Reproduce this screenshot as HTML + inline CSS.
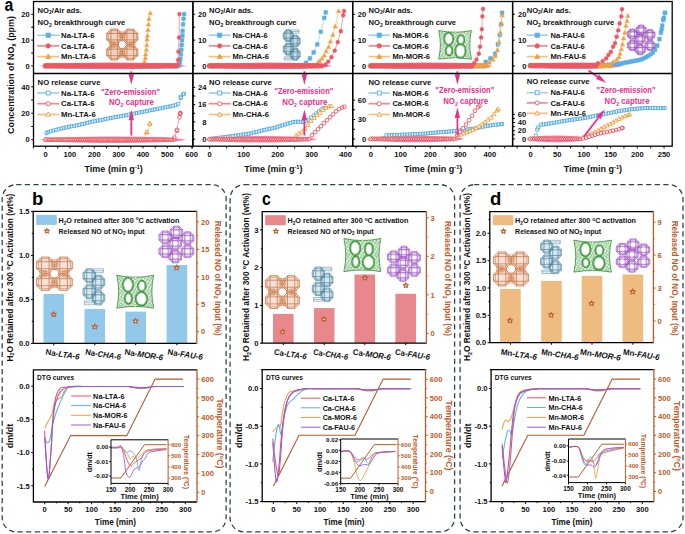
<!DOCTYPE html>
<html><head><meta charset="utf-8"><style>
html,body{margin:0;padding:0;background:#fff;width:685px;height:534px;overflow:hidden}
svg{display:block}
text{font-family:"Liberation Sans",sans-serif}
</style></head><body>
<svg width="685" height="534" viewBox="0 0 685 534">
<rect width="685" height="534" fill="#fff"/>
<text x="4.60" y="11.30" font-size="18" font-weight="bold" fill="#000" text-anchor="start" textLength="8.80" lengthAdjust="spacingAndGlyphs" >a</text>
<text transform="translate(14.0,75.0) rotate(-90)" font-size="9.6" font-weight="bold" fill="#111" text-anchor="middle" textLength="118" lengthAdjust="spacingAndGlyphs">Concentration of NO<tspan font-size="6.5" dy="2">x</tspan><tspan dy="-2"> (ppm)</tspan></text>
<line x1="33.43" y1="146.20" x2="33.43" y2="148.40" stroke="#000" stroke-width="1" />
<line x1="45.60" y1="146.20" x2="45.60" y2="148.40" stroke="#000" stroke-width="1" />
<line x1="57.77" y1="146.20" x2="57.77" y2="148.40" stroke="#000" stroke-width="1" />
<line x1="69.95" y1="146.20" x2="69.95" y2="148.40" stroke="#000" stroke-width="1" />
<line x1="82.12" y1="146.20" x2="82.12" y2="148.40" stroke="#000" stroke-width="1" />
<line x1="94.30" y1="146.20" x2="94.30" y2="148.40" stroke="#000" stroke-width="1" />
<line x1="106.47" y1="146.20" x2="106.47" y2="148.40" stroke="#000" stroke-width="1" />
<line x1="118.65" y1="146.20" x2="118.65" y2="148.40" stroke="#000" stroke-width="1" />
<line x1="130.82" y1="146.20" x2="130.82" y2="148.40" stroke="#000" stroke-width="1" />
<line x1="143.00" y1="146.20" x2="143.00" y2="148.40" stroke="#000" stroke-width="1" />
<line x1="155.18" y1="146.20" x2="155.18" y2="148.40" stroke="#000" stroke-width="1" />
<line x1="167.35" y1="146.20" x2="167.35" y2="148.40" stroke="#000" stroke-width="1" />
<line x1="179.52" y1="146.20" x2="179.52" y2="148.40" stroke="#000" stroke-width="1" />
<line x1="191.70" y1="146.20" x2="191.70" y2="148.40" stroke="#000" stroke-width="1" />
<text x="45.60" y="157.40" font-size="7.6" font-weight="bold" fill="#111" text-anchor="middle" >0</text>
<text x="69.95" y="157.40" font-size="7.6" font-weight="bold" fill="#111" text-anchor="middle" >100</text>
<text x="94.30" y="157.40" font-size="7.6" font-weight="bold" fill="#111" text-anchor="middle" >200</text>
<text x="118.65" y="157.40" font-size="7.6" font-weight="bold" fill="#111" text-anchor="middle" >300</text>
<text x="143.00" y="157.40" font-size="7.6" font-weight="bold" fill="#111" text-anchor="middle" >400</text>
<text x="167.35" y="157.40" font-size="7.6" font-weight="bold" fill="#111" text-anchor="middle" >500</text>
<text x="191.70" y="157.40" font-size="7.6" font-weight="bold" fill="#111" text-anchor="middle" >600</text>
<text x="113.7" y="172.2" font-size="9" font-weight="bold" fill="#111" text-anchor="middle">Time (min g<tspan font-size="5.6" dy="-3.3">-1</tspan><tspan dy="3.3">)</tspan></text>
<line x1="31.20" y1="65.90" x2="33.50" y2="65.90" stroke="#000" stroke-width="1" />
<text x="29.70" y="68.60" font-size="7.6" font-weight="bold" fill="#111" text-anchor="end" >0</text>
<line x1="31.20" y1="53.00" x2="33.50" y2="53.00" stroke="#000" stroke-width="1" />
<line x1="31.20" y1="40.10" x2="33.50" y2="40.10" stroke="#000" stroke-width="1" />
<text x="29.70" y="42.80" font-size="7.6" font-weight="bold" fill="#111" text-anchor="end" >10</text>
<line x1="31.20" y1="27.20" x2="33.50" y2="27.20" stroke="#000" stroke-width="1" />
<line x1="31.20" y1="14.30" x2="33.50" y2="14.30" stroke="#000" stroke-width="1" />
<text x="29.70" y="17.00" font-size="7.6" font-weight="bold" fill="#111" text-anchor="end" >20</text>
<line x1="31.20" y1="139.70" x2="33.50" y2="139.70" stroke="#000" stroke-width="1" />
<line x1="31.20" y1="113.25" x2="33.50" y2="113.25" stroke="#000" stroke-width="1" />
<line x1="31.20" y1="86.80" x2="33.50" y2="86.80" stroke="#000" stroke-width="1" />
<line x1="31.20" y1="126.47" x2="33.50" y2="126.47" stroke="#000" stroke-width="1" />
<line x1="31.20" y1="100.02" x2="33.50" y2="100.02" stroke="#000" stroke-width="1" />
<text x="29.70" y="142.40" font-size="7.6" font-weight="bold" fill="#111" text-anchor="end" >0</text>
<text x="29.70" y="115.95" font-size="7.6" font-weight="bold" fill="#111" text-anchor="end" >20</text>
<text x="29.70" y="89.50" font-size="7.6" font-weight="bold" fill="#111" text-anchor="end" >40</text>
<line x1="192.60" y1="146.20" x2="192.60" y2="148.40" stroke="#000" stroke-width="1" />
<line x1="209.60" y1="146.20" x2="209.60" y2="148.40" stroke="#000" stroke-width="1" />
<line x1="226.60" y1="146.20" x2="226.60" y2="148.40" stroke="#000" stroke-width="1" />
<line x1="243.60" y1="146.20" x2="243.60" y2="148.40" stroke="#000" stroke-width="1" />
<line x1="260.60" y1="146.20" x2="260.60" y2="148.40" stroke="#000" stroke-width="1" />
<line x1="277.60" y1="146.20" x2="277.60" y2="148.40" stroke="#000" stroke-width="1" />
<line x1="294.60" y1="146.20" x2="294.60" y2="148.40" stroke="#000" stroke-width="1" />
<line x1="311.60" y1="146.20" x2="311.60" y2="148.40" stroke="#000" stroke-width="1" />
<line x1="328.60" y1="146.20" x2="328.60" y2="148.40" stroke="#000" stroke-width="1" />
<line x1="345.60" y1="146.20" x2="345.60" y2="148.40" stroke="#000" stroke-width="1" />
<text x="209.60" y="157.40" font-size="7.6" font-weight="bold" fill="#111" text-anchor="middle" >0</text>
<text x="243.60" y="157.40" font-size="7.6" font-weight="bold" fill="#111" text-anchor="middle" >100</text>
<text x="277.60" y="157.40" font-size="7.6" font-weight="bold" fill="#111" text-anchor="middle" >200</text>
<text x="311.60" y="157.40" font-size="7.6" font-weight="bold" fill="#111" text-anchor="middle" >300</text>
<text x="345.60" y="157.40" font-size="7.6" font-weight="bold" fill="#111" text-anchor="middle" >400</text>
<text x="273.3" y="172.2" font-size="9" font-weight="bold" fill="#111" text-anchor="middle">Time (min g<tspan font-size="5.6" dy="-3.3">-1</tspan><tspan dy="3.3">)</tspan></text>
<line x1="192.90" y1="65.90" x2="195.20" y2="65.90" stroke="#000" stroke-width="1" />
<text x="206.50" y="68.60" font-size="7.6" font-weight="bold" fill="#111" text-anchor="end" >0</text>
<line x1="192.90" y1="53.00" x2="195.20" y2="53.00" stroke="#000" stroke-width="1" />
<line x1="192.90" y1="40.10" x2="195.20" y2="40.10" stroke="#000" stroke-width="1" />
<text x="206.50" y="42.80" font-size="7.6" font-weight="bold" fill="#111" text-anchor="end" >10</text>
<line x1="192.90" y1="27.20" x2="195.20" y2="27.20" stroke="#000" stroke-width="1" />
<line x1="192.90" y1="14.30" x2="195.20" y2="14.30" stroke="#000" stroke-width="1" />
<text x="206.50" y="17.00" font-size="7.6" font-weight="bold" fill="#111" text-anchor="end" >20</text>
<line x1="192.90" y1="139.20" x2="195.20" y2="139.20" stroke="#000" stroke-width="1" />
<line x1="192.90" y1="121.92" x2="195.20" y2="121.92" stroke="#000" stroke-width="1" />
<line x1="192.90" y1="104.64" x2="195.20" y2="104.64" stroke="#000" stroke-width="1" />
<line x1="192.90" y1="87.36" x2="195.20" y2="87.36" stroke="#000" stroke-width="1" />
<line x1="192.90" y1="130.56" x2="195.20" y2="130.56" stroke="#000" stroke-width="1" />
<line x1="192.90" y1="113.28" x2="195.20" y2="113.28" stroke="#000" stroke-width="1" />
<line x1="192.90" y1="96.00" x2="195.20" y2="96.00" stroke="#000" stroke-width="1" />
<text x="206.50" y="141.90" font-size="7.6" font-weight="bold" fill="#111" text-anchor="end" >0</text>
<text x="206.50" y="124.62" font-size="7.6" font-weight="bold" fill="#111" text-anchor="end" >8</text>
<text x="206.50" y="107.34" font-size="7.6" font-weight="bold" fill="#111" text-anchor="end" >16</text>
<text x="206.50" y="90.06" font-size="7.6" font-weight="bold" fill="#111" text-anchor="end" >24</text>
<line x1="355.93" y1="146.20" x2="355.93" y2="148.40" stroke="#000" stroke-width="1" />
<line x1="370.80" y1="146.20" x2="370.80" y2="148.40" stroke="#000" stroke-width="1" />
<line x1="385.68" y1="146.20" x2="385.68" y2="148.40" stroke="#000" stroke-width="1" />
<line x1="400.55" y1="146.20" x2="400.55" y2="148.40" stroke="#000" stroke-width="1" />
<line x1="415.43" y1="146.20" x2="415.43" y2="148.40" stroke="#000" stroke-width="1" />
<line x1="430.30" y1="146.20" x2="430.30" y2="148.40" stroke="#000" stroke-width="1" />
<line x1="445.18" y1="146.20" x2="445.18" y2="148.40" stroke="#000" stroke-width="1" />
<line x1="460.05" y1="146.20" x2="460.05" y2="148.40" stroke="#000" stroke-width="1" />
<line x1="474.93" y1="146.20" x2="474.93" y2="148.40" stroke="#000" stroke-width="1" />
<line x1="489.80" y1="146.20" x2="489.80" y2="148.40" stroke="#000" stroke-width="1" />
<line x1="504.68" y1="146.20" x2="504.68" y2="148.40" stroke="#000" stroke-width="1" />
<text x="370.80" y="157.40" font-size="7.6" font-weight="bold" fill="#111" text-anchor="middle" >0</text>
<text x="400.55" y="157.40" font-size="7.6" font-weight="bold" fill="#111" text-anchor="middle" >100</text>
<text x="430.30" y="157.40" font-size="7.6" font-weight="bold" fill="#111" text-anchor="middle" >200</text>
<text x="460.05" y="157.40" font-size="7.6" font-weight="bold" fill="#111" text-anchor="middle" >300</text>
<text x="489.80" y="157.40" font-size="7.6" font-weight="bold" fill="#111" text-anchor="middle" >400</text>
<text x="433.1" y="172.2" font-size="9" font-weight="bold" fill="#111" text-anchor="middle">Time (min g<tspan font-size="5.6" dy="-3.3">-1</tspan><tspan dy="3.3">)</tspan></text>
<line x1="352.70" y1="65.90" x2="355.00" y2="65.90" stroke="#000" stroke-width="1" />
<text x="366.30" y="68.60" font-size="7.6" font-weight="bold" fill="#111" text-anchor="end" >0</text>
<line x1="352.70" y1="53.00" x2="355.00" y2="53.00" stroke="#000" stroke-width="1" />
<line x1="352.70" y1="40.10" x2="355.00" y2="40.10" stroke="#000" stroke-width="1" />
<text x="366.30" y="42.80" font-size="7.6" font-weight="bold" fill="#111" text-anchor="end" >10</text>
<line x1="352.70" y1="27.20" x2="355.00" y2="27.20" stroke="#000" stroke-width="1" />
<line x1="352.70" y1="14.30" x2="355.00" y2="14.30" stroke="#000" stroke-width="1" />
<text x="366.30" y="17.00" font-size="7.6" font-weight="bold" fill="#111" text-anchor="end" >20</text>
<line x1="352.70" y1="139.00" x2="355.00" y2="139.00" stroke="#000" stroke-width="1" />
<line x1="352.70" y1="119.50" x2="355.00" y2="119.50" stroke="#000" stroke-width="1" />
<line x1="352.70" y1="100.00" x2="355.00" y2="100.00" stroke="#000" stroke-width="1" />
<line x1="352.70" y1="129.25" x2="355.00" y2="129.25" stroke="#000" stroke-width="1" />
<line x1="352.70" y1="109.75" x2="355.00" y2="109.75" stroke="#000" stroke-width="1" />
<text x="366.30" y="141.70" font-size="7.6" font-weight="bold" fill="#111" text-anchor="end" >0</text>
<text x="366.30" y="122.20" font-size="7.6" font-weight="bold" fill="#111" text-anchor="end" >30</text>
<text x="366.30" y="102.70" font-size="7.6" font-weight="bold" fill="#111" text-anchor="end" >60</text>
<line x1="517.15" y1="146.20" x2="517.15" y2="148.40" stroke="#000" stroke-width="1" />
<line x1="530.50" y1="146.20" x2="530.50" y2="148.40" stroke="#000" stroke-width="1" />
<line x1="543.85" y1="146.20" x2="543.85" y2="148.40" stroke="#000" stroke-width="1" />
<line x1="557.20" y1="146.20" x2="557.20" y2="148.40" stroke="#000" stroke-width="1" />
<line x1="570.55" y1="146.20" x2="570.55" y2="148.40" stroke="#000" stroke-width="1" />
<line x1="583.90" y1="146.20" x2="583.90" y2="148.40" stroke="#000" stroke-width="1" />
<line x1="597.25" y1="146.20" x2="597.25" y2="148.40" stroke="#000" stroke-width="1" />
<line x1="610.60" y1="146.20" x2="610.60" y2="148.40" stroke="#000" stroke-width="1" />
<line x1="623.95" y1="146.20" x2="623.95" y2="148.40" stroke="#000" stroke-width="1" />
<line x1="637.30" y1="146.20" x2="637.30" y2="148.40" stroke="#000" stroke-width="1" />
<line x1="650.65" y1="146.20" x2="650.65" y2="148.40" stroke="#000" stroke-width="1" />
<line x1="664.00" y1="146.20" x2="664.00" y2="148.40" stroke="#000" stroke-width="1" />
<text x="530.50" y="157.40" font-size="7.6" font-weight="bold" fill="#111" text-anchor="middle" >0</text>
<text x="557.20" y="157.40" font-size="7.6" font-weight="bold" fill="#111" text-anchor="middle" >50</text>
<text x="583.90" y="157.40" font-size="7.6" font-weight="bold" fill="#111" text-anchor="middle" >100</text>
<text x="610.60" y="157.40" font-size="7.6" font-weight="bold" fill="#111" text-anchor="middle" >150</text>
<text x="637.30" y="157.40" font-size="7.6" font-weight="bold" fill="#111" text-anchor="middle" >200</text>
<text x="664.00" y="157.40" font-size="7.6" font-weight="bold" fill="#111" text-anchor="middle" >250</text>
<text x="592.9" y="172.2" font-size="9" font-weight="bold" fill="#111" text-anchor="middle">Time (min g<tspan font-size="5.6" dy="-3.3">-1</tspan><tspan dy="3.3">)</tspan></text>
<line x1="512.60" y1="65.90" x2="514.90" y2="65.90" stroke="#000" stroke-width="1" />
<text x="526.40" y="68.60" font-size="7.6" font-weight="bold" fill="#111" text-anchor="end" >0</text>
<line x1="512.60" y1="53.00" x2="514.90" y2="53.00" stroke="#000" stroke-width="1" />
<line x1="512.60" y1="40.10" x2="514.90" y2="40.10" stroke="#000" stroke-width="1" />
<text x="526.40" y="42.80" font-size="7.6" font-weight="bold" fill="#111" text-anchor="end" >10</text>
<line x1="512.60" y1="27.20" x2="514.90" y2="27.20" stroke="#000" stroke-width="1" />
<line x1="512.60" y1="14.30" x2="514.90" y2="14.30" stroke="#000" stroke-width="1" />
<text x="526.40" y="17.00" font-size="7.6" font-weight="bold" fill="#111" text-anchor="end" >20</text>
<line x1="512.60" y1="138.90" x2="514.90" y2="138.90" stroke="#000" stroke-width="1" />
<line x1="512.60" y1="130.70" x2="514.90" y2="130.70" stroke="#000" stroke-width="1" />
<line x1="512.60" y1="122.50" x2="514.90" y2="122.50" stroke="#000" stroke-width="1" />
<line x1="512.60" y1="114.30" x2="514.90" y2="114.30" stroke="#000" stroke-width="1" />
<line x1="512.60" y1="134.80" x2="514.90" y2="134.80" stroke="#000" stroke-width="1" />
<line x1="512.60" y1="126.60" x2="514.90" y2="126.60" stroke="#000" stroke-width="1" />
<line x1="512.60" y1="118.40" x2="514.90" y2="118.40" stroke="#000" stroke-width="1" />
<text x="526.20" y="141.60" font-size="7.6" font-weight="bold" fill="#111" text-anchor="end" >0</text>
<text x="526.20" y="133.40" font-size="7.6" font-weight="bold" fill="#111" text-anchor="end" >20</text>
<text x="526.20" y="125.20" font-size="7.6" font-weight="bold" fill="#111" text-anchor="end" >40</text>
<text x="526.20" y="117.00" font-size="7.6" font-weight="bold" fill="#111" text-anchor="end" >60</text>
<path d="M39.5,65.9 Q57.1,62.6 113.0,62.6 Q168.9,62.6 186.5,65.9 Q168.9,69.2 113.0,69.2 Q57.1,69.2 39.5,65.9Z" fill="#ee6cbc" opacity="0.9"/>
<polyline points="45.60,65.90 47.01,65.90 48.42,65.90 49.83,65.90 51.23,65.90 52.64,65.90 54.05,65.90 55.46,65.90 56.87,65.90 58.28,65.90 59.69,65.90 61.09,65.90 62.50,65.90 63.91,65.90 65.32,65.90 66.73,65.90 68.14,65.90 69.54,65.90 70.95,65.90 72.36,65.90 73.77,65.90 75.18,65.90 76.59,65.90 78.00,65.90 79.40,65.90 80.81,65.90 82.22,65.90 83.63,65.90 85.04,65.90 86.45,65.90 87.86,65.90 89.26,65.90 90.67,65.90 92.08,65.90 93.49,65.90 94.90,65.90 96.31,65.90 97.71,65.90 99.12,65.90 100.53,65.90 101.94,65.90 103.35,65.90 104.76,65.90 106.17,65.90 107.57,65.90 108.98,65.90 110.39,65.90 111.80,65.90 113.21,65.90 114.62,65.90 116.03,65.90 117.43,65.90 118.84,65.90 120.25,65.90 121.66,65.90 123.07,65.90 124.48,65.90 125.89,65.90 127.29,65.90 128.70,65.90 130.11,65.90 131.52,65.90 132.93,65.90 134.34,65.90 135.74,65.90 137.15,65.90 138.56,65.90 139.97,65.90 141.38,65.90 142.79,65.90 144.20,65.90 145.60,65.90 147.01,65.90 148.42,65.90 149.83,65.90 151.24,65.90 152.65,65.90 154.06,65.90 155.46,65.90 156.87,65.90 158.28,65.90 159.69,65.90 161.10,65.90 162.51,65.90 163.91,65.90 165.32,65.90 166.73,65.90 168.14,65.90 169.55,65.90 170.96,65.90 172.37,65.90 173.77,65.90 175.18,65.90 176.59,65.90 178.00,65.90 179.80,62.80 180.30,59.00 180.90,54.40 181.30,49.70 181.60,45.00 182.00,40.30 182.40,35.60 182.70,30.90 183.10,24.40 183.50,18.80 184.00,14.10" stroke="#9fd0f0" stroke-width="0.8" fill="none" stroke-linejoin="round" />
<line x1="45.60" y1="65.90" x2="178.00" y2="65.90" stroke="#5aafe3" stroke-width="4.2" />
<path d="M43.5,63.8h4.2v4.2h-4.2zM45.7,63.8h4.2v4.2h-4.2zM47.9,63.8h4.2v4.2h-4.2zM50.1,63.8h4.2v4.2h-4.2zM52.3,63.8h4.2v4.2h-4.2zM54.5,63.8h4.2v4.2h-4.2zM56.7,63.8h4.2v4.2h-4.2zM58.9,63.8h4.2v4.2h-4.2zM61.2,63.8h4.2v4.2h-4.2zM63.4,63.8h4.2v4.2h-4.2zM65.6,63.8h4.2v4.2h-4.2zM67.8,63.8h4.2v4.2h-4.2zM70.0,63.8h4.2v4.2h-4.2zM72.2,63.8h4.2v4.2h-4.2zM74.4,63.8h4.2v4.2h-4.2zM76.6,63.8h4.2v4.2h-4.2zM78.8,63.8h4.2v4.2h-4.2zM81.0,63.8h4.2v4.2h-4.2zM83.2,63.8h4.2v4.2h-4.2zM85.4,63.8h4.2v4.2h-4.2zM87.6,63.8h4.2v4.2h-4.2zM89.8,63.8h4.2v4.2h-4.2zM92.0,63.8h4.2v4.2h-4.2zM94.3,63.8h4.2v4.2h-4.2zM96.5,63.8h4.2v4.2h-4.2zM98.7,63.8h4.2v4.2h-4.2zM100.9,63.8h4.2v4.2h-4.2zM103.1,63.8h4.2v4.2h-4.2zM105.3,63.8h4.2v4.2h-4.2zM107.5,63.8h4.2v4.2h-4.2zM109.7,63.8h4.2v4.2h-4.2zM111.9,63.8h4.2v4.2h-4.2zM114.1,63.8h4.2v4.2h-4.2zM116.3,63.8h4.2v4.2h-4.2zM118.5,63.8h4.2v4.2h-4.2zM120.7,63.8h4.2v4.2h-4.2zM122.9,63.8h4.2v4.2h-4.2zM125.1,63.8h4.2v4.2h-4.2zM127.4,63.8h4.2v4.2h-4.2zM129.6,63.8h4.2v4.2h-4.2zM131.8,63.8h4.2v4.2h-4.2zM134.0,63.8h4.2v4.2h-4.2zM136.2,63.8h4.2v4.2h-4.2zM138.4,63.8h4.2v4.2h-4.2zM140.6,63.8h4.2v4.2h-4.2zM142.8,63.8h4.2v4.2h-4.2zM145.0,63.8h4.2v4.2h-4.2zM147.2,63.8h4.2v4.2h-4.2zM149.4,63.8h4.2v4.2h-4.2zM151.6,63.8h4.2v4.2h-4.2zM153.8,63.8h4.2v4.2h-4.2zM156.0,63.8h4.2v4.2h-4.2zM158.2,63.8h4.2v4.2h-4.2zM160.5,63.8h4.2v4.2h-4.2zM162.7,63.8h4.2v4.2h-4.2zM164.9,63.8h4.2v4.2h-4.2zM167.1,63.8h4.2v4.2h-4.2zM169.3,63.8h4.2v4.2h-4.2zM171.5,63.8h4.2v4.2h-4.2zM173.7,63.8h4.2v4.2h-4.2zM175.9,63.8h4.2v4.2h-4.2z" fill="#5aafe3" stroke="#5aafe3" stroke-width="0.5"/>
<path d="M178.0,60.9h3.7v3.7h-3.7zM178.5,57.1h3.7v3.7h-3.7zM179.1,52.5h3.7v3.7h-3.7zM179.5,47.9h3.7v3.7h-3.7zM179.8,43.1h3.7v3.7h-3.7zM180.2,38.4h3.7v3.7h-3.7zM180.6,33.8h3.7v3.7h-3.7zM180.8,29.0h3.7v3.7h-3.7zM181.2,22.5h3.7v3.7h-3.7zM181.7,16.9h3.7v3.7h-3.7zM182.2,12.2h3.7v3.7h-3.7z" fill="#5aafe3" stroke="#5aafe3" stroke-width="0.5"/>
<polyline points="45.60,65.90 47.02,65.90 48.44,65.90 49.86,65.90 51.28,65.90 52.69,65.90 54.11,65.90 55.53,65.90 56.95,65.90 58.37,65.90 59.79,65.90 61.21,65.90 62.63,65.90 64.04,65.90 65.46,65.90 66.88,65.90 68.30,65.90 69.72,65.90 71.14,65.90 72.56,65.90 73.98,65.90 75.40,65.90 76.81,65.90 78.23,65.90 79.65,65.90 81.07,65.90 82.49,65.90 83.91,65.90 85.33,65.90 86.75,65.90 88.17,65.90 89.58,65.90 91.00,65.90 92.42,65.90 93.84,65.90 95.26,65.90 96.68,65.90 98.10,65.90 99.52,65.90 100.93,65.90 102.35,65.90 103.77,65.90 105.19,65.90 106.61,65.90 108.03,65.90 109.45,65.90 110.87,65.90 112.29,65.90 113.70,65.90 115.12,65.90 116.54,65.90 117.96,65.90 119.38,65.90 120.80,65.90 122.22,65.90 123.64,65.90 125.06,65.90 126.47,65.90 127.89,65.90 129.31,65.90 130.73,65.90 132.15,65.90 133.57,65.90 134.99,65.90 136.41,65.90 137.82,65.90 139.24,65.90 140.66,65.90 142.08,65.90 143.50,65.90 144.50,61.90 145.30,58.10 145.60,54.40 146.40,49.70 146.80,45.00 147.10,39.40 147.50,35.60 147.90,30.00 148.40,24.40 149.00,18.80 150.30,13.10" stroke="#f3c080" stroke-width="0.8" fill="none" stroke-linejoin="round" />
<line x1="45.60" y1="65.90" x2="143.50" y2="65.90" stroke="#f0a040" stroke-width="4.2" />
<path d="M45.6,63.3L48.1,67.7L43.1,67.7zM47.8,63.3L50.3,67.7L45.3,67.7zM50.1,63.3L52.5,67.7L47.6,67.7zM52.3,63.3L54.8,67.7L49.8,67.7zM54.5,63.3L57.0,67.7L52.0,67.7zM56.7,63.3L59.2,67.7L54.2,67.7zM59.0,63.3L61.4,67.7L56.5,67.7zM61.2,63.3L63.7,67.7L58.7,67.7zM63.4,63.3L65.9,67.7L60.9,67.7zM65.6,63.3L68.1,67.7L63.1,67.7zM67.8,63.3L70.3,67.7L65.4,67.7zM70.1,63.3L72.6,67.7L67.6,67.7zM72.3,63.3L74.8,67.7L69.8,67.7zM74.5,63.3L77.0,67.7L72.0,67.7zM76.8,63.3L79.2,67.7L74.3,67.7zM79.0,63.3L81.5,67.7L76.5,67.7zM81.2,63.3L83.7,67.7L78.7,67.7zM83.4,63.3L85.9,67.7L80.9,67.7zM85.7,63.3L88.1,67.7L83.2,67.7zM87.9,63.3L90.4,67.7L85.4,67.7zM90.1,63.3L92.6,67.7L87.6,67.7zM92.3,63.3L94.8,67.7L89.8,67.7zM94.6,63.3L97.0,67.7L92.1,67.7zM96.8,63.3L99.3,67.7L94.3,67.7zM99.0,63.3L101.5,67.7L96.5,67.7zM101.2,63.3L103.7,67.7L98.7,67.7zM103.5,63.3L105.9,67.7L101.0,67.7zM105.7,63.3L108.2,67.7L103.2,67.7zM107.9,63.3L110.4,67.7L105.4,67.7zM110.1,63.3L112.6,67.7L107.6,67.7zM112.3,63.3L114.8,67.7L109.9,67.7zM114.6,63.3L117.1,67.7L112.1,67.7zM116.8,63.3L119.3,67.7L114.3,67.7zM119.0,63.3L121.5,67.7L116.5,67.7zM121.2,63.3L123.7,67.7L118.8,67.7zM123.5,63.3L126.0,67.7L121.0,67.7zM125.7,63.3L128.2,67.7L123.2,67.7zM127.9,63.3L130.4,67.7L125.4,67.7zM130.2,63.3L132.6,67.7L127.7,67.7zM132.4,63.3L134.9,67.7L129.9,67.7zM134.6,63.3L137.1,67.7L132.1,67.7zM136.8,63.3L139.3,67.7L134.3,67.7zM139.1,63.3L141.5,67.7L136.6,67.7zM141.3,63.3L143.8,67.7L138.8,67.7zM143.5,63.3L146.0,67.7L141.0,67.7z" fill="#f0a040" stroke="#f0a040" stroke-width="0.5"/>
<path d="M144.5,59.6L146.7,63.5L142.3,63.5zM145.3,55.8L147.5,59.7L143.1,59.7zM145.6,52.1L147.8,56.0L143.4,56.0zM146.4,47.4L148.6,51.3L144.2,51.3zM146.8,42.7L149.0,46.6L144.6,46.6zM147.1,37.1L149.3,41.0L144.9,41.0zM147.5,33.3L149.7,37.2L145.3,37.2zM147.9,27.7L150.1,31.6L145.7,31.6zM148.4,22.1L150.6,26.0L146.2,26.0zM149.0,16.5L151.2,20.4L146.8,20.4zM150.3,10.8L152.5,14.7L148.1,14.7z" fill="#f0a040" stroke="#f0a040" stroke-width="0.5"/>
<polyline points="45.60,65.90 47.00,65.90 48.40,65.90 49.81,65.90 51.21,65.90 52.61,65.90 54.01,65.90 55.42,65.90 56.82,65.90 58.22,65.90 59.62,65.90 61.02,65.90 62.43,65.90 63.83,65.90 65.23,65.90 66.63,65.90 68.03,65.90 69.44,65.90 70.84,65.90 72.24,65.90 73.64,65.90 75.05,65.90 76.45,65.90 77.85,65.90 79.25,65.90 80.65,65.90 82.06,65.90 83.46,65.90 84.86,65.90 86.26,65.90 87.66,65.90 89.07,65.90 90.47,65.90 91.87,65.90 93.27,65.90 94.68,65.90 96.08,65.90 97.48,65.90 98.88,65.90 100.28,65.90 101.69,65.90 103.09,65.90 104.49,65.90 105.89,65.90 107.29,65.90 108.70,65.90 110.10,65.90 111.50,65.90 112.90,65.90 114.31,65.90 115.71,65.90 117.11,65.90 118.51,65.90 119.91,65.90 121.32,65.90 122.72,65.90 124.12,65.90 125.52,65.90 126.92,65.90 128.33,65.90 129.73,65.90 131.13,65.90 132.53,65.90 133.94,65.90 135.34,65.90 136.74,65.90 138.14,65.90 139.54,65.90 140.95,65.90 142.35,65.90 143.75,65.90 145.15,65.90 146.55,65.90 147.96,65.90 149.36,65.90 150.76,65.90 152.16,65.90 153.57,65.90 154.97,65.90 156.37,65.90 157.77,65.90 159.17,65.90 160.58,65.90 161.98,65.90 163.38,65.90 164.78,65.90 166.18,65.90 167.59,65.90 168.99,65.90 170.39,65.90 171.79,65.90 173.20,65.90 174.60,65.90 176.00,65.90 177.50,64.70 178.10,60.00 178.40,51.60 179.00,37.50 179.40,14.10" stroke="#ee8a90" stroke-width="0.8" fill="none" stroke-linejoin="round" />
<line x1="45.60" y1="65.90" x2="176.00" y2="65.90" stroke="#ef5660" stroke-width="4.2" />
<path d="M43.4,65.9a2.21,2.21 0 1,0 4.41,0a2.21,2.21 0 1,0 -4.41,0M45.6,65.9a2.21,2.21 0 1,0 4.41,0a2.21,2.21 0 1,0 -4.41,0M47.8,65.9a2.21,2.21 0 1,0 4.41,0a2.21,2.21 0 1,0 -4.41,0M50.0,65.9a2.21,2.21 0 1,0 4.41,0a2.21,2.21 0 1,0 -4.41,0M52.2,65.9a2.21,2.21 0 1,0 4.41,0a2.21,2.21 0 1,0 -4.41,0M54.4,65.9a2.21,2.21 0 1,0 4.41,0a2.21,2.21 0 1,0 -4.41,0M56.7,65.9a2.21,2.21 0 1,0 4.41,0a2.21,2.21 0 1,0 -4.41,0M58.9,65.9a2.21,2.21 0 1,0 4.41,0a2.21,2.21 0 1,0 -4.41,0M61.1,65.9a2.21,2.21 0 1,0 4.41,0a2.21,2.21 0 1,0 -4.41,0M63.3,65.9a2.21,2.21 0 1,0 4.41,0a2.21,2.21 0 1,0 -4.41,0M65.5,65.9a2.21,2.21 0 1,0 4.41,0a2.21,2.21 0 1,0 -4.41,0M67.7,65.9a2.21,2.21 0 1,0 4.41,0a2.21,2.21 0 1,0 -4.41,0M69.9,65.9a2.21,2.21 0 1,0 4.41,0a2.21,2.21 0 1,0 -4.41,0M72.1,65.9a2.21,2.21 0 1,0 4.41,0a2.21,2.21 0 1,0 -4.41,0M74.3,65.9a2.21,2.21 0 1,0 4.41,0a2.21,2.21 0 1,0 -4.41,0M76.5,65.9a2.21,2.21 0 1,0 4.41,0a2.21,2.21 0 1,0 -4.41,0M78.8,65.9a2.21,2.21 0 1,0 4.41,0a2.21,2.21 0 1,0 -4.41,0M81.0,65.9a2.21,2.21 0 1,0 4.41,0a2.21,2.21 0 1,0 -4.41,0M83.2,65.9a2.21,2.21 0 1,0 4.41,0a2.21,2.21 0 1,0 -4.41,0M85.4,65.9a2.21,2.21 0 1,0 4.41,0a2.21,2.21 0 1,0 -4.41,0M87.6,65.9a2.21,2.21 0 1,0 4.41,0a2.21,2.21 0 1,0 -4.41,0M89.8,65.9a2.21,2.21 0 1,0 4.41,0a2.21,2.21 0 1,0 -4.41,0M92.0,65.9a2.21,2.21 0 1,0 4.41,0a2.21,2.21 0 1,0 -4.41,0M94.2,65.9a2.21,2.21 0 1,0 4.41,0a2.21,2.21 0 1,0 -4.41,0M96.4,65.9a2.21,2.21 0 1,0 4.41,0a2.21,2.21 0 1,0 -4.41,0M98.6,65.9a2.21,2.21 0 1,0 4.41,0a2.21,2.21 0 1,0 -4.41,0M100.9,65.9a2.21,2.21 0 1,0 4.41,0a2.21,2.21 0 1,0 -4.41,0M103.1,65.9a2.21,2.21 0 1,0 4.41,0a2.21,2.21 0 1,0 -4.41,0M105.3,65.9a2.21,2.21 0 1,0 4.41,0a2.21,2.21 0 1,0 -4.41,0M107.5,65.9a2.21,2.21 0 1,0 4.41,0a2.21,2.21 0 1,0 -4.41,0M109.7,65.9a2.21,2.21 0 1,0 4.41,0a2.21,2.21 0 1,0 -4.41,0M111.9,65.9a2.21,2.21 0 1,0 4.41,0a2.21,2.21 0 1,0 -4.41,0M114.1,65.9a2.21,2.21 0 1,0 4.41,0a2.21,2.21 0 1,0 -4.41,0M116.3,65.9a2.21,2.21 0 1,0 4.41,0a2.21,2.21 0 1,0 -4.41,0M118.5,65.9a2.21,2.21 0 1,0 4.41,0a2.21,2.21 0 1,0 -4.41,0M120.8,65.9a2.21,2.21 0 1,0 4.41,0a2.21,2.21 0 1,0 -4.41,0M123.0,65.9a2.21,2.21 0 1,0 4.41,0a2.21,2.21 0 1,0 -4.41,0M125.2,65.9a2.21,2.21 0 1,0 4.41,0a2.21,2.21 0 1,0 -4.41,0M127.4,65.9a2.21,2.21 0 1,0 4.41,0a2.21,2.21 0 1,0 -4.41,0M129.6,65.9a2.21,2.21 0 1,0 4.41,0a2.21,2.21 0 1,0 -4.41,0M131.8,65.9a2.21,2.21 0 1,0 4.41,0a2.21,2.21 0 1,0 -4.41,0M134.0,65.9a2.21,2.21 0 1,0 4.41,0a2.21,2.21 0 1,0 -4.41,0M136.2,65.9a2.21,2.21 0 1,0 4.41,0a2.21,2.21 0 1,0 -4.41,0M138.4,65.9a2.21,2.21 0 1,0 4.41,0a2.21,2.21 0 1,0 -4.41,0M140.6,65.9a2.21,2.21 0 1,0 4.41,0a2.21,2.21 0 1,0 -4.41,0M142.9,65.9a2.21,2.21 0 1,0 4.41,0a2.21,2.21 0 1,0 -4.41,0M145.1,65.9a2.21,2.21 0 1,0 4.41,0a2.21,2.21 0 1,0 -4.41,0M147.3,65.9a2.21,2.21 0 1,0 4.41,0a2.21,2.21 0 1,0 -4.41,0M149.5,65.9a2.21,2.21 0 1,0 4.41,0a2.21,2.21 0 1,0 -4.41,0M151.7,65.9a2.21,2.21 0 1,0 4.41,0a2.21,2.21 0 1,0 -4.41,0M153.9,65.9a2.21,2.21 0 1,0 4.41,0a2.21,2.21 0 1,0 -4.41,0M156.1,65.9a2.21,2.21 0 1,0 4.41,0a2.21,2.21 0 1,0 -4.41,0M158.3,65.9a2.21,2.21 0 1,0 4.41,0a2.21,2.21 0 1,0 -4.41,0M160.5,65.9a2.21,2.21 0 1,0 4.41,0a2.21,2.21 0 1,0 -4.41,0M162.7,65.9a2.21,2.21 0 1,0 4.41,0a2.21,2.21 0 1,0 -4.41,0M165.0,65.9a2.21,2.21 0 1,0 4.41,0a2.21,2.21 0 1,0 -4.41,0M167.2,65.9a2.21,2.21 0 1,0 4.41,0a2.21,2.21 0 1,0 -4.41,0M169.4,65.9a2.21,2.21 0 1,0 4.41,0a2.21,2.21 0 1,0 -4.41,0M171.6,65.9a2.21,2.21 0 1,0 4.41,0a2.21,2.21 0 1,0 -4.41,0M173.8,65.9a2.21,2.21 0 1,0 4.41,0a2.21,2.21 0 1,0 -4.41,0" fill="#ef5660" stroke="#ef5660" stroke-width="0.5"/>
<path d="M175.6,64.7a1.94,1.94 0 1,0 3.89,0a1.94,1.94 0 1,0 -3.89,0M176.2,60.0a1.94,1.94 0 1,0 3.89,0a1.94,1.94 0 1,0 -3.89,0M176.5,51.6a1.94,1.94 0 1,0 3.89,0a1.94,1.94 0 1,0 -3.89,0M177.1,37.5a1.94,1.94 0 1,0 3.89,0a1.94,1.94 0 1,0 -3.89,0M177.5,14.1a1.94,1.94 0 1,0 3.89,0a1.94,1.94 0 1,0 -3.89,0" fill="#ef5660" stroke="#ef5660" stroke-width="0.5"/>
<path d="M39.5,139.7 Q57.1,136.4 113.0,136.4 Q168.9,136.4 186.5,139.7 Q168.9,143.0 113.0,143.0 Q57.1,143.0 39.5,139.7Z" fill="#ee6cbc" opacity="0.9"/>
<polyline points="45.60,139.70 45.60,139.70 46.50,133.00 50.00,131.50 60.00,128.80 70.00,126.60 80.00,124.70 90.00,122.10 110.00,118.20 130.00,114.40 150.00,110.40 170.00,106.40 177.70,104.70 180.20,101.00 181.00,96.80 183.90,93.70" stroke="#9fd0f0" stroke-width="0.8" fill="none" stroke-linejoin="round" />
<path d="M44.1,138.1h3.1v3.1h-3.1zM46.7,130.7h3.1v3.1h-3.1zM49.3,129.7h3.1v3.1h-3.1zM51.9,129.0h3.1v3.1h-3.1zM54.5,128.3h3.1v3.1h-3.1zM57.1,127.6h3.1v3.1h-3.1zM59.7,127.0h3.1v3.1h-3.1zM62.3,126.4h3.1v3.1h-3.1zM64.9,125.8h3.1v3.1h-3.1zM67.5,125.3h3.1v3.1h-3.1zM70.0,124.7h3.1v3.1h-3.1zM72.6,124.3h3.1v3.1h-3.1zM75.2,123.8h3.1v3.1h-3.1zM77.8,123.3h3.1v3.1h-3.1zM80.4,122.6h3.1v3.1h-3.1zM83.0,122.0h3.1v3.1h-3.1zM85.6,121.3h3.1v3.1h-3.1zM88.2,120.6h3.1v3.1h-3.1zM90.8,120.1h3.1v3.1h-3.1zM93.4,119.6h3.1v3.1h-3.1zM96.0,119.1h3.1v3.1h-3.1zM98.6,118.6h3.1v3.1h-3.1zM101.2,118.1h3.1v3.1h-3.1zM103.8,117.5h3.1v3.1h-3.1zM106.4,117.0h3.1v3.1h-3.1zM109.0,116.5h3.1v3.1h-3.1zM111.6,116.0h3.1v3.1h-3.1zM114.2,115.5h3.1v3.1h-3.1zM116.8,115.1h3.1v3.1h-3.1zM119.4,114.6h3.1v3.1h-3.1zM122.0,114.1h3.1v3.1h-3.1zM124.6,113.6h3.1v3.1h-3.1zM127.2,113.1h3.1v3.1h-3.1zM129.8,112.6h3.1v3.1h-3.1zM132.4,112.1h3.1v3.1h-3.1zM135.0,111.5h3.1v3.1h-3.1zM137.6,111.0h3.1v3.1h-3.1zM140.2,110.5h3.1v3.1h-3.1zM142.8,110.0h3.1v3.1h-3.1zM145.4,109.5h3.1v3.1h-3.1zM148.0,108.9h3.1v3.1h-3.1zM150.6,108.4h3.1v3.1h-3.1zM153.2,107.9h3.1v3.1h-3.1zM155.8,107.4h3.1v3.1h-3.1zM158.4,106.9h3.1v3.1h-3.1zM161.0,106.3h3.1v3.1h-3.1zM163.6,105.8h3.1v3.1h-3.1zM166.2,105.3h3.1v3.1h-3.1zM168.8,104.8h3.1v3.1h-3.1zM171.4,104.2h3.1v3.1h-3.1zM174.0,103.6h3.1v3.1h-3.1zM176.6,102.4h3.1v3.1h-3.1zM179.2,96.3h3.1v3.1h-3.1zM181.8,92.7h3.1v3.1h-3.1zM182.3,92.2h3.1v3.1h-3.1zM45.0,131.4h3.1v3.1h-3.1zM179.4,95.2h3.1v3.1h-3.1z" fill="#fff" stroke="#5aafe3" stroke-width="0.9"/>
<polyline points="45.60,139.70 48.00,139.70 50.40,139.70 52.80,139.70 55.20,139.70 57.60,139.70 60.00,139.70 62.40,139.70 64.80,139.70 67.20,139.70 69.60,139.70 72.00,139.70 74.40,139.70 76.80,139.70 79.20,139.70 81.60,139.70 84.00,139.70 86.40,139.70 88.80,139.70 91.20,139.70 93.60,139.70 96.00,139.70 98.40,139.70 100.80,139.70 103.20,139.70 105.60,139.70 108.00,139.70 110.40,139.70 112.80,139.70 115.20,139.70 117.60,139.70 120.00,139.70 122.40,139.70 124.80,139.70 127.20,139.70 129.60,139.70 132.00,139.70 134.40,139.70 136.80,139.70 139.20,139.70 141.60,139.70 144.00,139.70 146.50,132.50 148.20,130.80 149.90,123.70" stroke="#f3c080" stroke-width="0.8" fill="none" stroke-linejoin="round" />
<path d="M45.6,137.5L47.7,141.2L43.5,141.2zM47.4,137.5L49.5,141.2L45.3,141.2zM49.2,137.5L51.3,141.2L47.2,141.2zM51.1,137.5L53.1,141.2L49.0,141.2zM52.9,137.5L55.0,141.2L50.8,141.2zM54.7,137.5L56.8,141.2L52.6,141.2zM56.5,137.5L58.6,141.2L54.5,141.2zM58.4,137.5L60.4,141.2L56.3,141.2zM60.2,137.5L62.3,141.2L58.1,141.2zM62.0,137.5L64.1,141.2L59.9,141.2zM63.8,137.5L65.9,141.2L61.7,141.2zM65.6,137.5L67.7,141.2L63.6,141.2zM67.5,137.5L69.5,141.2L65.4,141.2zM69.3,137.5L71.4,141.2L67.2,141.2zM71.1,137.5L73.2,141.2L69.0,141.2zM72.9,137.5L75.0,141.2L70.9,141.2zM74.8,137.5L76.8,141.2L72.7,141.2zM76.6,137.5L78.7,141.2L74.5,141.2zM78.4,137.5L80.5,141.2L76.3,141.2zM80.2,137.5L82.3,141.2L78.1,141.2zM82.0,137.5L84.1,141.2L80.0,141.2zM83.9,137.5L85.9,141.2L81.8,141.2zM85.7,137.5L87.8,141.2L83.6,141.2zM87.5,137.5L89.6,141.2L85.4,141.2zM89.3,137.5L91.4,141.2L87.3,141.2zM91.2,137.5L93.2,141.2L89.1,141.2zM93.0,137.5L95.1,141.2L90.9,141.2zM94.8,137.5L96.9,141.2L92.7,141.2zM96.6,137.5L98.7,141.2L94.5,141.2zM98.4,137.5L100.5,141.2L96.4,141.2zM100.3,137.5L102.3,141.2L98.2,141.2zM102.1,137.5L104.2,141.2L100.0,141.2zM103.9,137.5L106.0,141.2L101.8,141.2zM105.7,137.5L107.8,141.2L103.7,141.2zM107.6,137.5L109.6,141.2L105.5,141.2zM109.4,137.5L111.5,141.2L107.3,141.2zM111.2,137.5L113.3,141.2L109.1,141.2zM113.0,137.5L115.1,141.2L110.9,141.2zM114.8,137.5L116.9,141.2L112.8,141.2zM116.7,137.5L118.7,141.2L114.6,141.2zM118.5,137.5L120.6,141.2L116.4,141.2zM120.3,137.5L122.4,141.2L118.2,141.2zM122.1,137.5L124.2,141.2L120.1,141.2zM124.0,137.5L126.0,141.2L121.9,141.2zM125.8,137.5L127.9,141.2L123.7,141.2zM127.6,137.5L129.7,141.2L125.5,141.2zM129.4,137.5L131.5,141.2L127.3,141.2zM131.2,137.5L133.3,141.2L129.2,141.2zM133.1,137.5L135.1,141.2L131.0,141.2zM134.9,137.5L137.0,141.2L132.8,141.2zM136.7,137.5L138.8,141.2L134.6,141.2zM138.5,137.5L140.6,141.2L136.5,141.2zM140.4,137.5L142.4,141.2L138.3,141.2zM142.2,137.5L144.3,141.2L140.1,141.2zM144.0,137.5L146.1,141.2L141.9,141.2zM147.0,129.8L149.1,133.5L144.9,133.5zM149.9,121.5L152.0,125.2L147.8,125.2zM146.5,130.3L148.6,134.0L144.4,134.0zM149.9,121.5L152.0,125.2L147.8,125.2z" fill="#fff" stroke="#f0a040" stroke-width="0.9"/>
<polyline points="45.60,139.70 48.02,139.70 50.45,139.70 52.87,139.70 55.29,139.70 57.71,139.70 60.14,139.70 62.56,139.70 64.98,139.70 67.40,139.70 69.83,139.70 72.25,139.70 74.67,139.70 77.09,139.70 79.52,139.70 81.94,139.70 84.36,139.70 86.78,139.70 89.21,139.70 91.63,139.70 94.05,139.70 96.48,139.70 98.90,139.70 101.32,139.70 103.74,139.70 106.17,139.70 108.59,139.70 111.01,139.70 113.43,139.70 115.86,139.70 118.28,139.70 120.70,139.70 123.12,139.70 125.55,139.70 127.97,139.70 130.39,139.70 132.82,139.70 135.24,139.70 137.66,139.70 140.08,139.70 142.51,139.70 144.93,139.70 147.35,139.70 149.77,139.70 152.20,139.70 154.62,139.70 157.04,139.70 159.46,139.70 161.89,139.70 164.31,139.70 166.73,139.70 169.15,139.70 171.58,139.70 174.00,139.70 174.30,137.60 176.80,130.80 179.40,117.30 180.20,113.10" stroke="#ee8a90" stroke-width="0.8" fill="none" stroke-linejoin="round" />
<path d="M43.8,139.7a1.84,1.84 0 1,0 3.68,0a1.84,1.84 0 1,0 -3.68,0M45.6,139.7a1.84,1.84 0 1,0 3.68,0a1.84,1.84 0 1,0 -3.68,0M47.4,139.7a1.84,1.84 0 1,0 3.68,0a1.84,1.84 0 1,0 -3.68,0M49.2,139.7a1.84,1.84 0 1,0 3.68,0a1.84,1.84 0 1,0 -3.68,0M51.0,139.7a1.84,1.84 0 1,0 3.68,0a1.84,1.84 0 1,0 -3.68,0M52.8,139.7a1.84,1.84 0 1,0 3.68,0a1.84,1.84 0 1,0 -3.68,0M54.6,139.7a1.84,1.84 0 1,0 3.68,0a1.84,1.84 0 1,0 -3.68,0M56.4,139.7a1.84,1.84 0 1,0 3.68,0a1.84,1.84 0 1,0 -3.68,0M58.2,139.7a1.84,1.84 0 1,0 3.68,0a1.84,1.84 0 1,0 -3.68,0M60.0,139.7a1.84,1.84 0 1,0 3.68,0a1.84,1.84 0 1,0 -3.68,0M61.8,139.7a1.84,1.84 0 1,0 3.68,0a1.84,1.84 0 1,0 -3.68,0M63.7,139.7a1.84,1.84 0 1,0 3.68,0a1.84,1.84 0 1,0 -3.68,0M65.5,139.7a1.84,1.84 0 1,0 3.68,0a1.84,1.84 0 1,0 -3.68,0M67.3,139.7a1.84,1.84 0 1,0 3.68,0a1.84,1.84 0 1,0 -3.68,0M69.1,139.7a1.84,1.84 0 1,0 3.68,0a1.84,1.84 0 1,0 -3.68,0M70.9,139.7a1.84,1.84 0 1,0 3.68,0a1.84,1.84 0 1,0 -3.68,0M72.7,139.7a1.84,1.84 0 1,0 3.68,0a1.84,1.84 0 1,0 -3.68,0M74.5,139.7a1.84,1.84 0 1,0 3.68,0a1.84,1.84 0 1,0 -3.68,0M76.3,139.7a1.84,1.84 0 1,0 3.68,0a1.84,1.84 0 1,0 -3.68,0M78.1,139.7a1.84,1.84 0 1,0 3.68,0a1.84,1.84 0 1,0 -3.68,0M79.9,139.7a1.84,1.84 0 1,0 3.68,0a1.84,1.84 0 1,0 -3.68,0M81.7,139.7a1.84,1.84 0 1,0 3.68,0a1.84,1.84 0 1,0 -3.68,0M83.5,139.7a1.84,1.84 0 1,0 3.68,0a1.84,1.84 0 1,0 -3.68,0M85.4,139.7a1.84,1.84 0 1,0 3.68,0a1.84,1.84 0 1,0 -3.68,0M87.2,139.7a1.84,1.84 0 1,0 3.68,0a1.84,1.84 0 1,0 -3.68,0M89.0,139.7a1.84,1.84 0 1,0 3.68,0a1.84,1.84 0 1,0 -3.68,0M90.8,139.7a1.84,1.84 0 1,0 3.68,0a1.84,1.84 0 1,0 -3.68,0M92.6,139.7a1.84,1.84 0 1,0 3.68,0a1.84,1.84 0 1,0 -3.68,0M94.4,139.7a1.84,1.84 0 1,0 3.68,0a1.84,1.84 0 1,0 -3.68,0M96.2,139.7a1.84,1.84 0 1,0 3.68,0a1.84,1.84 0 1,0 -3.68,0M98.0,139.7a1.84,1.84 0 1,0 3.68,0a1.84,1.84 0 1,0 -3.68,0M99.8,139.7a1.84,1.84 0 1,0 3.68,0a1.84,1.84 0 1,0 -3.68,0M101.6,139.7a1.84,1.84 0 1,0 3.68,0a1.84,1.84 0 1,0 -3.68,0M103.4,139.7a1.84,1.84 0 1,0 3.68,0a1.84,1.84 0 1,0 -3.68,0M105.2,139.7a1.84,1.84 0 1,0 3.68,0a1.84,1.84 0 1,0 -3.68,0M107.1,139.7a1.84,1.84 0 1,0 3.68,0a1.84,1.84 0 1,0 -3.68,0M108.9,139.7a1.84,1.84 0 1,0 3.68,0a1.84,1.84 0 1,0 -3.68,0M110.7,139.7a1.84,1.84 0 1,0 3.68,0a1.84,1.84 0 1,0 -3.68,0M112.5,139.7a1.84,1.84 0 1,0 3.68,0a1.84,1.84 0 1,0 -3.68,0M114.3,139.7a1.84,1.84 0 1,0 3.68,0a1.84,1.84 0 1,0 -3.68,0M116.1,139.7a1.84,1.84 0 1,0 3.68,0a1.84,1.84 0 1,0 -3.68,0M117.9,139.7a1.84,1.84 0 1,0 3.68,0a1.84,1.84 0 1,0 -3.68,0M119.7,139.7a1.84,1.84 0 1,0 3.68,0a1.84,1.84 0 1,0 -3.68,0M121.5,139.7a1.84,1.84 0 1,0 3.68,0a1.84,1.84 0 1,0 -3.68,0M123.3,139.7a1.84,1.84 0 1,0 3.68,0a1.84,1.84 0 1,0 -3.68,0M125.1,139.7a1.84,1.84 0 1,0 3.68,0a1.84,1.84 0 1,0 -3.68,0M127.0,139.7a1.84,1.84 0 1,0 3.68,0a1.84,1.84 0 1,0 -3.68,0M128.8,139.7a1.84,1.84 0 1,0 3.68,0a1.84,1.84 0 1,0 -3.68,0M130.6,139.7a1.84,1.84 0 1,0 3.68,0a1.84,1.84 0 1,0 -3.68,0M132.4,139.7a1.84,1.84 0 1,0 3.68,0a1.84,1.84 0 1,0 -3.68,0M134.2,139.7a1.84,1.84 0 1,0 3.68,0a1.84,1.84 0 1,0 -3.68,0M136.0,139.7a1.84,1.84 0 1,0 3.68,0a1.84,1.84 0 1,0 -3.68,0M137.8,139.7a1.84,1.84 0 1,0 3.68,0a1.84,1.84 0 1,0 -3.68,0M139.6,139.7a1.84,1.84 0 1,0 3.68,0a1.84,1.84 0 1,0 -3.68,0M141.4,139.7a1.84,1.84 0 1,0 3.68,0a1.84,1.84 0 1,0 -3.68,0M143.2,139.7a1.84,1.84 0 1,0 3.68,0a1.84,1.84 0 1,0 -3.68,0M145.0,139.7a1.84,1.84 0 1,0 3.68,0a1.84,1.84 0 1,0 -3.68,0M146.8,139.7a1.84,1.84 0 1,0 3.68,0a1.84,1.84 0 1,0 -3.68,0M148.7,139.7a1.84,1.84 0 1,0 3.68,0a1.84,1.84 0 1,0 -3.68,0M150.5,139.7a1.84,1.84 0 1,0 3.68,0a1.84,1.84 0 1,0 -3.68,0M152.3,139.7a1.84,1.84 0 1,0 3.68,0a1.84,1.84 0 1,0 -3.68,0M154.1,139.7a1.84,1.84 0 1,0 3.68,0a1.84,1.84 0 1,0 -3.68,0M155.9,139.7a1.84,1.84 0 1,0 3.68,0a1.84,1.84 0 1,0 -3.68,0M157.7,139.7a1.84,1.84 0 1,0 3.68,0a1.84,1.84 0 1,0 -3.68,0M159.5,139.7a1.84,1.84 0 1,0 3.68,0a1.84,1.84 0 1,0 -3.68,0M161.3,139.7a1.84,1.84 0 1,0 3.68,0a1.84,1.84 0 1,0 -3.68,0M163.1,139.7a1.84,1.84 0 1,0 3.68,0a1.84,1.84 0 1,0 -3.68,0M164.9,139.7a1.84,1.84 0 1,0 3.68,0a1.84,1.84 0 1,0 -3.68,0M166.7,139.7a1.84,1.84 0 1,0 3.68,0a1.84,1.84 0 1,0 -3.68,0M168.5,139.7a1.84,1.84 0 1,0 3.68,0a1.84,1.84 0 1,0 -3.68,0M170.4,139.7a1.84,1.84 0 1,0 3.68,0a1.84,1.84 0 1,0 -3.68,0M172.2,139.7a1.84,1.84 0 1,0 3.68,0a1.84,1.84 0 1,0 -3.68,0M175.2,129.8a1.84,1.84 0 1,0 3.68,0a1.84,1.84 0 1,0 -3.68,0M178.2,114.1a1.84,1.84 0 1,0 3.68,0a1.84,1.84 0 1,0 -3.68,0M178.4,113.1a1.84,1.84 0 1,0 3.68,0a1.84,1.84 0 1,0 -3.68,0M172.5,137.6a1.84,1.84 0 1,0 3.68,0a1.84,1.84 0 1,0 -3.68,0M175.0,130.8a1.84,1.84 0 1,0 3.68,0a1.84,1.84 0 1,0 -3.68,0M177.6,117.3a1.84,1.84 0 1,0 3.68,0a1.84,1.84 0 1,0 -3.68,0M178.4,113.1a1.84,1.84 0 1,0 3.68,0a1.84,1.84 0 1,0 -3.68,0" fill="#fff" stroke="#ef5660" stroke-width="0.9"/>
<path d="M205.0,65.9 Q220.2,62.6 268.5,62.6 Q316.8,62.6 332.0,65.9 Q316.8,69.2 268.5,69.2 Q220.2,69.2 205.0,65.9Z" fill="#ee6cbc" opacity="0.9"/>
<polyline points="209.60,65.90 211.02,65.90 212.43,65.90 213.85,65.90 215.26,65.90 216.68,65.90 218.09,65.90 219.51,65.90 220.92,65.90 222.34,65.90 223.75,65.90 225.17,65.90 226.58,65.90 228.00,65.90 229.41,65.90 230.83,65.90 232.24,65.90 233.66,65.90 235.07,65.90 236.49,65.90 237.90,65.90 239.32,65.90 240.73,65.90 242.15,65.90 243.56,65.90 244.98,65.90 246.39,65.90 247.81,65.90 249.22,65.90 250.64,65.90 252.05,65.90 253.47,65.90 254.88,65.90 256.30,65.90 257.72,65.90 259.13,65.90 260.55,65.90 261.96,65.90 263.38,65.90 264.79,65.90 266.21,65.90 267.62,65.90 269.04,65.90 270.45,65.90 271.87,65.90 273.28,65.90 274.70,65.90 276.11,65.90 277.53,65.90 278.94,65.90 280.36,65.90 281.77,65.90 283.19,65.90 284.60,65.90 286.02,65.90 287.43,65.90 288.85,65.90 290.26,65.90 291.68,65.90 293.09,65.90 294.51,65.90 295.92,65.90 297.34,65.90 298.75,65.90 300.17,65.90 301.58,65.90 303.00,65.90 306.10,62.80 310.00,58.50 313.60,52.40 317.30,44.50 320.90,31.80 324.30,17.80 325.80,12.30" stroke="#9fd0f0" stroke-width="0.8" fill="none" stroke-linejoin="round" />
<line x1="209.60" y1="65.90" x2="303.00" y2="65.90" stroke="#5aafe3" stroke-width="4.2" />
<path d="M207.5,63.8h4.2v4.2h-4.2zM209.7,63.8h4.2v4.2h-4.2zM211.9,63.8h4.2v4.2h-4.2zM214.2,63.8h4.2v4.2h-4.2zM216.4,63.8h4.2v4.2h-4.2zM218.6,63.8h4.2v4.2h-4.2zM220.8,63.8h4.2v4.2h-4.2zM223.1,63.8h4.2v4.2h-4.2zM225.3,63.8h4.2v4.2h-4.2zM227.5,63.8h4.2v4.2h-4.2zM229.7,63.8h4.2v4.2h-4.2zM232.0,63.8h4.2v4.2h-4.2zM234.2,63.8h4.2v4.2h-4.2zM236.4,63.8h4.2v4.2h-4.2zM238.6,63.8h4.2v4.2h-4.2zM240.9,63.8h4.2v4.2h-4.2zM243.1,63.8h4.2v4.2h-4.2zM245.3,63.8h4.2v4.2h-4.2zM247.5,63.8h4.2v4.2h-4.2zM249.8,63.8h4.2v4.2h-4.2zM252.0,63.8h4.2v4.2h-4.2zM254.2,63.8h4.2v4.2h-4.2zM256.4,63.8h4.2v4.2h-4.2zM258.6,63.8h4.2v4.2h-4.2zM260.9,63.8h4.2v4.2h-4.2zM263.1,63.8h4.2v4.2h-4.2zM265.3,63.8h4.2v4.2h-4.2zM267.5,63.8h4.2v4.2h-4.2zM269.8,63.8h4.2v4.2h-4.2zM272.0,63.8h4.2v4.2h-4.2zM274.2,63.8h4.2v4.2h-4.2zM276.4,63.8h4.2v4.2h-4.2zM278.7,63.8h4.2v4.2h-4.2zM280.9,63.8h4.2v4.2h-4.2zM283.1,63.8h4.2v4.2h-4.2zM285.3,63.8h4.2v4.2h-4.2zM287.6,63.8h4.2v4.2h-4.2zM289.8,63.8h4.2v4.2h-4.2zM292.0,63.8h4.2v4.2h-4.2zM294.2,63.8h4.2v4.2h-4.2zM296.5,63.8h4.2v4.2h-4.2zM298.7,63.8h4.2v4.2h-4.2zM300.9,63.8h4.2v4.2h-4.2z" fill="#5aafe3" stroke="#5aafe3" stroke-width="0.5"/>
<path d="M304.2,60.9h3.7v3.7h-3.7zM308.1,56.6h3.7v3.7h-3.7zM311.8,50.5h3.7v3.7h-3.7zM315.4,42.6h3.7v3.7h-3.7zM319.0,29.9h3.7v3.7h-3.7zM322.4,16.0h3.7v3.7h-3.7zM323.9,10.5h3.7v3.7h-3.7z" fill="#5aafe3" stroke="#5aafe3" stroke-width="0.5"/>
<polyline points="209.60,65.90 211.01,65.90 212.41,65.90 213.82,65.90 215.22,65.90 216.63,65.90 218.03,65.90 219.44,65.90 220.84,65.90 222.25,65.90 223.65,65.90 225.06,65.90 226.46,65.90 227.87,65.90 229.27,65.90 230.68,65.90 232.09,65.90 233.49,65.90 234.90,65.90 236.30,65.90 237.71,65.90 239.11,65.90 240.52,65.90 241.92,65.90 243.33,65.90 244.73,65.90 246.14,65.90 247.54,65.90 248.95,65.90 250.35,65.90 251.76,65.90 253.17,65.90 254.57,65.90 255.98,65.90 257.38,65.90 258.79,65.90 260.19,65.90 261.60,65.90 263.00,65.90 264.41,65.90 265.81,65.90 267.22,65.90 268.62,65.90 270.03,65.90 271.43,65.90 272.84,65.90 274.25,65.90 275.65,65.90 277.06,65.90 278.46,65.90 279.87,65.90 281.27,65.90 282.68,65.90 284.08,65.90 285.49,65.90 286.89,65.90 288.30,65.90 289.70,65.90 291.11,65.90 292.51,65.90 293.92,65.90 295.33,65.90 296.73,65.90 298.14,65.90 299.54,65.90 300.95,65.90 302.35,65.90 303.76,65.90 305.16,65.90 306.57,65.90 307.97,65.90 309.38,65.90 310.78,65.90 312.19,65.90 313.59,65.90 315.00,65.90 317.60,62.80 319.50,61.00 321.90,58.50 324.30,55.50 326.20,51.20 328.60,47.00 330.40,41.50 332.80,34.80 335.30,26.30 338.70,11.10" stroke="#f3c080" stroke-width="0.8" fill="none" stroke-linejoin="round" />
<line x1="209.60" y1="65.90" x2="315.00" y2="65.90" stroke="#f0a040" stroke-width="4.2" />
<path d="M209.6,63.3L212.1,67.7L207.1,67.7zM211.8,63.3L214.3,67.7L209.3,67.7zM214.1,63.3L216.6,67.7L211.6,67.7zM216.3,63.3L218.8,67.7L213.8,67.7zM218.6,63.3L221.1,67.7L216.1,67.7zM220.8,63.3L223.3,67.7L218.3,67.7zM223.1,63.3L225.5,67.7L220.6,67.7zM225.3,63.3L227.8,67.7L222.8,67.7zM227.5,63.3L230.0,67.7L225.0,67.7zM229.8,63.3L232.3,67.7L227.3,67.7zM232.0,63.3L234.5,67.7L229.5,67.7zM234.3,63.3L236.8,67.7L231.8,67.7zM236.5,63.3L239.0,67.7L234.0,67.7zM238.8,63.3L241.2,67.7L236.3,67.7zM241.0,63.3L243.5,67.7L238.5,67.7zM243.2,63.3L245.7,67.7L240.7,67.7zM245.5,63.3L248.0,67.7L243.0,67.7zM247.7,63.3L250.2,67.7L245.2,67.7zM250.0,63.3L252.5,67.7L247.5,67.7zM252.2,63.3L254.7,67.7L249.7,67.7zM254.5,63.3L256.9,67.7L252.0,67.7zM256.7,63.3L259.2,67.7L254.2,67.7zM258.9,63.3L261.4,67.7L256.4,67.7zM261.2,63.3L263.7,67.7L258.7,67.7zM263.4,63.3L265.9,67.7L260.9,67.7zM265.7,63.3L268.2,67.7L263.2,67.7zM267.9,63.3L270.4,67.7L265.4,67.7zM270.1,63.3L272.6,67.7L267.7,67.7zM272.4,63.3L274.9,67.7L269.9,67.7zM274.6,63.3L277.1,67.7L272.1,67.7zM276.9,63.3L279.4,67.7L274.4,67.7zM279.1,63.3L281.6,67.7L276.6,67.7zM281.4,63.3L283.9,67.7L278.9,67.7zM283.6,63.3L286.1,67.7L281.1,67.7zM285.8,63.3L288.3,67.7L283.4,67.7zM288.1,63.3L290.6,67.7L285.6,67.7zM290.3,63.3L292.8,67.7L287.8,67.7zM292.6,63.3L295.1,67.7L290.1,67.7zM294.8,63.3L297.3,67.7L292.3,67.7zM297.1,63.3L299.6,67.7L294.6,67.7zM299.3,63.3L301.8,67.7L296.8,67.7zM301.5,63.3L304.0,67.7L299.1,67.7zM303.8,63.3L306.3,67.7L301.3,67.7zM306.0,63.3L308.5,67.7L303.5,67.7zM308.3,63.3L310.8,67.7L305.8,67.7zM310.5,63.3L313.0,67.7L308.0,67.7zM312.8,63.3L315.3,67.7L310.3,67.7zM315.0,63.3L317.5,67.7L312.5,67.7z" fill="#f0a040" stroke="#f0a040" stroke-width="0.5"/>
<path d="M317.6,60.5L319.8,64.4L315.4,64.4zM319.5,58.7L321.7,62.6L317.3,62.6zM321.9,56.2L324.1,60.1L319.7,60.1zM324.3,53.2L326.5,57.1L322.1,57.1zM326.2,48.9L328.4,52.8L324.0,52.8zM328.6,44.7L330.8,48.6L326.4,48.6zM330.4,39.2L332.6,43.1L328.2,43.1zM332.8,32.5L335.0,36.4L330.6,36.4zM335.3,24.0L337.5,27.9L333.1,27.9zM338.7,8.8L340.9,12.7L336.5,12.7z" fill="#f0a040" stroke="#f0a040" stroke-width="0.5"/>
<polyline points="209.60,65.90 211.00,65.90 212.41,65.90 213.81,65.90 215.22,65.90 216.62,65.90 218.03,65.90 219.44,65.90 220.84,65.90 222.25,65.90 223.65,65.90 225.06,65.90 226.46,65.90 227.87,65.90 229.27,65.90 230.67,65.90 232.08,65.90 233.48,65.90 234.89,65.90 236.29,65.90 237.70,65.90 239.10,65.90 240.51,65.90 241.91,65.90 243.32,65.90 244.72,65.90 246.13,65.90 247.53,65.90 248.94,65.90 250.34,65.90 251.75,65.90 253.16,65.90 254.56,65.90 255.97,65.90 257.37,65.90 258.77,65.90 260.18,65.90 261.58,65.90 262.99,65.90 264.39,65.90 265.80,65.90 267.20,65.90 268.61,65.90 270.01,65.90 271.42,65.90 272.82,65.90 274.23,65.90 275.63,65.90 277.04,65.90 278.44,65.90 279.85,65.90 281.25,65.90 282.66,65.90 284.06,65.90 285.47,65.90 286.88,65.90 288.28,65.90 289.69,65.90 291.09,65.90 292.50,65.90 293.90,65.90 295.31,65.90 296.71,65.90 298.12,65.90 299.52,65.90 300.93,65.90 302.33,65.90 303.74,65.90 305.14,65.90 306.55,65.90 307.95,65.90 309.36,65.90 310.76,65.90 312.17,65.90 313.57,65.90 314.98,65.90 316.38,65.90 317.79,65.90 319.19,65.90 320.60,65.90 322.00,65.90 325.50,64.60 328.20,61.60 331.40,57.30 334.70,50.60 337.70,42.10 340.80,31.20 343.20,15.30 344.00,11.10" stroke="#ee8a90" stroke-width="0.8" fill="none" stroke-linejoin="round" />
<line x1="209.60" y1="65.90" x2="322.00" y2="65.90" stroke="#ef5660" stroke-width="4.2" />
<path d="M207.4,65.9a2.21,2.21 0 1,0 4.41,0a2.21,2.21 0 1,0 -4.41,0M209.6,65.9a2.21,2.21 0 1,0 4.41,0a2.21,2.21 0 1,0 -4.41,0M211.8,65.9a2.21,2.21 0 1,0 4.41,0a2.21,2.21 0 1,0 -4.41,0M214.0,65.9a2.21,2.21 0 1,0 4.41,0a2.21,2.21 0 1,0 -4.41,0M216.2,65.9a2.21,2.21 0 1,0 4.41,0a2.21,2.21 0 1,0 -4.41,0M218.4,65.9a2.21,2.21 0 1,0 4.41,0a2.21,2.21 0 1,0 -4.41,0M220.6,65.9a2.21,2.21 0 1,0 4.41,0a2.21,2.21 0 1,0 -4.41,0M222.8,65.9a2.21,2.21 0 1,0 4.41,0a2.21,2.21 0 1,0 -4.41,0M225.0,65.9a2.21,2.21 0 1,0 4.41,0a2.21,2.21 0 1,0 -4.41,0M227.2,65.9a2.21,2.21 0 1,0 4.41,0a2.21,2.21 0 1,0 -4.41,0M229.4,65.9a2.21,2.21 0 1,0 4.41,0a2.21,2.21 0 1,0 -4.41,0M231.6,65.9a2.21,2.21 0 1,0 4.41,0a2.21,2.21 0 1,0 -4.41,0M233.8,65.9a2.21,2.21 0 1,0 4.41,0a2.21,2.21 0 1,0 -4.41,0M236.0,65.9a2.21,2.21 0 1,0 4.41,0a2.21,2.21 0 1,0 -4.41,0M238.2,65.9a2.21,2.21 0 1,0 4.41,0a2.21,2.21 0 1,0 -4.41,0M240.5,65.9a2.21,2.21 0 1,0 4.41,0a2.21,2.21 0 1,0 -4.41,0M242.7,65.9a2.21,2.21 0 1,0 4.41,0a2.21,2.21 0 1,0 -4.41,0M244.9,65.9a2.21,2.21 0 1,0 4.41,0a2.21,2.21 0 1,0 -4.41,0M247.1,65.9a2.21,2.21 0 1,0 4.41,0a2.21,2.21 0 1,0 -4.41,0M249.3,65.9a2.21,2.21 0 1,0 4.41,0a2.21,2.21 0 1,0 -4.41,0M251.5,65.9a2.21,2.21 0 1,0 4.41,0a2.21,2.21 0 1,0 -4.41,0M253.7,65.9a2.21,2.21 0 1,0 4.41,0a2.21,2.21 0 1,0 -4.41,0M255.9,65.9a2.21,2.21 0 1,0 4.41,0a2.21,2.21 0 1,0 -4.41,0M258.1,65.9a2.21,2.21 0 1,0 4.41,0a2.21,2.21 0 1,0 -4.41,0M260.3,65.9a2.21,2.21 0 1,0 4.41,0a2.21,2.21 0 1,0 -4.41,0M262.5,65.9a2.21,2.21 0 1,0 4.41,0a2.21,2.21 0 1,0 -4.41,0M264.7,65.9a2.21,2.21 0 1,0 4.41,0a2.21,2.21 0 1,0 -4.41,0M266.9,65.9a2.21,2.21 0 1,0 4.41,0a2.21,2.21 0 1,0 -4.41,0M269.1,65.9a2.21,2.21 0 1,0 4.41,0a2.21,2.21 0 1,0 -4.41,0M271.3,65.9a2.21,2.21 0 1,0 4.41,0a2.21,2.21 0 1,0 -4.41,0M273.5,65.9a2.21,2.21 0 1,0 4.41,0a2.21,2.21 0 1,0 -4.41,0M275.7,65.9a2.21,2.21 0 1,0 4.41,0a2.21,2.21 0 1,0 -4.41,0M277.9,65.9a2.21,2.21 0 1,0 4.41,0a2.21,2.21 0 1,0 -4.41,0M280.1,65.9a2.21,2.21 0 1,0 4.41,0a2.21,2.21 0 1,0 -4.41,0M282.3,65.9a2.21,2.21 0 1,0 4.41,0a2.21,2.21 0 1,0 -4.41,0M284.5,65.9a2.21,2.21 0 1,0 4.41,0a2.21,2.21 0 1,0 -4.41,0M286.7,65.9a2.21,2.21 0 1,0 4.41,0a2.21,2.21 0 1,0 -4.41,0M288.9,65.9a2.21,2.21 0 1,0 4.41,0a2.21,2.21 0 1,0 -4.41,0M291.1,65.9a2.21,2.21 0 1,0 4.41,0a2.21,2.21 0 1,0 -4.41,0M293.3,65.9a2.21,2.21 0 1,0 4.41,0a2.21,2.21 0 1,0 -4.41,0M295.6,65.9a2.21,2.21 0 1,0 4.41,0a2.21,2.21 0 1,0 -4.41,0M297.8,65.9a2.21,2.21 0 1,0 4.41,0a2.21,2.21 0 1,0 -4.41,0M300.0,65.9a2.21,2.21 0 1,0 4.41,0a2.21,2.21 0 1,0 -4.41,0M302.2,65.9a2.21,2.21 0 1,0 4.41,0a2.21,2.21 0 1,0 -4.41,0M304.4,65.9a2.21,2.21 0 1,0 4.41,0a2.21,2.21 0 1,0 -4.41,0M306.6,65.9a2.21,2.21 0 1,0 4.41,0a2.21,2.21 0 1,0 -4.41,0M308.8,65.9a2.21,2.21 0 1,0 4.41,0a2.21,2.21 0 1,0 -4.41,0M311.0,65.9a2.21,2.21 0 1,0 4.41,0a2.21,2.21 0 1,0 -4.41,0M313.2,65.9a2.21,2.21 0 1,0 4.41,0a2.21,2.21 0 1,0 -4.41,0M315.4,65.9a2.21,2.21 0 1,0 4.41,0a2.21,2.21 0 1,0 -4.41,0M317.6,65.9a2.21,2.21 0 1,0 4.41,0a2.21,2.21 0 1,0 -4.41,0M319.8,65.9a2.21,2.21 0 1,0 4.41,0a2.21,2.21 0 1,0 -4.41,0" fill="#ef5660" stroke="#ef5660" stroke-width="0.5"/>
<path d="M323.6,64.6a1.94,1.94 0 1,0 3.89,0a1.94,1.94 0 1,0 -3.89,0M326.3,61.6a1.94,1.94 0 1,0 3.89,0a1.94,1.94 0 1,0 -3.89,0M329.5,57.3a1.94,1.94 0 1,0 3.89,0a1.94,1.94 0 1,0 -3.89,0M332.8,50.6a1.94,1.94 0 1,0 3.89,0a1.94,1.94 0 1,0 -3.89,0M335.8,42.1a1.94,1.94 0 1,0 3.89,0a1.94,1.94 0 1,0 -3.89,0M338.9,31.2a1.94,1.94 0 1,0 3.89,0a1.94,1.94 0 1,0 -3.89,0M341.3,15.3a1.94,1.94 0 1,0 3.89,0a1.94,1.94 0 1,0 -3.89,0M342.1,11.1a1.94,1.94 0 1,0 3.89,0a1.94,1.94 0 1,0 -3.89,0" fill="#ef5660" stroke="#ef5660" stroke-width="0.5"/>
<path d="M205.0,139.2 Q218.5,135.9 261.2,135.9 Q304.0,135.9 317.5,139.2 Q304.0,142.5 261.2,142.5 Q218.5,142.5 205.0,139.2Z" fill="#ee6cbc" opacity="0.9"/>
<polyline points="209.60,139.20 209.60,139.20 215.00,138.30 230.00,136.40 250.00,133.60 256.10,132.10 262.30,130.50 268.40,129.00 274.50,127.90 280.70,125.90 286.80,124.00 292.90,122.10 296.00,121.80 300.60,121.80 304.40,122.10 306.70,120.60 309.80,119.00 312.80,116.00 315.90,113.70 319.00,111.40 322.00,109.10 324.30,108.00" stroke="#9fd0f0" stroke-width="0.8" fill="none" stroke-linejoin="round" />
<path d="M208.0,137.6h3.1v3.1h-3.1zM210.6,137.2h3.1v3.1h-3.1zM213.2,136.8h3.1v3.1h-3.1zM215.8,136.4h3.1v3.1h-3.1zM218.4,136.1h3.1v3.1h-3.1zM221.0,135.8h3.1v3.1h-3.1zM223.6,135.5h3.1v3.1h-3.1zM226.2,135.1h3.1v3.1h-3.1zM228.8,134.8h3.1v3.1h-3.1zM231.4,134.4h3.1v3.1h-3.1zM234.0,134.1h3.1v3.1h-3.1zM236.6,133.7h3.1v3.1h-3.1zM239.2,133.3h3.1v3.1h-3.1zM241.8,133.0h3.1v3.1h-3.1zM244.4,132.6h3.1v3.1h-3.1zM247.0,132.2h3.1v3.1h-3.1zM249.6,131.8h3.1v3.1h-3.1zM252.2,131.1h3.1v3.1h-3.1zM254.8,130.5h3.1v3.1h-3.1zM257.4,129.8h3.1v3.1h-3.1zM260.0,129.1h3.1v3.1h-3.1zM262.6,128.5h3.1v3.1h-3.1zM265.2,127.8h3.1v3.1h-3.1zM267.9,127.3h3.1v3.1h-3.1zM270.5,126.8h3.1v3.1h-3.1zM273.1,126.3h3.1v3.1h-3.1zM275.7,125.5h3.1v3.1h-3.1zM278.3,124.6h3.1v3.1h-3.1zM280.9,123.8h3.1v3.1h-3.1zM283.5,123.0h3.1v3.1h-3.1zM286.1,122.2h3.1v3.1h-3.1zM288.7,121.4h3.1v3.1h-3.1zM291.3,120.6h3.1v3.1h-3.1zM293.9,120.3h3.1v3.1h-3.1zM296.5,120.2h3.1v3.1h-3.1zM299.1,120.3h3.1v3.1h-3.1zM301.7,120.5h3.1v3.1h-3.1zM304.3,119.6h3.1v3.1h-3.1zM306.9,118.2h3.1v3.1h-3.1zM309.5,116.2h3.1v3.1h-3.1zM312.1,113.9h3.1v3.1h-3.1zM314.7,111.9h3.1v3.1h-3.1zM317.3,110.0h3.1v3.1h-3.1zM319.9,108.0h3.1v3.1h-3.1zM322.5,106.6h3.1v3.1h-3.1zM322.8,106.5h3.1v3.1h-3.1z" fill="#fff" stroke="#5aafe3" stroke-width="0.9"/>
<polyline points="209.60,139.20 212.05,139.20 214.51,139.20 216.96,139.20 219.41,139.20 221.86,139.20 224.32,139.20 226.77,139.20 229.22,139.20 231.68,139.20 234.13,139.20 236.58,139.20 239.04,139.20 241.49,139.20 243.94,139.20 246.39,139.20 248.85,139.20 251.30,139.20 253.75,139.20 256.21,139.20 258.66,139.20 261.11,139.20 263.56,139.20 266.02,139.20 268.47,139.20 270.92,139.20 273.38,139.20 275.83,139.20 278.28,139.20 280.74,139.20 283.19,139.20 285.64,139.20 288.09,139.20 290.55,139.20 293.00,139.20 295.20,135.90 300.60,132.80 303.60,130.50 306.70,126.70 309.80,122.10 312.80,119.00 315.90,116.00 319.00,113.70 322.00,110.60 325.10,108.30 328.20,106.50 331.20,106.00" stroke="#f3c080" stroke-width="0.8" fill="none" stroke-linejoin="round" />
<path d="M209.6,137.0L211.7,140.7L207.5,140.7zM211.4,137.0L213.5,140.7L209.3,140.7zM213.2,137.0L215.3,140.7L211.1,140.7zM215.0,137.0L217.1,140.7L213.0,140.7zM216.9,137.0L218.9,140.7L214.8,140.7zM218.7,137.0L220.7,140.7L216.6,140.7zM220.5,137.0L222.6,140.7L218.4,140.7zM222.3,137.0L224.4,140.7L220.2,140.7zM224.1,137.0L226.2,140.7L222.0,140.7zM225.9,137.0L228.0,140.7L223.8,140.7zM227.7,137.0L229.8,140.7L225.7,140.7zM229.5,137.0L231.6,140.7L227.5,140.7zM231.4,137.0L233.4,140.7L229.3,140.7zM233.2,137.0L235.2,140.7L231.1,140.7zM235.0,137.0L237.1,140.7L232.9,140.7zM236.8,137.0L238.9,140.7L234.7,140.7zM238.6,137.0L240.7,140.7L236.5,140.7zM240.4,137.0L242.5,140.7L238.3,140.7zM242.2,137.0L244.3,140.7L240.2,140.7zM244.0,137.0L246.1,140.7L242.0,140.7zM245.9,137.0L247.9,140.7L243.8,140.7zM247.7,137.0L249.8,140.7L245.6,140.7zM249.5,137.0L251.6,140.7L247.4,140.7zM251.3,137.0L253.4,140.7L249.2,140.7zM253.1,137.0L255.2,140.7L251.0,140.7zM254.9,137.0L257.0,140.7L252.8,140.7zM256.7,137.0L258.8,140.7L254.7,140.7zM258.6,137.0L260.6,140.7L256.5,140.7zM260.4,137.0L262.4,140.7L258.3,140.7zM262.2,137.0L264.3,140.7L260.1,140.7zM264.0,137.0L266.1,140.7L261.9,140.7zM265.8,137.0L267.9,140.7L263.7,140.7zM267.6,137.0L269.7,140.7L265.5,140.7zM269.4,137.0L271.5,140.7L267.4,140.7zM271.2,137.0L273.3,140.7L269.2,140.7zM273.1,137.0L275.1,140.7L271.0,140.7zM274.9,137.0L276.9,140.7L272.8,140.7zM276.7,137.0L278.8,140.7L274.6,140.7zM278.5,137.0L280.6,140.7L276.4,140.7zM280.3,137.0L282.4,140.7L278.2,140.7zM282.1,137.0L284.2,140.7L280.0,140.7zM283.9,137.0L286.0,140.7L281.9,140.7zM285.7,137.0L287.8,140.7L283.7,140.7zM287.6,137.0L289.6,140.7L285.5,140.7zM289.4,137.0L291.5,140.7L287.3,140.7zM291.2,137.0L293.3,140.7L289.1,140.7zM293.0,137.0L295.1,140.7L290.9,140.7zM296.0,133.3L298.1,137.0L293.9,137.0zM299.0,131.5L301.1,135.2L296.9,135.2zM302.0,129.5L304.1,133.3L299.9,133.3zM305.0,126.6L307.1,130.3L302.9,130.3zM308.0,122.6L310.1,126.3L305.9,126.3zM311.0,118.7L313.1,122.4L308.9,122.4zM314.0,115.7L316.1,119.4L311.9,119.4zM317.0,113.0L319.1,116.7L314.9,116.7zM320.0,110.5L322.1,114.2L317.9,114.2zM323.0,107.7L325.1,111.4L320.9,111.4zM326.0,105.6L328.1,109.3L323.9,109.3zM329.0,104.2L331.1,107.9L326.9,107.9zM331.2,103.8L333.3,107.5L329.1,107.5z" fill="#fff" stroke="#f0a040" stroke-width="0.9"/>
<polyline points="209.60,139.20 212.02,139.20 214.45,139.20 216.87,139.20 219.30,139.20 221.72,139.20 224.15,139.20 226.57,139.20 229.00,139.20 231.42,139.20 233.84,139.20 236.27,139.20 238.69,139.20 241.12,139.20 243.54,139.20 245.97,139.20 248.39,139.20 250.81,139.20 253.24,139.20 255.66,139.20 258.09,139.20 260.51,139.20 262.94,139.20 265.36,139.20 267.79,139.20 270.21,139.20 272.63,139.20 275.06,139.20 277.48,139.20 279.91,139.20 282.33,139.20 284.76,139.20 287.18,139.20 289.60,139.20 292.03,139.20 294.45,139.20 296.88,139.20 299.30,139.20 301.73,139.20 304.15,139.20 306.58,139.20 309.00,139.20 311.30,135.90 314.40,132.80 317.40,129.80 320.50,126.70 323.60,123.60 326.60,120.60 329.70,117.50 332.80,114.50 335.80,111.40 338.90,109.10 342.00,107.60 344.30,106.80" stroke="#ee8a90" stroke-width="0.8" fill="none" stroke-linejoin="round" />
<path d="M207.8,139.2a1.84,1.84 0 1,0 3.68,0a1.84,1.84 0 1,0 -3.68,0M209.6,139.2a1.84,1.84 0 1,0 3.68,0a1.84,1.84 0 1,0 -3.68,0M211.4,139.2a1.84,1.84 0 1,0 3.68,0a1.84,1.84 0 1,0 -3.68,0M213.2,139.2a1.84,1.84 0 1,0 3.68,0a1.84,1.84 0 1,0 -3.68,0M215.0,139.2a1.84,1.84 0 1,0 3.68,0a1.84,1.84 0 1,0 -3.68,0M216.8,139.2a1.84,1.84 0 1,0 3.68,0a1.84,1.84 0 1,0 -3.68,0M218.6,139.2a1.84,1.84 0 1,0 3.68,0a1.84,1.84 0 1,0 -3.68,0M220.4,139.2a1.84,1.84 0 1,0 3.68,0a1.84,1.84 0 1,0 -3.68,0M222.2,139.2a1.84,1.84 0 1,0 3.68,0a1.84,1.84 0 1,0 -3.68,0M224.0,139.2a1.84,1.84 0 1,0 3.68,0a1.84,1.84 0 1,0 -3.68,0M225.8,139.2a1.84,1.84 0 1,0 3.68,0a1.84,1.84 0 1,0 -3.68,0M227.6,139.2a1.84,1.84 0 1,0 3.68,0a1.84,1.84 0 1,0 -3.68,0M229.4,139.2a1.84,1.84 0 1,0 3.68,0a1.84,1.84 0 1,0 -3.68,0M231.3,139.2a1.84,1.84 0 1,0 3.68,0a1.84,1.84 0 1,0 -3.68,0M233.1,139.2a1.84,1.84 0 1,0 3.68,0a1.84,1.84 0 1,0 -3.68,0M234.9,139.2a1.84,1.84 0 1,0 3.68,0a1.84,1.84 0 1,0 -3.68,0M236.7,139.2a1.84,1.84 0 1,0 3.68,0a1.84,1.84 0 1,0 -3.68,0M238.5,139.2a1.84,1.84 0 1,0 3.68,0a1.84,1.84 0 1,0 -3.68,0M240.3,139.2a1.84,1.84 0 1,0 3.68,0a1.84,1.84 0 1,0 -3.68,0M242.1,139.2a1.84,1.84 0 1,0 3.68,0a1.84,1.84 0 1,0 -3.68,0M243.9,139.2a1.84,1.84 0 1,0 3.68,0a1.84,1.84 0 1,0 -3.68,0M245.7,139.2a1.84,1.84 0 1,0 3.68,0a1.84,1.84 0 1,0 -3.68,0M247.5,139.2a1.84,1.84 0 1,0 3.68,0a1.84,1.84 0 1,0 -3.68,0M249.3,139.2a1.84,1.84 0 1,0 3.68,0a1.84,1.84 0 1,0 -3.68,0M251.1,139.2a1.84,1.84 0 1,0 3.68,0a1.84,1.84 0 1,0 -3.68,0M252.9,139.2a1.84,1.84 0 1,0 3.68,0a1.84,1.84 0 1,0 -3.68,0M254.8,139.2a1.84,1.84 0 1,0 3.68,0a1.84,1.84 0 1,0 -3.68,0M256.6,139.2a1.84,1.84 0 1,0 3.68,0a1.84,1.84 0 1,0 -3.68,0M258.4,139.2a1.84,1.84 0 1,0 3.68,0a1.84,1.84 0 1,0 -3.68,0M260.2,139.2a1.84,1.84 0 1,0 3.68,0a1.84,1.84 0 1,0 -3.68,0M262.0,139.2a1.84,1.84 0 1,0 3.68,0a1.84,1.84 0 1,0 -3.68,0M263.8,139.2a1.84,1.84 0 1,0 3.68,0a1.84,1.84 0 1,0 -3.68,0M265.6,139.2a1.84,1.84 0 1,0 3.68,0a1.84,1.84 0 1,0 -3.68,0M267.4,139.2a1.84,1.84 0 1,0 3.68,0a1.84,1.84 0 1,0 -3.68,0M269.2,139.2a1.84,1.84 0 1,0 3.68,0a1.84,1.84 0 1,0 -3.68,0M271.0,139.2a1.84,1.84 0 1,0 3.68,0a1.84,1.84 0 1,0 -3.68,0M272.8,139.2a1.84,1.84 0 1,0 3.68,0a1.84,1.84 0 1,0 -3.68,0M274.6,139.2a1.84,1.84 0 1,0 3.68,0a1.84,1.84 0 1,0 -3.68,0M276.4,139.2a1.84,1.84 0 1,0 3.68,0a1.84,1.84 0 1,0 -3.68,0M278.2,139.2a1.84,1.84 0 1,0 3.68,0a1.84,1.84 0 1,0 -3.68,0M280.1,139.2a1.84,1.84 0 1,0 3.68,0a1.84,1.84 0 1,0 -3.68,0M281.9,139.2a1.84,1.84 0 1,0 3.68,0a1.84,1.84 0 1,0 -3.68,0M283.7,139.2a1.84,1.84 0 1,0 3.68,0a1.84,1.84 0 1,0 -3.68,0M285.5,139.2a1.84,1.84 0 1,0 3.68,0a1.84,1.84 0 1,0 -3.68,0M287.3,139.2a1.84,1.84 0 1,0 3.68,0a1.84,1.84 0 1,0 -3.68,0M289.1,139.2a1.84,1.84 0 1,0 3.68,0a1.84,1.84 0 1,0 -3.68,0M290.9,139.2a1.84,1.84 0 1,0 3.68,0a1.84,1.84 0 1,0 -3.68,0M292.7,139.2a1.84,1.84 0 1,0 3.68,0a1.84,1.84 0 1,0 -3.68,0M294.5,139.2a1.84,1.84 0 1,0 3.68,0a1.84,1.84 0 1,0 -3.68,0M296.3,139.2a1.84,1.84 0 1,0 3.68,0a1.84,1.84 0 1,0 -3.68,0M298.1,139.2a1.84,1.84 0 1,0 3.68,0a1.84,1.84 0 1,0 -3.68,0M299.9,139.2a1.84,1.84 0 1,0 3.68,0a1.84,1.84 0 1,0 -3.68,0M301.7,139.2a1.84,1.84 0 1,0 3.68,0a1.84,1.84 0 1,0 -3.68,0M303.5,139.2a1.84,1.84 0 1,0 3.68,0a1.84,1.84 0 1,0 -3.68,0M305.4,139.2a1.84,1.84 0 1,0 3.68,0a1.84,1.84 0 1,0 -3.68,0M307.2,139.2a1.84,1.84 0 1,0 3.68,0a1.84,1.84 0 1,0 -3.68,0M310.2,135.2a1.84,1.84 0 1,0 3.68,0a1.84,1.84 0 1,0 -3.68,0M313.2,132.2a1.84,1.84 0 1,0 3.68,0a1.84,1.84 0 1,0 -3.68,0M316.2,129.2a1.84,1.84 0 1,0 3.68,0a1.84,1.84 0 1,0 -3.68,0M319.2,126.2a1.84,1.84 0 1,0 3.68,0a1.84,1.84 0 1,0 -3.68,0M322.2,123.2a1.84,1.84 0 1,0 3.68,0a1.84,1.84 0 1,0 -3.68,0M325.2,120.2a1.84,1.84 0 1,0 3.68,0a1.84,1.84 0 1,0 -3.68,0M328.2,117.2a1.84,1.84 0 1,0 3.68,0a1.84,1.84 0 1,0 -3.68,0M331.2,114.3a1.84,1.84 0 1,0 3.68,0a1.84,1.84 0 1,0 -3.68,0M334.2,111.3a1.84,1.84 0 1,0 3.68,0a1.84,1.84 0 1,0 -3.68,0M337.2,109.1a1.84,1.84 0 1,0 3.68,0a1.84,1.84 0 1,0 -3.68,0M340.2,107.6a1.84,1.84 0 1,0 3.68,0a1.84,1.84 0 1,0 -3.68,0M342.5,106.8a1.84,1.84 0 1,0 3.68,0a1.84,1.84 0 1,0 -3.68,0" fill="#fff" stroke="#ef5660" stroke-width="0.9"/>
<path d="M366.0,65.9 Q381.2,62.6 429.5,62.6 Q477.8,62.6 493.0,65.9 Q477.8,69.2 429.5,69.2 Q381.2,69.2 366.0,65.9Z" fill="#ee6cbc" opacity="0.9"/>
<polyline points="370.80,65.90 372.22,65.90 373.63,65.90 375.05,65.90 376.46,65.90 377.88,65.90 379.29,65.90 380.70,65.90 382.12,65.90 383.54,65.90 384.95,65.90 386.37,65.90 387.78,65.90 389.19,65.90 390.61,65.90 392.03,65.90 393.44,65.90 394.86,65.90 396.27,65.90 397.69,65.90 399.10,65.90 400.51,65.90 401.93,65.90 403.35,65.90 404.76,65.90 406.18,65.90 407.59,65.90 409.00,65.90 410.42,65.90 411.84,65.90 413.25,65.90 414.67,65.90 416.08,65.90 417.50,65.90 418.91,65.90 420.32,65.90 421.74,65.90 423.16,65.90 424.57,65.90 425.99,65.90 427.40,65.90 428.81,65.90 430.23,65.90 431.64,65.90 433.06,65.90 434.48,65.90 435.89,65.90 437.31,65.90 438.72,65.90 440.13,65.90 441.55,65.90 442.97,65.90 444.38,65.90 445.80,65.90 447.21,65.90 448.62,65.90 450.04,65.90 451.46,65.90 452.87,65.90 454.28,65.90 455.70,65.90 457.12,65.90 458.53,65.90 459.94,65.90 461.36,65.90 462.77,65.90 464.19,65.90 465.61,65.90 467.02,65.90 468.44,65.90 469.85,65.90 471.26,65.90 472.68,65.90 474.10,65.90 475.51,65.90 476.93,65.90 478.34,65.90 479.75,65.90 481.17,65.90 482.59,65.90 484.00,65.90 485.80,61.90 490.50,58.40 495.20,53.70 498.00,44.40 499.80,35.00 501.00,24.50 502.20,12.80" stroke="#9fd0f0" stroke-width="0.8" fill="none" stroke-linejoin="round" />
<line x1="370.80" y1="65.90" x2="484.00" y2="65.90" stroke="#5aafe3" stroke-width="4.2" />
<path d="M368.7,63.8h4.2v4.2h-4.2zM370.9,63.8h4.2v4.2h-4.2zM373.1,63.8h4.2v4.2h-4.2zM375.4,63.8h4.2v4.2h-4.2zM377.6,63.8h4.2v4.2h-4.2zM379.8,63.8h4.2v4.2h-4.2zM382.0,63.8h4.2v4.2h-4.2zM384.2,63.8h4.2v4.2h-4.2zM386.5,63.8h4.2v4.2h-4.2zM388.7,63.8h4.2v4.2h-4.2zM390.9,63.8h4.2v4.2h-4.2zM393.1,63.8h4.2v4.2h-4.2zM395.3,63.8h4.2v4.2h-4.2zM397.6,63.8h4.2v4.2h-4.2zM399.8,63.8h4.2v4.2h-4.2zM402.0,63.8h4.2v4.2h-4.2zM404.2,63.8h4.2v4.2h-4.2zM406.4,63.8h4.2v4.2h-4.2zM408.7,63.8h4.2v4.2h-4.2zM410.9,63.8h4.2v4.2h-4.2zM413.1,63.8h4.2v4.2h-4.2zM415.3,63.8h4.2v4.2h-4.2zM417.5,63.8h4.2v4.2h-4.2zM419.8,63.8h4.2v4.2h-4.2zM422.0,63.8h4.2v4.2h-4.2zM424.2,63.8h4.2v4.2h-4.2zM426.4,63.8h4.2v4.2h-4.2zM428.6,63.8h4.2v4.2h-4.2zM430.8,63.8h4.2v4.2h-4.2zM433.1,63.8h4.2v4.2h-4.2zM435.3,63.8h4.2v4.2h-4.2zM437.5,63.8h4.2v4.2h-4.2zM439.7,63.8h4.2v4.2h-4.2zM441.9,63.8h4.2v4.2h-4.2zM444.2,63.8h4.2v4.2h-4.2zM446.4,63.8h4.2v4.2h-4.2zM448.6,63.8h4.2v4.2h-4.2zM450.8,63.8h4.2v4.2h-4.2zM453.0,63.8h4.2v4.2h-4.2zM455.3,63.8h4.2v4.2h-4.2zM457.5,63.8h4.2v4.2h-4.2zM459.7,63.8h4.2v4.2h-4.2zM461.9,63.8h4.2v4.2h-4.2zM464.1,63.8h4.2v4.2h-4.2zM466.4,63.8h4.2v4.2h-4.2zM468.6,63.8h4.2v4.2h-4.2zM470.8,63.8h4.2v4.2h-4.2zM473.0,63.8h4.2v4.2h-4.2zM475.2,63.8h4.2v4.2h-4.2zM477.5,63.8h4.2v4.2h-4.2zM479.7,63.8h4.2v4.2h-4.2zM481.9,63.8h4.2v4.2h-4.2z" fill="#5aafe3" stroke="#5aafe3" stroke-width="0.5"/>
<path d="M483.9,60.0h3.7v3.7h-3.7zM488.6,56.5h3.7v3.7h-3.7zM493.3,51.9h3.7v3.7h-3.7zM496.1,42.5h3.7v3.7h-3.7zM497.9,33.1h3.7v3.7h-3.7zM499.1,22.6h3.7v3.7h-3.7zM500.3,11.0h3.7v3.7h-3.7z" fill="#5aafe3" stroke="#5aafe3" stroke-width="0.5"/>
<polyline points="370.80,65.90 372.20,65.90 373.60,65.90 375.00,65.90 376.40,65.90 377.80,65.90 379.20,65.90 380.60,65.90 382.00,65.90 383.40,65.90 384.80,65.90 386.20,65.90 387.60,65.90 389.00,65.90 390.40,65.90 391.80,65.90 393.20,65.90 394.60,65.90 396.00,65.90 397.40,65.90 398.80,65.90 400.20,65.90 401.60,65.90 403.00,65.90 404.40,65.90 405.80,65.90 407.20,65.90 408.60,65.90 410.00,65.90 411.40,65.90 412.80,65.90 414.20,65.90 415.60,65.90 417.00,65.90 418.40,65.90 419.80,65.90 421.20,65.90 422.60,65.90 424.00,65.90 425.40,65.90 426.80,65.90 428.20,65.90 429.60,65.90 431.00,65.90 432.40,65.90 433.80,65.90 435.20,65.90 436.60,65.90 438.00,65.90 439.40,65.90 440.80,65.90 442.20,65.90 443.60,65.90 445.00,65.90 446.40,65.90 447.80,65.90 449.20,65.90 450.60,65.90 452.00,65.90 453.40,65.90 454.80,65.90 456.20,65.90 457.60,65.90 459.00,65.90 460.40,65.90 461.80,65.90 463.20,65.90 464.60,65.90 466.00,65.90 467.40,65.90 468.80,65.90 470.20,65.90 471.60,65.90 473.00,65.90 474.40,65.90 475.80,65.90 477.20,65.90 478.60,65.90 480.00,65.90 481.40,65.90 482.80,65.90 484.20,65.90 485.60,65.90 487.00,65.90 489.30,62.60 492.80,59.60 495.20,56.10 497.50,50.20 499.10,42.00 500.30,32.70 501.50,23.40 502.20,15.20" stroke="#f3c080" stroke-width="0.8" fill="none" stroke-linejoin="round" />
<line x1="370.80" y1="65.90" x2="487.00" y2="65.90" stroke="#f0a040" stroke-width="4.2" />
<path d="M370.8,63.3L373.3,67.7L368.3,67.7zM373.0,63.3L375.5,67.7L370.5,67.7zM375.3,63.3L377.8,67.7L372.8,67.7zM377.5,63.3L380.0,67.7L375.0,67.7zM379.7,63.3L382.2,67.7L377.2,67.7zM382.0,63.3L384.5,67.7L379.5,67.7zM384.2,63.3L386.7,67.7L381.7,67.7zM386.4,63.3L388.9,67.7L383.9,67.7zM388.7,63.3L391.2,67.7L386.2,67.7zM390.9,63.3L393.4,67.7L388.4,67.7zM393.1,63.3L395.6,67.7L390.7,67.7zM395.4,63.3L397.9,67.7L392.9,67.7zM397.6,63.3L400.1,67.7L395.1,67.7zM399.9,63.3L402.3,67.7L397.4,67.7zM402.1,63.3L404.6,67.7L399.6,67.7zM404.3,63.3L406.8,67.7L401.8,67.7zM406.6,63.3L409.0,67.7L404.1,67.7zM408.8,63.3L411.3,67.7L406.3,67.7zM411.0,63.3L413.5,67.7L408.5,67.7zM413.3,63.3L415.8,67.7L410.8,67.7zM415.5,63.3L418.0,67.7L413.0,67.7zM417.7,63.3L420.2,67.7L415.2,67.7zM420.0,63.3L422.5,67.7L417.5,67.7zM422.2,63.3L424.7,67.7L419.7,67.7zM424.4,63.3L426.9,67.7L421.9,67.7zM426.7,63.3L429.2,67.7L424.2,67.7zM428.9,63.3L431.4,67.7L426.4,67.7zM431.1,63.3L433.6,67.7L428.6,67.7zM433.4,63.3L435.9,67.7L430.9,67.7zM435.6,63.3L438.1,67.7L433.1,67.7zM437.8,63.3L440.3,67.7L435.3,67.7zM440.1,63.3L442.6,67.7L437.6,67.7zM442.3,63.3L444.8,67.7L439.8,67.7zM444.5,63.3L447.0,67.7L442.0,67.7zM446.8,63.3L449.3,67.7L444.3,67.7zM449.0,63.3L451.5,67.7L446.5,67.7zM451.2,63.3L453.7,67.7L448.8,67.7zM453.5,63.3L456.0,67.7L451.0,67.7zM455.7,63.3L458.2,67.7L453.2,67.7zM457.9,63.3L460.4,67.7L455.5,67.7zM460.2,63.3L462.7,67.7L457.7,67.7zM462.4,63.3L464.9,67.7L459.9,67.7zM464.7,63.3L467.1,67.7L462.2,67.7zM466.9,63.3L469.4,67.7L464.4,67.7zM469.1,63.3L471.6,67.7L466.6,67.7zM471.4,63.3L473.9,67.7L468.9,67.7zM473.6,63.3L476.1,67.7L471.1,67.7zM475.8,63.3L478.3,67.7L473.3,67.7zM478.1,63.3L480.6,67.7L475.6,67.7zM480.3,63.3L482.8,67.7L477.8,67.7zM482.5,63.3L485.0,67.7L480.0,67.7zM484.8,63.3L487.3,67.7L482.3,67.7zM487.0,63.3L489.5,67.7L484.5,67.7z" fill="#f0a040" stroke="#f0a040" stroke-width="0.5"/>
<path d="M489.3,60.3L491.5,64.2L487.1,64.2zM492.8,57.3L495.0,61.2L490.6,61.2zM495.2,53.8L497.4,57.7L493.0,57.7zM497.5,47.9L499.7,51.8L495.3,51.8zM499.1,39.7L501.3,43.6L496.9,43.6zM500.3,30.4L502.5,34.3L498.1,34.3zM501.5,21.1L503.7,25.0L499.3,25.0zM502.2,12.9L504.4,16.8L500.0,16.8z" fill="#f0a040" stroke="#f0a040" stroke-width="0.5"/>
<polyline points="370.80,65.90 372.21,65.90 373.61,65.90 375.02,65.90 376.42,65.90 377.83,65.90 379.23,65.90 380.64,65.90 382.04,65.90 383.45,65.90 384.86,65.90 386.26,65.90 387.67,65.90 389.07,65.90 390.48,65.90 391.88,65.90 393.29,65.90 394.69,65.90 396.10,65.90 397.51,65.90 398.91,65.90 400.32,65.90 401.72,65.90 403.13,65.90 404.53,65.90 405.94,65.90 407.34,65.90 408.75,65.90 410.16,65.90 411.56,65.90 412.97,65.90 414.37,65.90 415.78,65.90 417.18,65.90 418.59,65.90 419.99,65.90 421.40,65.90 422.81,65.90 424.21,65.90 425.62,65.90 427.02,65.90 428.43,65.90 429.83,65.90 431.24,65.90 432.64,65.90 434.05,65.90 435.46,65.90 436.86,65.90 438.27,65.90 439.67,65.90 441.08,65.90 442.48,65.90 443.89,65.90 445.29,65.90 446.70,65.90 448.11,65.90 449.51,65.90 450.92,65.90 452.32,65.90 453.73,65.90 455.13,65.90 456.54,65.90 457.94,65.90 459.35,65.90 460.76,65.90 462.16,65.90 463.57,65.90 464.97,65.90 466.38,65.90 467.78,65.90 469.19,65.90 470.59,65.90 472.00,65.90 474.10,63.10 476.50,59.60 478.80,53.70 480.00,46.70 481.10,37.40 481.80,29.20 482.30,16.40 483.00,8.90" stroke="#ee8a90" stroke-width="0.8" fill="none" stroke-linejoin="round" />
<line x1="370.80" y1="65.90" x2="472.00" y2="65.90" stroke="#ef5660" stroke-width="4.2" />
<path d="M368.6,65.9a2.21,2.21 0 1,0 4.41,0a2.21,2.21 0 1,0 -4.41,0M370.8,65.9a2.21,2.21 0 1,0 4.41,0a2.21,2.21 0 1,0 -4.41,0M373.1,65.9a2.21,2.21 0 1,0 4.41,0a2.21,2.21 0 1,0 -4.41,0M375.3,65.9a2.21,2.21 0 1,0 4.41,0a2.21,2.21 0 1,0 -4.41,0M377.6,65.9a2.21,2.21 0 1,0 4.41,0a2.21,2.21 0 1,0 -4.41,0M379.8,65.9a2.21,2.21 0 1,0 4.41,0a2.21,2.21 0 1,0 -4.41,0M382.1,65.9a2.21,2.21 0 1,0 4.41,0a2.21,2.21 0 1,0 -4.41,0M384.3,65.9a2.21,2.21 0 1,0 4.41,0a2.21,2.21 0 1,0 -4.41,0M386.6,65.9a2.21,2.21 0 1,0 4.41,0a2.21,2.21 0 1,0 -4.41,0M388.8,65.9a2.21,2.21 0 1,0 4.41,0a2.21,2.21 0 1,0 -4.41,0M391.1,65.9a2.21,2.21 0 1,0 4.41,0a2.21,2.21 0 1,0 -4.41,0M393.3,65.9a2.21,2.21 0 1,0 4.41,0a2.21,2.21 0 1,0 -4.41,0M395.6,65.9a2.21,2.21 0 1,0 4.41,0a2.21,2.21 0 1,0 -4.41,0M397.8,65.9a2.21,2.21 0 1,0 4.41,0a2.21,2.21 0 1,0 -4.41,0M400.1,65.9a2.21,2.21 0 1,0 4.41,0a2.21,2.21 0 1,0 -4.41,0M402.3,65.9a2.21,2.21 0 1,0 4.41,0a2.21,2.21 0 1,0 -4.41,0M404.6,65.9a2.21,2.21 0 1,0 4.41,0a2.21,2.21 0 1,0 -4.41,0M406.8,65.9a2.21,2.21 0 1,0 4.41,0a2.21,2.21 0 1,0 -4.41,0M409.1,65.9a2.21,2.21 0 1,0 4.41,0a2.21,2.21 0 1,0 -4.41,0M411.3,65.9a2.21,2.21 0 1,0 4.41,0a2.21,2.21 0 1,0 -4.41,0M413.6,65.9a2.21,2.21 0 1,0 4.41,0a2.21,2.21 0 1,0 -4.41,0M415.8,65.9a2.21,2.21 0 1,0 4.41,0a2.21,2.21 0 1,0 -4.41,0M418.1,65.9a2.21,2.21 0 1,0 4.41,0a2.21,2.21 0 1,0 -4.41,0M420.3,65.9a2.21,2.21 0 1,0 4.41,0a2.21,2.21 0 1,0 -4.41,0M422.6,65.9a2.21,2.21 0 1,0 4.41,0a2.21,2.21 0 1,0 -4.41,0M424.8,65.9a2.21,2.21 0 1,0 4.41,0a2.21,2.21 0 1,0 -4.41,0M427.1,65.9a2.21,2.21 0 1,0 4.41,0a2.21,2.21 0 1,0 -4.41,0M429.3,65.9a2.21,2.21 0 1,0 4.41,0a2.21,2.21 0 1,0 -4.41,0M431.6,65.9a2.21,2.21 0 1,0 4.41,0a2.21,2.21 0 1,0 -4.41,0M433.8,65.9a2.21,2.21 0 1,0 4.41,0a2.21,2.21 0 1,0 -4.41,0M436.1,65.9a2.21,2.21 0 1,0 4.41,0a2.21,2.21 0 1,0 -4.41,0M438.3,65.9a2.21,2.21 0 1,0 4.41,0a2.21,2.21 0 1,0 -4.41,0M440.6,65.9a2.21,2.21 0 1,0 4.41,0a2.21,2.21 0 1,0 -4.41,0M442.8,65.9a2.21,2.21 0 1,0 4.41,0a2.21,2.21 0 1,0 -4.41,0M445.1,65.9a2.21,2.21 0 1,0 4.41,0a2.21,2.21 0 1,0 -4.41,0M447.3,65.9a2.21,2.21 0 1,0 4.41,0a2.21,2.21 0 1,0 -4.41,0M449.6,65.9a2.21,2.21 0 1,0 4.41,0a2.21,2.21 0 1,0 -4.41,0M451.8,65.9a2.21,2.21 0 1,0 4.41,0a2.21,2.21 0 1,0 -4.41,0M454.1,65.9a2.21,2.21 0 1,0 4.41,0a2.21,2.21 0 1,0 -4.41,0M456.3,65.9a2.21,2.21 0 1,0 4.41,0a2.21,2.21 0 1,0 -4.41,0M458.6,65.9a2.21,2.21 0 1,0 4.41,0a2.21,2.21 0 1,0 -4.41,0M460.8,65.9a2.21,2.21 0 1,0 4.41,0a2.21,2.21 0 1,0 -4.41,0M463.0,65.9a2.21,2.21 0 1,0 4.41,0a2.21,2.21 0 1,0 -4.41,0M465.3,65.9a2.21,2.21 0 1,0 4.41,0a2.21,2.21 0 1,0 -4.41,0M467.5,65.9a2.21,2.21 0 1,0 4.41,0a2.21,2.21 0 1,0 -4.41,0M469.8,65.9a2.21,2.21 0 1,0 4.41,0a2.21,2.21 0 1,0 -4.41,0" fill="#ef5660" stroke="#ef5660" stroke-width="0.5"/>
<path d="M472.2,63.1a1.94,1.94 0 1,0 3.89,0a1.94,1.94 0 1,0 -3.89,0M474.6,59.6a1.94,1.94 0 1,0 3.89,0a1.94,1.94 0 1,0 -3.89,0M476.9,53.7a1.94,1.94 0 1,0 3.89,0a1.94,1.94 0 1,0 -3.89,0M478.1,46.7a1.94,1.94 0 1,0 3.89,0a1.94,1.94 0 1,0 -3.89,0M479.2,37.4a1.94,1.94 0 1,0 3.89,0a1.94,1.94 0 1,0 -3.89,0M479.9,29.2a1.94,1.94 0 1,0 3.89,0a1.94,1.94 0 1,0 -3.89,0M480.4,16.4a1.94,1.94 0 1,0 3.89,0a1.94,1.94 0 1,0 -3.89,0M481.1,8.9a1.94,1.94 0 1,0 3.89,0a1.94,1.94 0 1,0 -3.89,0" fill="#ef5660" stroke="#ef5660" stroke-width="0.5"/>
<path d="M366.0,139.0 Q377.8,135.7 415.2,135.7 Q452.7,135.7 464.5,139.0 Q452.7,142.3 415.2,142.3 Q377.8,142.3 366.0,139.0Z" fill="#ee6cbc" opacity="0.9"/>
<polyline points="370.80,139.00 373.24,139.00 375.68,139.00 378.12,139.00 380.56,139.00 383.00,139.00 385.50,135.50 395.00,135.00 410.00,134.40 425.30,133.60 440.70,132.10 456.00,131.00 463.60,129.80 471.30,129.00 479.00,127.50 486.60,126.00 494.30,124.90 502.00,124.00" stroke="#9fd0f0" stroke-width="0.8" fill="none" stroke-linejoin="round" />
<path d="M369.2,137.4h3.1v3.1h-3.1zM371.9,137.4h3.1v3.1h-3.1zM374.5,137.4h3.1v3.1h-3.1zM377.1,137.4h3.1v3.1h-3.1zM379.7,137.4h3.1v3.1h-3.1zM382.3,136.3h3.1v3.1h-3.1zM384.9,133.9h3.1v3.1h-3.1zM387.5,133.8h3.1v3.1h-3.1zM390.1,133.6h3.1v3.1h-3.1zM392.7,133.5h3.1v3.1h-3.1zM395.3,133.4h3.1v3.1h-3.1zM397.9,133.3h3.1v3.1h-3.1zM400.5,133.2h3.1v3.1h-3.1zM403.1,133.1h3.1v3.1h-3.1zM405.7,133.0h3.1v3.1h-3.1zM408.3,132.9h3.1v3.1h-3.1zM410.9,132.7h3.1v3.1h-3.1zM413.5,132.6h3.1v3.1h-3.1zM416.1,132.5h3.1v3.1h-3.1zM418.7,132.3h3.1v3.1h-3.1zM421.3,132.2h3.1v3.1h-3.1zM423.9,132.0h3.1v3.1h-3.1zM426.5,131.8h3.1v3.1h-3.1zM429.1,131.5h3.1v3.1h-3.1zM431.7,131.3h3.1v3.1h-3.1zM434.3,131.0h3.1v3.1h-3.1zM436.9,130.8h3.1v3.1h-3.1zM439.5,130.5h3.1v3.1h-3.1zM442.1,130.3h3.1v3.1h-3.1zM444.7,130.2h3.1v3.1h-3.1zM447.3,130.0h3.1v3.1h-3.1zM449.9,129.8h3.1v3.1h-3.1zM452.5,129.6h3.1v3.1h-3.1zM455.1,129.4h3.1v3.1h-3.1zM457.7,128.9h3.1v3.1h-3.1zM460.3,128.5h3.1v3.1h-3.1zM462.9,128.2h3.1v3.1h-3.1zM465.5,127.9h3.1v3.1h-3.1zM468.1,127.6h3.1v3.1h-3.1zM470.7,127.3h3.1v3.1h-3.1zM473.3,126.8h3.1v3.1h-3.1zM475.9,126.3h3.1v3.1h-3.1zM478.5,125.8h3.1v3.1h-3.1zM481.1,125.2h3.1v3.1h-3.1zM483.7,124.7h3.1v3.1h-3.1zM486.3,124.3h3.1v3.1h-3.1zM488.9,123.9h3.1v3.1h-3.1zM491.5,123.5h3.1v3.1h-3.1zM494.1,123.2h3.1v3.1h-3.1zM496.7,122.9h3.1v3.1h-3.1zM499.3,122.6h3.1v3.1h-3.1zM500.4,122.5h3.1v3.1h-3.1z" fill="#fff" stroke="#5aafe3" stroke-width="0.9"/>
<polyline points="370.80,139.00 373.21,139.00 375.61,139.00 378.02,139.00 380.42,139.00 382.83,139.00 385.23,139.00 387.64,139.00 390.05,139.00 392.45,139.00 394.86,139.00 397.26,139.00 399.67,139.00 402.07,139.00 404.48,139.00 406.89,139.00 409.29,139.00 411.70,139.00 414.10,139.00 416.51,139.00 418.91,139.00 421.32,139.00 423.73,139.00 426.13,139.00 428.54,139.00 430.94,139.00 433.35,139.00 435.75,139.00 438.16,139.00 440.57,139.00 442.97,139.00 445.38,139.00 447.78,139.00 450.19,139.00 452.59,139.00 455.00,139.00 457.50,135.90 463.60,133.60 471.30,130.50 477.40,127.50 482.00,124.40 486.60,120.60 491.20,117.50 495.10,112.90 498.10,109.10" stroke="#f3c080" stroke-width="0.8" fill="none" stroke-linejoin="round" />
<path d="M370.8,136.8L372.9,140.5L368.7,140.5zM372.6,136.8L374.7,140.5L370.6,140.5zM374.5,136.8L376.5,140.5L372.4,140.5zM376.3,136.8L378.4,140.5L374.2,140.5zM378.1,136.8L380.2,140.5L376.0,140.5zM380.0,136.8L382.0,140.5L377.9,140.5zM381.8,136.8L383.9,140.5L379.7,140.5zM383.6,136.8L385.7,140.5L381.5,140.5zM385.4,136.8L387.5,140.5L383.4,140.5zM387.3,136.8L389.4,140.5L385.2,140.5zM389.1,136.8L391.2,140.5L387.0,140.5zM390.9,136.8L393.0,140.5L388.9,140.5zM392.8,136.8L394.8,140.5L390.7,140.5zM394.6,136.8L396.7,140.5L392.5,140.5zM396.4,136.8L398.5,140.5L394.3,140.5zM398.3,136.8L400.3,140.5L396.2,140.5zM400.1,136.8L402.2,140.5L398.0,140.5zM401.9,136.8L404.0,140.5L399.8,140.5zM403.7,136.8L405.8,140.5L401.7,140.5zM405.6,136.8L407.7,140.5L403.5,140.5zM407.4,136.8L409.5,140.5L405.3,140.5zM409.2,136.8L411.3,140.5L407.2,140.5zM411.1,136.8L413.1,140.5L409.0,140.5zM412.9,136.8L415.0,140.5L410.8,140.5zM414.7,136.8L416.8,140.5L412.7,140.5zM416.6,136.8L418.6,140.5L414.5,140.5zM418.4,136.8L420.5,140.5L416.3,140.5zM420.2,136.8L422.3,140.5L418.1,140.5zM422.1,136.8L424.1,140.5L420.0,140.5zM423.9,136.8L426.0,140.5L421.8,140.5zM425.7,136.8L427.8,140.5L423.6,140.5zM427.5,136.8L429.6,140.5L425.5,140.5zM429.4,136.8L431.5,140.5L427.3,140.5zM431.2,136.8L433.3,140.5L429.1,140.5zM433.0,136.8L435.1,140.5L431.0,140.5zM434.9,136.8L436.9,140.5L432.8,140.5zM436.7,136.8L438.8,140.5L434.6,140.5zM438.5,136.8L440.6,140.5L436.4,140.5zM440.4,136.8L442.4,140.5L438.3,140.5zM442.2,136.8L444.3,140.5L440.1,140.5zM444.0,136.8L446.1,140.5L441.9,140.5zM445.8,136.8L447.9,140.5L443.8,140.5zM447.7,136.8L449.8,140.5L445.6,140.5zM449.5,136.8L451.6,140.5L447.4,140.5zM451.3,136.8L453.4,140.5L449.3,140.5zM453.2,136.8L455.2,140.5L451.1,140.5zM455.0,136.8L457.1,140.5L452.9,140.5zM458.0,133.5L460.1,137.2L455.9,137.2zM461.0,132.4L463.1,136.1L458.9,136.1zM464.0,131.3L466.1,135.0L461.9,135.0zM467.0,130.0L469.1,133.8L464.9,133.8zM470.0,128.8L472.1,132.6L467.9,132.6zM473.0,127.5L475.1,131.2L470.9,131.2zM476.0,126.0L478.1,129.7L473.9,129.7zM479.0,124.2L481.1,128.0L476.9,128.0zM482.0,122.2L484.1,125.9L479.9,125.9zM485.0,119.7L487.1,123.5L482.9,123.5zM488.0,117.5L490.1,121.2L485.9,121.2zM491.0,115.4L493.1,119.2L488.9,119.2zM494.0,112.0L496.1,115.7L491.9,115.7zM497.0,108.3L499.1,112.0L494.9,112.0zM498.1,106.9L500.2,110.6L496.0,110.6z" fill="#fff" stroke="#f0a040" stroke-width="0.9"/>
<polyline points="370.80,139.00 373.25,139.00 375.69,139.00 378.14,139.00 380.59,139.00 383.04,139.00 385.48,139.00 387.93,139.00 390.38,139.00 392.82,139.00 395.27,139.00 397.72,139.00 400.16,139.00 402.61,139.00 405.06,139.00 407.51,139.00 409.95,139.00 412.40,139.00 414.85,139.00 417.29,139.00 419.74,139.00 422.19,139.00 424.64,139.00 427.08,139.00 429.53,139.00 431.98,139.00 434.42,139.00 436.87,139.00 439.32,139.00 441.76,139.00 444.21,139.00 446.66,139.00 449.11,139.00 451.55,139.00 454.00,139.00 456.00,135.90 460.60,131.30 463.60,127.50 466.70,123.60 469.80,119.00 472.80,114.50 475.10,110.60 477.40,107.60 479.70,106.00" stroke="#ee8a90" stroke-width="0.8" fill="none" stroke-linejoin="round" />
<path d="M369.0,139.0a1.84,1.84 0 1,0 3.68,0a1.84,1.84 0 1,0 -3.68,0M370.8,139.0a1.84,1.84 0 1,0 3.68,0a1.84,1.84 0 1,0 -3.68,0M372.6,139.0a1.84,1.84 0 1,0 3.68,0a1.84,1.84 0 1,0 -3.68,0M374.4,139.0a1.84,1.84 0 1,0 3.68,0a1.84,1.84 0 1,0 -3.68,0M376.2,139.0a1.84,1.84 0 1,0 3.68,0a1.84,1.84 0 1,0 -3.68,0M378.0,139.0a1.84,1.84 0 1,0 3.68,0a1.84,1.84 0 1,0 -3.68,0M379.8,139.0a1.84,1.84 0 1,0 3.68,0a1.84,1.84 0 1,0 -3.68,0M381.6,139.0a1.84,1.84 0 1,0 3.68,0a1.84,1.84 0 1,0 -3.68,0M383.4,139.0a1.84,1.84 0 1,0 3.68,0a1.84,1.84 0 1,0 -3.68,0M385.2,139.0a1.84,1.84 0 1,0 3.68,0a1.84,1.84 0 1,0 -3.68,0M387.0,139.0a1.84,1.84 0 1,0 3.68,0a1.84,1.84 0 1,0 -3.68,0M388.9,139.0a1.84,1.84 0 1,0 3.68,0a1.84,1.84 0 1,0 -3.68,0M390.7,139.0a1.84,1.84 0 1,0 3.68,0a1.84,1.84 0 1,0 -3.68,0M392.5,139.0a1.84,1.84 0 1,0 3.68,0a1.84,1.84 0 1,0 -3.68,0M394.3,139.0a1.84,1.84 0 1,0 3.68,0a1.84,1.84 0 1,0 -3.68,0M396.1,139.0a1.84,1.84 0 1,0 3.68,0a1.84,1.84 0 1,0 -3.68,0M397.9,139.0a1.84,1.84 0 1,0 3.68,0a1.84,1.84 0 1,0 -3.68,0M399.7,139.0a1.84,1.84 0 1,0 3.68,0a1.84,1.84 0 1,0 -3.68,0M401.5,139.0a1.84,1.84 0 1,0 3.68,0a1.84,1.84 0 1,0 -3.68,0M403.3,139.0a1.84,1.84 0 1,0 3.68,0a1.84,1.84 0 1,0 -3.68,0M405.1,139.0a1.84,1.84 0 1,0 3.68,0a1.84,1.84 0 1,0 -3.68,0M406.9,139.0a1.84,1.84 0 1,0 3.68,0a1.84,1.84 0 1,0 -3.68,0M408.8,139.0a1.84,1.84 0 1,0 3.68,0a1.84,1.84 0 1,0 -3.68,0M410.6,139.0a1.84,1.84 0 1,0 3.68,0a1.84,1.84 0 1,0 -3.68,0M412.4,139.0a1.84,1.84 0 1,0 3.68,0a1.84,1.84 0 1,0 -3.68,0M414.2,139.0a1.84,1.84 0 1,0 3.68,0a1.84,1.84 0 1,0 -3.68,0M416.0,139.0a1.84,1.84 0 1,0 3.68,0a1.84,1.84 0 1,0 -3.68,0M417.8,139.0a1.84,1.84 0 1,0 3.68,0a1.84,1.84 0 1,0 -3.68,0M419.6,139.0a1.84,1.84 0 1,0 3.68,0a1.84,1.84 0 1,0 -3.68,0M421.4,139.0a1.84,1.84 0 1,0 3.68,0a1.84,1.84 0 1,0 -3.68,0M423.2,139.0a1.84,1.84 0 1,0 3.68,0a1.84,1.84 0 1,0 -3.68,0M425.0,139.0a1.84,1.84 0 1,0 3.68,0a1.84,1.84 0 1,0 -3.68,0M426.8,139.0a1.84,1.84 0 1,0 3.68,0a1.84,1.84 0 1,0 -3.68,0M428.6,139.0a1.84,1.84 0 1,0 3.68,0a1.84,1.84 0 1,0 -3.68,0M430.5,139.0a1.84,1.84 0 1,0 3.68,0a1.84,1.84 0 1,0 -3.68,0M432.3,139.0a1.84,1.84 0 1,0 3.68,0a1.84,1.84 0 1,0 -3.68,0M434.1,139.0a1.84,1.84 0 1,0 3.68,0a1.84,1.84 0 1,0 -3.68,0M435.9,139.0a1.84,1.84 0 1,0 3.68,0a1.84,1.84 0 1,0 -3.68,0M437.7,139.0a1.84,1.84 0 1,0 3.68,0a1.84,1.84 0 1,0 -3.68,0M439.5,139.0a1.84,1.84 0 1,0 3.68,0a1.84,1.84 0 1,0 -3.68,0M441.3,139.0a1.84,1.84 0 1,0 3.68,0a1.84,1.84 0 1,0 -3.68,0M443.1,139.0a1.84,1.84 0 1,0 3.68,0a1.84,1.84 0 1,0 -3.68,0M444.9,139.0a1.84,1.84 0 1,0 3.68,0a1.84,1.84 0 1,0 -3.68,0M446.7,139.0a1.84,1.84 0 1,0 3.68,0a1.84,1.84 0 1,0 -3.68,0M448.5,139.0a1.84,1.84 0 1,0 3.68,0a1.84,1.84 0 1,0 -3.68,0M450.4,139.0a1.84,1.84 0 1,0 3.68,0a1.84,1.84 0 1,0 -3.68,0M452.2,139.0a1.84,1.84 0 1,0 3.68,0a1.84,1.84 0 1,0 -3.68,0M455.2,134.9a1.84,1.84 0 1,0 3.68,0a1.84,1.84 0 1,0 -3.68,0M458.2,131.9a1.84,1.84 0 1,0 3.68,0a1.84,1.84 0 1,0 -3.68,0M461.2,128.3a1.84,1.84 0 1,0 3.68,0a1.84,1.84 0 1,0 -3.68,0M464.2,124.5a1.84,1.84 0 1,0 3.68,0a1.84,1.84 0 1,0 -3.68,0M467.2,120.2a1.84,1.84 0 1,0 3.68,0a1.84,1.84 0 1,0 -3.68,0M470.2,115.7a1.84,1.84 0 1,0 3.68,0a1.84,1.84 0 1,0 -3.68,0M473.2,110.8a1.84,1.84 0 1,0 3.68,0a1.84,1.84 0 1,0 -3.68,0M476.2,107.2a1.84,1.84 0 1,0 3.68,0a1.84,1.84 0 1,0 -3.68,0M477.9,106.0a1.84,1.84 0 1,0 3.68,0a1.84,1.84 0 1,0 -3.68,0" fill="#fff" stroke="#ef5660" stroke-width="0.9"/>
<path d="M526.0,65.7 Q537.8,62.4 575.0,62.4 Q612.2,62.4 624.0,65.7 Q612.2,69.0 575.0,69.0 Q537.8,69.0 526.0,65.7Z" fill="#ee6cbc" opacity="0.9"/>
<polyline points="530.50,65.70 531.92,65.70 533.34,65.70 534.76,65.70 536.17,65.70 537.59,65.70 539.01,65.70 540.43,65.70 541.85,65.70 543.27,65.70 544.68,65.70 546.10,65.70 547.52,65.70 548.94,65.70 550.36,65.70 551.78,65.70 553.19,65.70 554.61,65.70 556.03,65.70 557.45,65.70 558.87,65.70 560.29,65.70 561.70,65.70 563.12,65.70 564.54,65.70 565.96,65.70 567.38,65.70 568.80,65.70 570.21,65.70 571.63,65.70 573.05,65.70 574.47,65.70 575.89,65.70 577.31,65.70 578.72,65.70 580.14,65.70 581.56,65.70 582.98,65.70 584.40,65.70 585.82,65.70 587.23,65.70 588.65,65.70 590.07,65.70 591.49,65.70 592.91,65.70 594.33,65.70 595.74,65.70 597.16,65.70 598.58,65.70 600.00,65.70 610.00,64.60 620.10,63.60 631.80,61.40 641.10,59.60 648.10,56.10 652.80,52.60 656.30,47.90 658.70,42.00 661.00,32.70 662.20,25.70 663.30,19.90 665.00,12.80" stroke="#9fd0f0" stroke-width="0.8" fill="none" stroke-linejoin="round" />
<line x1="530.50" y1="65.70" x2="600.00" y2="65.70" stroke="#5aafe3" stroke-width="4.2" />
<path d="M528.4,63.6h4.2v4.2h-4.2zM530.6,63.6h4.2v4.2h-4.2zM532.9,63.6h4.2v4.2h-4.2zM535.1,63.6h4.2v4.2h-4.2zM537.4,63.6h4.2v4.2h-4.2zM539.6,63.6h4.2v4.2h-4.2zM541.9,63.6h4.2v4.2h-4.2zM544.1,63.6h4.2v4.2h-4.2zM546.3,63.6h4.2v4.2h-4.2zM548.6,63.6h4.2v4.2h-4.2zM550.8,63.6h4.2v4.2h-4.2zM553.1,63.6h4.2v4.2h-4.2zM555.3,63.6h4.2v4.2h-4.2zM557.5,63.6h4.2v4.2h-4.2zM559.8,63.6h4.2v4.2h-4.2zM562.0,63.6h4.2v4.2h-4.2zM564.3,63.6h4.2v4.2h-4.2zM566.5,63.6h4.2v4.2h-4.2zM568.8,63.6h4.2v4.2h-4.2zM571.0,63.6h4.2v4.2h-4.2zM573.2,63.6h4.2v4.2h-4.2zM575.5,63.6h4.2v4.2h-4.2zM577.7,63.6h4.2v4.2h-4.2zM580.0,63.6h4.2v4.2h-4.2zM582.2,63.6h4.2v4.2h-4.2zM584.4,63.6h4.2v4.2h-4.2zM586.7,63.6h4.2v4.2h-4.2zM588.9,63.6h4.2v4.2h-4.2zM591.2,63.6h4.2v4.2h-4.2zM593.4,63.6h4.2v4.2h-4.2zM595.7,63.6h4.2v4.2h-4.2zM597.9,63.6h4.2v4.2h-4.2z" fill="#5aafe3" stroke="#5aafe3" stroke-width="0.5"/>
<path d="M600.4,63.6h3.7v3.7h-3.7zM602.6,63.4h3.7v3.7h-3.7zM604.8,63.1h3.7v3.7h-3.7zM607.0,62.9h3.7v3.7h-3.7zM609.2,62.7h3.7v3.7h-3.7zM611.4,62.4h3.7v3.7h-3.7zM613.6,62.2h3.7v3.7h-3.7zM615.8,62.0h3.7v3.7h-3.7zM618.0,61.8h3.7v3.7h-3.7zM620.2,61.4h3.7v3.7h-3.7zM622.4,61.0h3.7v3.7h-3.7zM624.6,60.6h3.7v3.7h-3.7zM626.8,60.2h3.7v3.7h-3.7zM629.0,59.7h3.7v3.7h-3.7zM631.2,59.3h3.7v3.7h-3.7zM633.4,58.9h3.7v3.7h-3.7zM635.6,58.5h3.7v3.7h-3.7zM637.8,58.0h3.7v3.7h-3.7zM640.0,57.4h3.7v3.7h-3.7zM642.2,56.3h3.7v3.7h-3.7zM644.4,55.2h3.7v3.7h-3.7zM646.6,54.0h3.7v3.7h-3.7zM648.8,52.4h3.7v3.7h-3.7zM651.0,50.7h3.7v3.7h-3.7zM653.2,47.8h3.7v3.7h-3.7zM655.4,43.8h3.7v3.7h-3.7zM657.6,37.3h3.7v3.7h-3.7zM659.8,27.3h3.7v3.7h-3.7zM662.0,16.0h3.7v3.7h-3.7zM663.1,11.0h3.7v3.7h-3.7zM659.1,30.9h3.7v3.7h-3.7zM660.4,23.8h3.7v3.7h-3.7zM661.4,18.0h3.7v3.7h-3.7zM663.1,11.0h3.7v3.7h-3.7z" fill="#5aafe3" stroke="#5aafe3" stroke-width="0.5"/>
<polyline points="530.50,65.70 531.91,65.70 533.32,65.70 534.74,65.70 536.15,65.70 537.56,65.70 538.97,65.70 540.39,65.70 541.80,65.70 543.21,65.70 544.62,65.70 546.04,65.70 547.45,65.70 548.86,65.70 550.27,65.70 551.68,65.70 553.10,65.70 554.51,65.70 555.92,65.70 557.33,65.70 558.75,65.70 560.16,65.70 561.57,65.70 562.98,65.70 564.39,65.70 565.81,65.70 567.22,65.70 568.63,65.70 570.04,65.70 571.46,65.70 572.87,65.70 574.28,65.70 575.69,65.70 577.11,65.70 578.52,65.70 579.93,65.70 581.34,65.70 582.75,65.70 584.17,65.70 585.58,65.70 586.99,65.70 588.40,65.70 589.82,65.70 591.23,65.70 592.64,65.70 594.05,65.70 595.46,65.70 596.88,65.70 598.29,65.70 599.70,65.70 601.11,65.70 602.53,65.70 603.94,65.70 605.35,65.70 606.76,65.70 608.18,65.70 609.59,65.70 611.00,65.70 613.10,61.90 616.60,59.60 619.00,57.20 620.10,53.70 621.30,49.10 622.50,44.40 623.60,38.50 624.80,32.70 626.00,25.70 627.10,21.00 627.80,15.90" stroke="#f3c080" stroke-width="0.8" fill="none" stroke-linejoin="round" />
<line x1="530.50" y1="65.70" x2="611.00" y2="65.70" stroke="#f0a040" stroke-width="4.2" />
<path d="M530.5,63.1L533.0,67.5L528.0,67.5zM532.7,63.1L535.2,67.5L530.2,67.5zM535.0,63.1L537.5,67.5L532.5,67.5zM537.2,63.1L539.7,67.5L534.7,67.5zM539.4,63.1L541.9,67.5L537.0,67.5zM541.7,63.1L544.2,67.5L539.2,67.5zM543.9,63.1L546.4,67.5L541.4,67.5zM546.2,63.1L548.6,67.5L543.7,67.5zM548.4,63.1L550.9,67.5L545.9,67.5zM550.6,63.1L553.1,67.5L548.1,67.5zM552.9,63.1L555.4,67.5L550.4,67.5zM555.1,63.1L557.6,67.5L552.6,67.5zM557.3,63.1L559.8,67.5L554.8,67.5zM559.6,63.1L562.1,67.5L557.1,67.5zM561.8,63.1L564.3,67.5L559.3,67.5zM564.0,63.1L566.5,67.5L561.5,67.5zM566.3,63.1L568.8,67.5L563.8,67.5zM568.5,63.1L571.0,67.5L566.0,67.5zM570.8,63.1L573.2,67.5L568.3,67.5zM573.0,63.1L575.5,67.5L570.5,67.5zM575.2,63.1L577.7,67.5L572.7,67.5zM577.5,63.1L580.0,67.5L575.0,67.5zM579.7,63.1L582.2,67.5L577.2,67.5zM581.9,63.1L584.4,67.5L579.4,67.5zM584.2,63.1L586.7,67.5L581.7,67.5zM586.4,63.1L588.9,67.5L583.9,67.5zM588.6,63.1L591.1,67.5L586.1,67.5zM590.9,63.1L593.4,67.5L588.4,67.5zM593.1,63.1L595.6,67.5L590.6,67.5zM595.3,63.1L597.8,67.5L592.9,67.5zM597.6,63.1L600.1,67.5L595.1,67.5zM599.8,63.1L602.3,67.5L597.3,67.5zM602.1,63.1L604.5,67.5L599.6,67.5zM604.3,63.1L606.8,67.5L601.8,67.5zM606.5,63.1L609.0,67.5L604.0,67.5zM608.8,63.1L611.3,67.5L606.3,67.5zM611.0,63.1L613.5,67.5L608.5,67.5z" fill="#f0a040" stroke="#f0a040" stroke-width="0.5"/>
<path d="M613.1,59.6L615.3,63.5L610.9,63.5zM616.6,57.3L618.8,61.2L614.4,61.2zM619.0,54.9L621.2,58.8L616.8,58.8zM620.1,51.4L622.3,55.3L617.9,55.3zM621.3,46.8L623.5,50.7L619.1,50.7zM622.5,42.1L624.7,46.0L620.3,46.0zM623.6,36.2L625.8,40.1L621.4,40.1zM624.8,30.4L627.0,34.3L622.6,34.3zM626.0,23.4L628.2,27.3L623.8,27.3zM627.1,18.7L629.3,22.6L624.9,22.6zM627.8,13.6L630.0,17.5L625.6,17.5z" fill="#f0a040" stroke="#f0a040" stroke-width="0.5"/>
<polyline points="530.50,65.70 531.92,65.70 533.35,65.70 534.77,65.70 536.20,65.70 537.62,65.70 539.04,65.70 540.47,65.70 541.89,65.70 543.32,65.70 544.74,65.70 546.16,65.70 547.59,65.70 549.01,65.70 550.43,65.70 551.86,65.70 553.28,65.70 554.71,65.70 556.13,65.70 557.55,65.70 558.98,65.70 560.40,65.70 561.83,65.70 563.25,65.70 564.67,65.70 566.10,65.70 567.52,65.70 568.95,65.70 570.37,65.70 571.79,65.70 573.22,65.70 574.64,65.70 576.07,65.70 577.49,65.70 578.91,65.70 580.34,65.70 581.76,65.70 583.18,65.70 584.61,65.70 586.03,65.70 587.46,65.70 588.88,65.70 590.30,65.70 591.73,65.70 593.15,65.70 594.58,65.70 596.00,65.70 597.90,63.10 602.60,61.20 606.10,58.40 608.40,54.90 610.80,51.90 613.10,46.70 615.00,43.20 616.60,36.70 618.20,30.40 619.60,23.40 621.30,16.40 622.00,9.30" stroke="#ee8a90" stroke-width="0.8" fill="none" stroke-linejoin="round" />
<line x1="530.50" y1="65.70" x2="596.00" y2="65.70" stroke="#ef5660" stroke-width="4.2" />
<path d="M528.3,65.7a2.21,2.21 0 1,0 4.41,0a2.21,2.21 0 1,0 -4.41,0M530.6,65.7a2.21,2.21 0 1,0 4.41,0a2.21,2.21 0 1,0 -4.41,0M532.8,65.7a2.21,2.21 0 1,0 4.41,0a2.21,2.21 0 1,0 -4.41,0M535.1,65.7a2.21,2.21 0 1,0 4.41,0a2.21,2.21 0 1,0 -4.41,0M537.3,65.7a2.21,2.21 0 1,0 4.41,0a2.21,2.21 0 1,0 -4.41,0M539.6,65.7a2.21,2.21 0 1,0 4.41,0a2.21,2.21 0 1,0 -4.41,0M541.8,65.7a2.21,2.21 0 1,0 4.41,0a2.21,2.21 0 1,0 -4.41,0M544.1,65.7a2.21,2.21 0 1,0 4.41,0a2.21,2.21 0 1,0 -4.41,0M546.4,65.7a2.21,2.21 0 1,0 4.41,0a2.21,2.21 0 1,0 -4.41,0M548.6,65.7a2.21,2.21 0 1,0 4.41,0a2.21,2.21 0 1,0 -4.41,0M550.9,65.7a2.21,2.21 0 1,0 4.41,0a2.21,2.21 0 1,0 -4.41,0M553.1,65.7a2.21,2.21 0 1,0 4.41,0a2.21,2.21 0 1,0 -4.41,0M555.4,65.7a2.21,2.21 0 1,0 4.41,0a2.21,2.21 0 1,0 -4.41,0M557.7,65.7a2.21,2.21 0 1,0 4.41,0a2.21,2.21 0 1,0 -4.41,0M559.9,65.7a2.21,2.21 0 1,0 4.41,0a2.21,2.21 0 1,0 -4.41,0M562.2,65.7a2.21,2.21 0 1,0 4.41,0a2.21,2.21 0 1,0 -4.41,0M564.4,65.7a2.21,2.21 0 1,0 4.41,0a2.21,2.21 0 1,0 -4.41,0M566.7,65.7a2.21,2.21 0 1,0 4.41,0a2.21,2.21 0 1,0 -4.41,0M569.0,65.7a2.21,2.21 0 1,0 4.41,0a2.21,2.21 0 1,0 -4.41,0M571.2,65.7a2.21,2.21 0 1,0 4.41,0a2.21,2.21 0 1,0 -4.41,0M573.5,65.7a2.21,2.21 0 1,0 4.41,0a2.21,2.21 0 1,0 -4.41,0M575.7,65.7a2.21,2.21 0 1,0 4.41,0a2.21,2.21 0 1,0 -4.41,0M578.0,65.7a2.21,2.21 0 1,0 4.41,0a2.21,2.21 0 1,0 -4.41,0M580.2,65.7a2.21,2.21 0 1,0 4.41,0a2.21,2.21 0 1,0 -4.41,0M582.5,65.7a2.21,2.21 0 1,0 4.41,0a2.21,2.21 0 1,0 -4.41,0M584.8,65.7a2.21,2.21 0 1,0 4.41,0a2.21,2.21 0 1,0 -4.41,0M587.0,65.7a2.21,2.21 0 1,0 4.41,0a2.21,2.21 0 1,0 -4.41,0M589.3,65.7a2.21,2.21 0 1,0 4.41,0a2.21,2.21 0 1,0 -4.41,0M591.5,65.7a2.21,2.21 0 1,0 4.41,0a2.21,2.21 0 1,0 -4.41,0M593.8,65.7a2.21,2.21 0 1,0 4.41,0a2.21,2.21 0 1,0 -4.41,0" fill="#ef5660" stroke="#ef5660" stroke-width="0.5"/>
<path d="M596.0,63.1a1.94,1.94 0 1,0 3.89,0a1.94,1.94 0 1,0 -3.89,0M600.7,61.2a1.94,1.94 0 1,0 3.89,0a1.94,1.94 0 1,0 -3.89,0M604.2,58.4a1.94,1.94 0 1,0 3.89,0a1.94,1.94 0 1,0 -3.89,0M606.5,54.9a1.94,1.94 0 1,0 3.89,0a1.94,1.94 0 1,0 -3.89,0M608.9,51.9a1.94,1.94 0 1,0 3.89,0a1.94,1.94 0 1,0 -3.89,0M611.2,46.7a1.94,1.94 0 1,0 3.89,0a1.94,1.94 0 1,0 -3.89,0M613.1,43.2a1.94,1.94 0 1,0 3.89,0a1.94,1.94 0 1,0 -3.89,0M614.7,36.7a1.94,1.94 0 1,0 3.89,0a1.94,1.94 0 1,0 -3.89,0M616.3,30.4a1.94,1.94 0 1,0 3.89,0a1.94,1.94 0 1,0 -3.89,0M617.7,23.4a1.94,1.94 0 1,0 3.89,0a1.94,1.94 0 1,0 -3.89,0M619.4,16.4a1.94,1.94 0 1,0 3.89,0a1.94,1.94 0 1,0 -3.89,0M620.1,9.3a1.94,1.94 0 1,0 3.89,0a1.94,1.94 0 1,0 -3.89,0" fill="#ef5660" stroke="#ef5660" stroke-width="0.5"/>
<path d="M526.0,138.9 Q533.1,135.6 555.5,135.6 Q577.9,135.6 585.0,138.9 Q577.9,142.2 555.5,142.2 Q533.1,142.2 526.0,138.9Z" fill="#ee6cbc" opacity="0.9"/>
<polyline points="530.50,138.90 534.90,138.90 537.20,129.60 539.50,124.90 544.20,124.20 550.00,123.50 561.70,121.40 573.40,119.50 585.10,117.90 596.80,115.50 608.40,113.20 620.10,110.90 631.80,109.20 643.50,108.10 655.20,108.10 664.50,108.10" stroke="#9fd0f0" stroke-width="0.8" fill="none" stroke-linejoin="round" />
<path d="M529.0,137.3h3.1v3.1h-3.1zM531.6,137.3h3.1v3.1h-3.1zM534.2,134.1h3.1v3.1h-3.1zM536.8,125.8h3.1v3.1h-3.1zM539.4,123.1h3.1v3.1h-3.1zM542.0,122.8h3.1v3.1h-3.1zM544.6,122.4h3.1v3.1h-3.1zM547.2,122.1h3.1v3.1h-3.1zM549.8,121.7h3.1v3.1h-3.1zM552.4,121.2h3.1v3.1h-3.1zM555.0,120.8h3.1v3.1h-3.1zM557.6,120.3h3.1v3.1h-3.1zM560.2,119.8h3.1v3.1h-3.1zM562.8,119.4h3.1v3.1h-3.1zM565.4,119.0h3.1v3.1h-3.1zM568.0,118.6h3.1v3.1h-3.1zM570.6,118.2h3.1v3.1h-3.1zM573.2,117.8h3.1v3.1h-3.1zM575.8,117.4h3.1v3.1h-3.1zM578.4,117.1h3.1v3.1h-3.1zM581.0,116.7h3.1v3.1h-3.1zM583.6,116.3h3.1v3.1h-3.1zM586.2,115.8h3.1v3.1h-3.1zM588.8,115.3h3.1v3.1h-3.1zM591.4,114.7h3.1v3.1h-3.1zM594.0,114.2h3.1v3.1h-3.1zM596.6,113.7h3.1v3.1h-3.1zM599.2,113.2h3.1v3.1h-3.1zM601.8,112.7h3.1v3.1h-3.1zM604.4,112.1h3.1v3.1h-3.1zM607.0,111.6h3.1v3.1h-3.1zM609.6,111.1h3.1v3.1h-3.1zM612.2,110.6h3.1v3.1h-3.1zM614.8,110.1h3.1v3.1h-3.1zM617.4,109.6h3.1v3.1h-3.1zM620.0,109.1h3.1v3.1h-3.1zM622.6,108.8h3.1v3.1h-3.1zM625.2,108.4h3.1v3.1h-3.1zM627.8,108.0h3.1v3.1h-3.1zM630.4,107.6h3.1v3.1h-3.1zM633.0,107.4h3.1v3.1h-3.1zM635.6,107.2h3.1v3.1h-3.1zM638.2,106.9h3.1v3.1h-3.1zM640.8,106.7h3.1v3.1h-3.1zM643.4,106.5h3.1v3.1h-3.1zM646.0,106.5h3.1v3.1h-3.1zM648.6,106.5h3.1v3.1h-3.1zM651.2,106.5h3.1v3.1h-3.1zM653.8,106.5h3.1v3.1h-3.1zM656.4,106.5h3.1v3.1h-3.1zM659.0,106.5h3.1v3.1h-3.1zM661.6,106.5h3.1v3.1h-3.1zM663.0,106.5h3.1v3.1h-3.1zM535.7,128.0h3.1v3.1h-3.1z" fill="#fff" stroke="#5aafe3" stroke-width="0.9"/>
<polyline points="530.50,138.90 532.98,138.90 535.45,138.90 537.92,138.90 540.40,138.90 542.88,138.90 545.35,138.90 547.83,138.90 550.30,138.90 552.77,138.90 555.25,138.90 557.73,138.90 560.20,138.90 562.67,138.90 565.15,138.90 567.62,138.90 570.10,138.90 572.58,138.90 575.05,138.90 577.52,138.90 580.00,138.90 582.70,137.70 589.70,134.20 596.80,131.20 603.80,127.20 610.80,123.70 617.80,119.50 623.60,116.70 629.50,114.40" stroke="#f3c080" stroke-width="0.8" fill="none" stroke-linejoin="round" />
<path d="M530.5,136.7L532.6,140.4L528.4,140.4zM532.3,136.7L534.4,140.4L530.3,140.4zM534.2,136.7L536.2,140.4L532.1,140.4zM536.0,136.7L538.1,140.4L533.9,140.4zM537.8,136.7L539.9,140.4L535.8,140.4zM539.7,136.7L541.7,140.4L537.6,140.4zM541.5,136.7L543.6,140.4L539.4,140.4zM543.3,136.7L545.4,140.4L541.3,140.4zM545.2,136.7L547.2,140.4L543.1,140.4zM547.0,136.7L549.1,140.4L544.9,140.4zM548.8,136.7L550.9,140.4L546.8,140.4zM550.7,136.7L552.7,140.4L548.6,140.4zM552.5,136.7L554.6,140.4L550.4,140.4zM554.3,136.7L556.4,140.4L552.3,140.4zM556.2,136.7L558.2,140.4L554.1,140.4zM558.0,136.7L560.1,140.4L555.9,140.4zM559.8,136.7L561.9,140.4L557.8,140.4zM561.7,136.7L563.7,140.4L559.6,140.4zM563.5,136.7L565.6,140.4L561.4,140.4zM565.3,136.7L567.4,140.4L563.3,140.4zM567.2,136.7L569.2,140.4L565.1,140.4zM569.0,136.7L571.1,140.4L566.9,140.4zM570.8,136.7L572.9,140.4L568.8,140.4zM572.7,136.7L574.7,140.4L570.6,140.4zM574.5,136.7L576.6,140.4L572.4,140.4zM576.3,136.7L578.4,140.4L574.3,140.4zM578.2,136.7L580.2,140.4L576.1,140.4zM580.0,136.7L582.1,140.4L577.9,140.4zM583.0,135.4L585.1,139.1L580.9,139.1zM586.0,133.9L588.1,137.6L583.9,137.6zM589.0,132.4L591.1,136.1L586.9,136.1zM592.0,131.0L594.1,134.8L589.9,134.8zM595.0,129.8L597.1,133.5L592.9,133.5zM598.0,128.3L600.1,132.0L595.9,132.0zM601.0,126.6L603.1,130.3L598.9,130.3zM604.0,124.9L606.1,128.6L601.9,128.6zM607.0,123.4L609.1,127.1L604.9,127.1zM610.0,121.9L612.1,125.6L607.9,125.6zM613.0,120.2L615.1,123.9L610.9,123.9zM616.0,118.4L618.1,122.1L613.9,122.1zM619.0,116.7L621.1,120.5L616.9,120.5zM622.0,115.3L624.1,119.0L619.9,119.0zM625.0,114.0L627.1,117.7L622.9,117.7zM628.0,112.8L630.1,116.5L625.9,116.5zM629.5,112.2L631.6,115.9L627.4,115.9z" fill="#fff" stroke="#f0a040" stroke-width="0.9"/>
<polyline points="530.50,138.90 532.98,138.90 535.45,138.90 537.92,138.90 540.40,138.90 542.88,138.90 545.35,138.90 547.83,138.90 550.30,138.90 552.77,138.90 555.25,138.90 557.73,138.90 560.20,138.90 562.67,138.90 565.15,138.90 567.62,138.90 570.10,138.90 572.58,138.90 575.05,138.90 577.52,138.90 580.00,138.90 582.70,138.60 589.70,136.60 596.80,134.20 603.80,132.60 610.80,131.20 617.80,129.60 622.50,127.90" stroke="#ee8a90" stroke-width="0.8" fill="none" stroke-linejoin="round" />
<path d="M528.7,138.9a1.84,1.84 0 1,0 3.68,0a1.84,1.84 0 1,0 -3.68,0M530.5,138.9a1.84,1.84 0 1,0 3.68,0a1.84,1.84 0 1,0 -3.68,0M532.3,138.9a1.84,1.84 0 1,0 3.68,0a1.84,1.84 0 1,0 -3.68,0M534.2,138.9a1.84,1.84 0 1,0 3.68,0a1.84,1.84 0 1,0 -3.68,0M536.0,138.9a1.84,1.84 0 1,0 3.68,0a1.84,1.84 0 1,0 -3.68,0M537.8,138.9a1.84,1.84 0 1,0 3.68,0a1.84,1.84 0 1,0 -3.68,0M539.7,138.9a1.84,1.84 0 1,0 3.68,0a1.84,1.84 0 1,0 -3.68,0M541.5,138.9a1.84,1.84 0 1,0 3.68,0a1.84,1.84 0 1,0 -3.68,0M543.3,138.9a1.84,1.84 0 1,0 3.68,0a1.84,1.84 0 1,0 -3.68,0M545.2,138.9a1.84,1.84 0 1,0 3.68,0a1.84,1.84 0 1,0 -3.68,0M547.0,138.9a1.84,1.84 0 1,0 3.68,0a1.84,1.84 0 1,0 -3.68,0M548.8,138.9a1.84,1.84 0 1,0 3.68,0a1.84,1.84 0 1,0 -3.68,0M550.7,138.9a1.84,1.84 0 1,0 3.68,0a1.84,1.84 0 1,0 -3.68,0M552.5,138.9a1.84,1.84 0 1,0 3.68,0a1.84,1.84 0 1,0 -3.68,0M554.3,138.9a1.84,1.84 0 1,0 3.68,0a1.84,1.84 0 1,0 -3.68,0M556.2,138.9a1.84,1.84 0 1,0 3.68,0a1.84,1.84 0 1,0 -3.68,0M558.0,138.9a1.84,1.84 0 1,0 3.68,0a1.84,1.84 0 1,0 -3.68,0M559.8,138.9a1.84,1.84 0 1,0 3.68,0a1.84,1.84 0 1,0 -3.68,0M561.7,138.9a1.84,1.84 0 1,0 3.68,0a1.84,1.84 0 1,0 -3.68,0M563.5,138.9a1.84,1.84 0 1,0 3.68,0a1.84,1.84 0 1,0 -3.68,0M565.3,138.9a1.84,1.84 0 1,0 3.68,0a1.84,1.84 0 1,0 -3.68,0M567.2,138.9a1.84,1.84 0 1,0 3.68,0a1.84,1.84 0 1,0 -3.68,0M569.0,138.9a1.84,1.84 0 1,0 3.68,0a1.84,1.84 0 1,0 -3.68,0M570.8,138.9a1.84,1.84 0 1,0 3.68,0a1.84,1.84 0 1,0 -3.68,0M572.7,138.9a1.84,1.84 0 1,0 3.68,0a1.84,1.84 0 1,0 -3.68,0M574.5,138.9a1.84,1.84 0 1,0 3.68,0a1.84,1.84 0 1,0 -3.68,0M576.3,138.9a1.84,1.84 0 1,0 3.68,0a1.84,1.84 0 1,0 -3.68,0M578.2,138.9a1.84,1.84 0 1,0 3.68,0a1.84,1.84 0 1,0 -3.68,0M581.2,138.5a1.84,1.84 0 1,0 3.68,0a1.84,1.84 0 1,0 -3.68,0M584.2,137.7a1.84,1.84 0 1,0 3.68,0a1.84,1.84 0 1,0 -3.68,0M587.2,136.8a1.84,1.84 0 1,0 3.68,0a1.84,1.84 0 1,0 -3.68,0M590.2,135.8a1.84,1.84 0 1,0 3.68,0a1.84,1.84 0 1,0 -3.68,0M593.2,134.8a1.84,1.84 0 1,0 3.68,0a1.84,1.84 0 1,0 -3.68,0M596.2,133.9a1.84,1.84 0 1,0 3.68,0a1.84,1.84 0 1,0 -3.68,0M599.2,133.2a1.84,1.84 0 1,0 3.68,0a1.84,1.84 0 1,0 -3.68,0M602.2,132.6a1.84,1.84 0 1,0 3.68,0a1.84,1.84 0 1,0 -3.68,0M605.2,132.0a1.84,1.84 0 1,0 3.68,0a1.84,1.84 0 1,0 -3.68,0M608.2,131.4a1.84,1.84 0 1,0 3.68,0a1.84,1.84 0 1,0 -3.68,0M611.2,130.7a1.84,1.84 0 1,0 3.68,0a1.84,1.84 0 1,0 -3.68,0M614.2,130.0a1.84,1.84 0 1,0 3.68,0a1.84,1.84 0 1,0 -3.68,0M617.2,129.2a1.84,1.84 0 1,0 3.68,0a1.84,1.84 0 1,0 -3.68,0M620.2,128.1a1.84,1.84 0 1,0 3.68,0a1.84,1.84 0 1,0 -3.68,0M620.7,127.9a1.84,1.84 0 1,0 3.68,0a1.84,1.84 0 1,0 -3.68,0" fill="#fff" stroke="#ef5660" stroke-width="0.9"/>
<text x="37.6" y="12.8" font-size="7.6" font-weight="bold" fill="#111">NO<tspan font-size="5" dy="1.6">2</tspan><tspan dy="-1.6">/Air ads.</tspan></text>
<text x="37.6" y="25.4" font-size="7.6" font-weight="bold" fill="#111">NO<tspan font-size="5" dy="1.6">2</tspan><tspan dy="-1.6"> breakthrough curve</tspan></text>
<line x1="37.20" y1="35.20" x2="59.20" y2="35.20" stroke="#9fd0f0" stroke-width="1.7" />
<rect x="46.15" y="33.15" width="4.10" height="4.10" fill="#5aafe3" stroke="#5aafe3" stroke-width="0.9"/>
<text x="61.10" y="37.90" font-size="8" font-weight="bold" fill="#111" text-anchor="start" textLength="33.42" lengthAdjust="spacingAndGlyphs" >Na-LTA-6</text>
<line x1="37.20" y1="45.90" x2="59.20" y2="45.90" stroke="#ee8a90" stroke-width="1.7" />
<circle cx="48.20" cy="45.90" r="2.15" fill="#ef5660" stroke="#ef5660" stroke-width="0.9"/>
<text x="61.10" y="48.60" font-size="8" font-weight="bold" fill="#111" text-anchor="start" textLength="33.42" lengthAdjust="spacingAndGlyphs" >Ca-LTA-6</text>
<line x1="37.20" y1="56.60" x2="59.20" y2="56.60" stroke="#f3c080" stroke-width="1.7" />
<polygon points="48.20,54.04 50.63,58.39 45.77,58.39" fill="#f0a040" stroke="#f0a040" stroke-width="0.9"/>
<text x="61.10" y="59.30" font-size="8" font-weight="bold" fill="#111" text-anchor="start" textLength="34.67" lengthAdjust="spacingAndGlyphs" >Mn-LTA-6</text>
<text x="37.60" y="85.20" font-size="7.7" font-weight="bold" fill="#111" text-anchor="start" >NO release curve</text>
<line x1="37.20" y1="93.00" x2="59.20" y2="93.00" stroke="#9fd0f0" stroke-width="1.7" />
<rect x="46.25" y="91.05" width="3.90" height="3.90" fill="#fff" stroke="#5aafe3" stroke-width="0.9"/>
<text x="61.10" y="95.70" font-size="8" font-weight="bold" fill="#111" text-anchor="start" textLength="33.42" lengthAdjust="spacingAndGlyphs" >Na-LTA-6</text>
<line x1="37.20" y1="103.70" x2="59.20" y2="103.70" stroke="#ee8a90" stroke-width="1.7" />
<circle cx="48.20" cy="103.70" r="2.05" fill="#fff" stroke="#ef5660" stroke-width="0.9"/>
<text x="61.10" y="106.40" font-size="8" font-weight="bold" fill="#111" text-anchor="start" textLength="33.42" lengthAdjust="spacingAndGlyphs" >Ca-LTA-6</text>
<line x1="37.20" y1="114.50" x2="59.20" y2="114.50" stroke="#f3c080" stroke-width="1.7" />
<polygon points="48.20,112.06 50.52,116.21 45.88,116.21" fill="#fff" stroke="#f0a040" stroke-width="0.9"/>
<text x="61.10" y="117.20" font-size="8" font-weight="bold" fill="#111" text-anchor="start" textLength="34.67" lengthAdjust="spacingAndGlyphs" >Mn-LTA-6</text>
<text x="209.0" y="12.8" font-size="7.6" font-weight="bold" fill="#111">NO<tspan font-size="5" dy="1.6">2</tspan><tspan dy="-1.6">/Air ads.</tspan></text>
<text x="209.0" y="25.4" font-size="7.6" font-weight="bold" fill="#111">NO<tspan font-size="5" dy="1.6">2</tspan><tspan dy="-1.6"> breakthrough curve</tspan></text>
<line x1="208.70" y1="35.20" x2="230.60" y2="35.20" stroke="#9fd0f0" stroke-width="1.7" />
<rect x="217.60" y="33.15" width="4.10" height="4.10" fill="#5aafe3" stroke="#5aafe3" stroke-width="0.9"/>
<text x="232.60" y="37.90" font-size="8" font-weight="bold" fill="#111" text-anchor="start" textLength="35.10" lengthAdjust="spacingAndGlyphs" >Na-CHA-6</text>
<line x1="208.70" y1="45.90" x2="230.60" y2="45.90" stroke="#ee8a90" stroke-width="1.7" />
<circle cx="219.65" cy="45.90" r="2.15" fill="#ef5660" stroke="#ef5660" stroke-width="0.9"/>
<text x="232.60" y="48.60" font-size="8" font-weight="bold" fill="#111" text-anchor="start" textLength="35.10" lengthAdjust="spacingAndGlyphs" >Ca-CHA-6</text>
<line x1="208.70" y1="56.60" x2="230.60" y2="56.60" stroke="#f3c080" stroke-width="1.7" />
<polygon points="219.65,54.04 222.08,58.39 217.22,58.39" fill="#f0a040" stroke="#f0a040" stroke-width="0.9"/>
<text x="232.60" y="59.30" font-size="8" font-weight="bold" fill="#111" text-anchor="start" textLength="36.34" lengthAdjust="spacingAndGlyphs" >Mn-CHA-6</text>
<text x="209.00" y="85.20" font-size="7.7" font-weight="bold" fill="#111" text-anchor="start" >NO release curve</text>
<line x1="208.70" y1="93.00" x2="230.60" y2="93.00" stroke="#9fd0f0" stroke-width="1.7" />
<rect x="217.70" y="91.05" width="3.90" height="3.90" fill="#fff" stroke="#5aafe3" stroke-width="0.9"/>
<text x="232.60" y="95.70" font-size="8" font-weight="bold" fill="#111" text-anchor="start" textLength="35.10" lengthAdjust="spacingAndGlyphs" >Na-CHA-6</text>
<line x1="208.70" y1="103.70" x2="230.60" y2="103.70" stroke="#ee8a90" stroke-width="1.7" />
<circle cx="219.65" cy="103.70" r="2.05" fill="#fff" stroke="#ef5660" stroke-width="0.9"/>
<text x="232.60" y="106.40" font-size="8" font-weight="bold" fill="#111" text-anchor="start" textLength="35.10" lengthAdjust="spacingAndGlyphs" >Ca-CHA-6</text>
<line x1="208.70" y1="114.50" x2="230.60" y2="114.50" stroke="#f3c080" stroke-width="1.7" />
<polygon points="219.65,112.06 221.97,116.21 217.33,116.21" fill="#fff" stroke="#f0a040" stroke-width="0.9"/>
<text x="232.60" y="117.20" font-size="8" font-weight="bold" fill="#111" text-anchor="start" textLength="36.34" lengthAdjust="spacingAndGlyphs" >Mn-CHA-6</text>
<text x="368.5" y="12.8" font-size="7.6" font-weight="bold" fill="#111">NO<tspan font-size="5" dy="1.6">2</tspan><tspan dy="-1.6">/Air ads.</tspan></text>
<text x="368.5" y="25.4" font-size="7.6" font-weight="bold" fill="#111">NO<tspan font-size="5" dy="1.6">2</tspan><tspan dy="-1.6"> breakthrough curve</tspan></text>
<line x1="368.50" y1="35.20" x2="390.00" y2="35.20" stroke="#9fd0f0" stroke-width="1.7" />
<rect x="377.20" y="33.15" width="4.10" height="4.10" fill="#5aafe3" stroke="#5aafe3" stroke-width="0.9"/>
<text x="392.40" y="37.90" font-size="8" font-weight="bold" fill="#111" text-anchor="start" textLength="36.35" lengthAdjust="spacingAndGlyphs" >Na-MOR-6</text>
<line x1="368.50" y1="45.90" x2="390.00" y2="45.90" stroke="#ee8a90" stroke-width="1.7" />
<circle cx="379.25" cy="45.90" r="2.15" fill="#ef5660" stroke="#ef5660" stroke-width="0.9"/>
<text x="392.40" y="48.60" font-size="8" font-weight="bold" fill="#111" text-anchor="start" textLength="36.35" lengthAdjust="spacingAndGlyphs" >Ca-MOR-6</text>
<line x1="368.50" y1="56.60" x2="390.00" y2="56.60" stroke="#f3c080" stroke-width="1.7" />
<polygon points="379.25,54.04 381.68,58.39 376.82,58.39" fill="#f0a040" stroke="#f0a040" stroke-width="0.9"/>
<text x="392.40" y="59.30" font-size="8" font-weight="bold" fill="#111" text-anchor="start" textLength="37.59" lengthAdjust="spacingAndGlyphs" >Mn-MOR-6</text>
<text x="368.50" y="85.20" font-size="7.7" font-weight="bold" fill="#111" text-anchor="start" >NO release curve</text>
<line x1="368.50" y1="93.00" x2="390.00" y2="93.00" stroke="#9fd0f0" stroke-width="1.7" />
<rect x="377.30" y="91.05" width="3.90" height="3.90" fill="#fff" stroke="#5aafe3" stroke-width="0.9"/>
<text x="392.40" y="95.70" font-size="8" font-weight="bold" fill="#111" text-anchor="start" textLength="36.35" lengthAdjust="spacingAndGlyphs" >Na-MOR-6</text>
<line x1="368.50" y1="103.70" x2="390.00" y2="103.70" stroke="#ee8a90" stroke-width="1.7" />
<circle cx="379.25" cy="103.70" r="2.05" fill="#fff" stroke="#ef5660" stroke-width="0.9"/>
<text x="392.40" y="106.40" font-size="8" font-weight="bold" fill="#111" text-anchor="start" textLength="36.35" lengthAdjust="spacingAndGlyphs" >Ca-MOR-6</text>
<line x1="368.50" y1="114.50" x2="390.00" y2="114.50" stroke="#f3c080" stroke-width="1.7" />
<polygon points="379.25,112.06 381.57,116.21 376.93,116.21" fill="#fff" stroke="#f0a040" stroke-width="0.9"/>
<text x="392.40" y="117.20" font-size="8" font-weight="bold" fill="#111" text-anchor="start" textLength="37.59" lengthAdjust="spacingAndGlyphs" >Mn-MOR-6</text>
<text x="526.7" y="12.8" font-size="7.6" font-weight="bold" fill="#111">NO<tspan font-size="5" dy="1.6">2</tspan><tspan dy="-1.6">/Air ads.</tspan></text>
<text x="526.7" y="25.4" font-size="7.6" font-weight="bold" fill="#111">NO<tspan font-size="5" dy="1.6">2</tspan><tspan dy="-1.6"> breakthrough curve</tspan></text>
<line x1="526.70" y1="35.20" x2="547.70" y2="35.20" stroke="#9fd0f0" stroke-width="1.7" />
<rect x="535.15" y="33.15" width="4.10" height="4.10" fill="#5aafe3" stroke="#5aafe3" stroke-width="0.9"/>
<text x="550.50" y="37.90" font-size="8" font-weight="bold" fill="#111" text-anchor="start" textLength="34.26" lengthAdjust="spacingAndGlyphs" >Na-FAU-6</text>
<line x1="526.70" y1="45.90" x2="547.70" y2="45.90" stroke="#ee8a90" stroke-width="1.7" />
<circle cx="537.20" cy="45.90" r="2.15" fill="#ef5660" stroke="#ef5660" stroke-width="0.9"/>
<text x="550.50" y="48.60" font-size="8" font-weight="bold" fill="#111" text-anchor="start" textLength="34.26" lengthAdjust="spacingAndGlyphs" >Ca-FAU-6</text>
<line x1="526.70" y1="56.60" x2="547.70" y2="56.60" stroke="#f3c080" stroke-width="1.7" />
<polygon points="537.20,54.04 539.63,58.39 534.77,58.39" fill="#f0a040" stroke="#f0a040" stroke-width="0.9"/>
<text x="550.50" y="59.30" font-size="8" font-weight="bold" fill="#111" text-anchor="start" textLength="35.50" lengthAdjust="spacingAndGlyphs" >Mn-FAU-6</text>
<text x="526.70" y="84.30" font-size="7.7" font-weight="bold" fill="#111" text-anchor="start" >NO release curve</text>
<line x1="526.70" y1="92.70" x2="547.70" y2="92.70" stroke="#9fd0f0" stroke-width="1.7" />
<rect x="535.25" y="90.75" width="3.90" height="3.90" fill="#fff" stroke="#5aafe3" stroke-width="0.9"/>
<text x="550.50" y="95.40" font-size="8" font-weight="bold" fill="#111" text-anchor="start" textLength="34.26" lengthAdjust="spacingAndGlyphs" >Na-FAU-6</text>
<line x1="526.70" y1="102.90" x2="547.70" y2="102.90" stroke="#ee8a90" stroke-width="1.7" />
<circle cx="537.20" cy="102.90" r="2.05" fill="#fff" stroke="#ef5660" stroke-width="0.9"/>
<text x="550.50" y="105.60" font-size="8" font-weight="bold" fill="#111" text-anchor="start" textLength="34.26" lengthAdjust="spacingAndGlyphs" >Ca-FAU-6</text>
<line x1="526.70" y1="113.30" x2="547.70" y2="113.30" stroke="#f3c080" stroke-width="1.7" />
<polygon points="537.20,110.86 539.52,115.01 534.88,115.01" fill="#fff" stroke="#f0a040" stroke-width="0.9"/>
<text x="550.50" y="116.00" font-size="8" font-weight="bold" fill="#111" text-anchor="start" textLength="35.50" lengthAdjust="spacingAndGlyphs" >Mn-FAU-6</text>
<line x1="131.30" y1="71.30" x2="131.30" y2="74.30" stroke="#e9318c" stroke-width="1.8" />
<polygon points="131.30,84.80 128.60,74.30 134.00,74.30" fill="#e9318c"/>
<line x1="131.30" y1="135.50" x2="131.30" y2="120.20" stroke="#e9318c" stroke-width="1.8" />
<polygon points="131.30,109.70 134.00,120.20 128.60,120.20" fill="#e9318c"/>
<line x1="304.40" y1="71.30" x2="304.40" y2="74.30" stroke="#e9318c" stroke-width="1.8" />
<polygon points="304.40,84.80 301.70,74.30 307.10,74.30" fill="#e9318c"/>
<line x1="304.40" y1="135.50" x2="304.40" y2="120.00" stroke="#e9318c" stroke-width="1.8" />
<polygon points="304.40,109.50 307.10,120.00 301.70,120.00" fill="#e9318c"/>
<line x1="457.40" y1="71.30" x2="457.40" y2="74.30" stroke="#e9318c" stroke-width="1.8" />
<polygon points="457.40,84.80 454.70,74.30 460.10,74.30" fill="#e9318c"/>
<line x1="457.40" y1="135.50" x2="457.40" y2="118.10" stroke="#e9318c" stroke-width="1.8" />
<polygon points="457.40,107.60 460.10,118.10 454.70,118.10" fill="#e9318c"/>
<text x="130.5" y="94.5" font-size="8.4" font-weight="bold" fill="#e9318c" text-anchor="middle" textLength="59" lengthAdjust="spacingAndGlyphs">"Zero-emission"</text>
<text x="131.4" y="105.2" font-size="8.4" font-weight="bold" fill="#e9318c" text-anchor="middle" textLength="45" lengthAdjust="spacingAndGlyphs">NO<tspan font-size="5.6" dy="1.9">2</tspan><tspan dy="-1.9"> capture</tspan></text>
<text x="303.9" y="94.2" font-size="8.4" font-weight="bold" fill="#e9318c" text-anchor="middle" textLength="59" lengthAdjust="spacingAndGlyphs">"Zero-emission"</text>
<text x="304.79999999999995" y="105.0" font-size="8.4" font-weight="bold" fill="#e9318c" text-anchor="middle" textLength="45" lengthAdjust="spacingAndGlyphs">NO<tspan font-size="5.6" dy="1.9">2</tspan><tspan dy="-1.9"> capture</tspan></text>
<text x="464.8" y="92.7" font-size="8.4" font-weight="bold" fill="#e9318c" text-anchor="middle" textLength="59" lengthAdjust="spacingAndGlyphs">"Zero-emission"</text>
<text x="465.7" y="103.7" font-size="8.4" font-weight="bold" fill="#e9318c" text-anchor="middle" textLength="45" lengthAdjust="spacingAndGlyphs">NO<tspan font-size="5.6" dy="1.9">2</tspan><tspan dy="-1.9"> capture</tspan></text>
<text x="626.1" y="93.1" font-size="8.4" font-weight="bold" fill="#e9318c" text-anchor="middle" textLength="59" lengthAdjust="spacingAndGlyphs">"Zero-emission"</text>
<text x="627.0" y="104.0" font-size="8.4" font-weight="bold" fill="#e9318c" text-anchor="middle" textLength="45" lengthAdjust="spacingAndGlyphs">NO<tspan font-size="5.6" dy="1.9">2</tspan><tspan dy="-1.9"> capture</tspan></text>
<line x1="588.60" y1="70.50" x2="597.51" y2="76.76" stroke="#e9318c" stroke-width="1.8" />
<polygon points="606.10,82.80 595.96,78.97 599.06,74.55" fill="#e9318c"/>
<line x1="583.90" y1="136.60" x2="598.51" y2="117.53" stroke="#e9318c" stroke-width="1.8" />
<polygon points="604.90,109.20 600.66,119.18 596.37,115.89" fill="#e9318c"/>
<rect x="33.50" y="1.5" width="159.40" height="144.70" fill="none" stroke="#000" stroke-width="1.3"/>
<line x1="33.50" y1="73.50" x2="192.90" y2="73.50" stroke="#000" stroke-width="1.3" />
<rect x="192.90" y="1.5" width="159.80" height="144.70" fill="none" stroke="#000" stroke-width="1.3"/>
<line x1="192.90" y1="73.50" x2="352.70" y2="73.50" stroke="#000" stroke-width="1.3" />
<rect x="352.70" y="1.5" width="159.90" height="144.70" fill="none" stroke="#000" stroke-width="1.3"/>
<line x1="352.70" y1="73.50" x2="512.60" y2="73.50" stroke="#000" stroke-width="1.3" />
<rect x="512.60" y="1.5" width="159.60" height="144.70" fill="none" stroke="#000" stroke-width="1.3"/>
<line x1="512.60" y1="73.50" x2="672.20" y2="73.50" stroke="#000" stroke-width="1.3" />
<defs><pattern id="hLTA" width="2.8" height="2.8" patternUnits="userSpaceOnUse" patternTransform="rotate(30)"><rect width="2.8" height="2.8" fill="#c8703c" fill-opacity="0.12"/><path d="M0,0.7H2.8M1.4,0V2.8" stroke="#c8703c" stroke-width="0.5" stroke-opacity="0.7"/></pattern><pattern id="hCHA" width="2.8" height="2.8" patternUnits="userSpaceOnUse" patternTransform="rotate(30)"><rect width="2.8" height="2.8" fill="#4c86a0" fill-opacity="0.12"/><path d="M0,0.7H2.8M1.4,0V2.8" stroke="#4c86a0" stroke-width="0.5" stroke-opacity="0.7"/></pattern><pattern id="hMOR" width="2.8" height="2.8" patternUnits="userSpaceOnUse" patternTransform="rotate(30)"><rect width="2.8" height="2.8" fill="#3f9a40" fill-opacity="0.12"/><path d="M0,0.7H2.8M1.4,0V2.8" stroke="#3f9a40" stroke-width="0.5" stroke-opacity="0.7"/></pattern><pattern id="hFAU" width="2.8" height="2.8" patternUnits="userSpaceOnUse" patternTransform="rotate(30)"><rect width="2.8" height="2.8" fill="#9a50c0" fill-opacity="0.12"/><path d="M0,0.7H2.8M1.4,0V2.8" stroke="#9a50c0" stroke-width="0.5" stroke-opacity="0.7"/></pattern></defs>
<path d="M121.9,39.8 117.4,44.3 111.1,44.3 106.6,39.8 106.6,33.5 111.1,29.1 117.4,29.1 121.9,33.5z" fill="#c8703c" fill-opacity="0.3" stroke="none"/>
<path d="M137.9,39.8 133.4,44.3 127.1,44.3 122.6,39.8 122.6,33.5 127.1,29.1 133.4,29.1 137.9,33.5z" fill="#c8703c" fill-opacity="0.3" stroke="none"/>
<path d="M121.9,55.6 117.4,60.0 111.1,60.0 106.6,55.6 106.6,49.3 111.1,44.8 117.4,44.8 121.9,49.3z" fill="#c8703c" fill-opacity="0.3" stroke="none"/>
<path d="M137.9,55.6 133.4,60.0 127.1,60.0 122.6,55.6 122.6,49.3 127.1,44.8 133.4,44.8 137.9,49.3z" fill="#c8703c" fill-opacity="0.3" stroke="none"/>
<path d="M119.4,31.8 125.1,31.8 125.1,37.5 119.4,37.5zM120.7,33.1 123.8,33.1 123.8,36.2 120.7,36.2zM119.4,51.6 125.1,51.6 125.1,57.3 119.4,57.3zM120.7,52.9 123.8,52.9 123.8,56.0 120.7,56.0zM109.4,41.7 115.1,41.7 115.1,47.4 109.4,47.4zM110.7,43.0 113.8,43.0 113.8,46.1 110.7,46.1zM129.4,41.7 135.1,41.7 135.1,47.4 129.4,47.4zM130.7,43.0 133.8,43.0 133.8,46.1 130.7,46.1z" fill="none" stroke="#c8703c" stroke-width="0.5"/>
<path d="M121.9,39.8 117.4,44.3 111.1,44.3 106.6,39.8 106.6,33.5 111.1,29.1 117.4,29.1 121.9,33.5zM117.6,39.9 110.9,39.9 110.9,33.4 117.6,33.4zM117.6,39.9 121.9,39.8M117.6,39.9 117.4,44.3M110.9,39.9 111.1,44.3M110.9,39.9 106.6,39.8M110.9,33.4 106.6,33.5M110.9,33.4 111.1,29.1M117.6,33.4 117.4,29.1M117.6,33.4 121.9,33.5M137.9,39.8 133.4,44.3 127.1,44.3 122.6,39.8 122.6,33.5 127.1,29.1 133.4,29.1 137.9,33.5zM133.6,39.9 126.9,39.9 126.9,33.4 133.6,33.4zM133.6,39.9 137.9,39.8M133.6,39.9 133.4,44.3M126.9,39.9 127.1,44.3M126.9,39.9 122.6,39.8M126.9,33.4 122.6,33.5M126.9,33.4 127.1,29.1M133.6,33.4 133.4,29.1M133.6,33.4 137.9,33.5M121.9,55.6 117.4,60.0 111.1,60.0 106.6,55.6 106.6,49.3 111.1,44.8 117.4,44.8 121.9,49.3zM117.6,55.7 110.9,55.7 110.9,49.2 117.6,49.2zM117.6,55.7 121.9,55.6M117.6,55.7 117.4,60.0M110.9,55.7 111.1,60.0M110.9,55.7 106.6,55.6M110.9,49.2 106.6,49.3M110.9,49.2 111.1,44.8M117.6,49.2 117.4,44.8M117.6,49.2 121.9,49.3M137.9,55.6 133.4,60.0 127.1,60.0 122.6,55.6 122.6,49.3 127.1,44.8 133.4,44.8 137.9,49.3zM133.6,55.7 126.9,55.7 126.9,49.2 133.6,49.2zM133.6,55.7 137.9,55.6M133.6,55.7 133.4,60.0M126.9,55.7 127.1,60.0M126.9,55.7 122.6,55.6M126.9,49.2 122.6,49.3M126.9,49.2 127.1,44.8M133.6,49.2 133.4,44.8M133.6,49.2 137.9,49.3" fill="none" stroke="#c8703c" stroke-width="0.75"/>
<path d="M120.4,39.2 116.8,42.7 111.7,42.7 108.1,39.2 108.1,34.1 111.7,30.6 116.8,30.6 120.4,34.1zM136.4,39.2 132.8,42.7 127.7,42.7 124.1,39.2 124.1,34.1 127.7,30.6 132.8,30.6 136.4,34.1zM120.4,55.0 116.8,58.5 111.7,58.5 108.1,55.0 108.1,49.9 111.7,46.4 116.8,46.4 120.4,49.9zM136.4,55.0 132.8,58.5 127.7,58.5 124.1,55.0 124.1,49.9 127.7,46.4 132.8,46.4 136.4,49.9z" fill="none" stroke="#c8703c" stroke-width="0.6000000000000001"/>
<polygon points="126.1,46.1 123.8,48.3 120.7,48.3 118.4,46.1 118.4,43.0 120.7,40.8 123.8,40.8 126.1,43.0" fill="#fff" stroke="#c8703c" stroke-width="0.88"/>
<path d="M293.1,38.1 290.2,41.6 286.2,41.6 283.3,38.1 283.3,33.2 286.2,29.7 290.2,29.7 293.1,33.2z" fill="#4c86a0" fill-opacity="0.3" stroke="none"/>
<path d="M293.1,51.6 290.2,55.1 286.2,55.1 283.3,51.6 283.3,46.7 286.2,43.2 290.2,43.2 293.1,46.7z" fill="#4c86a0" fill-opacity="0.3" stroke="none"/>
<path d="M300.1,43.6 297.2,47.0 293.2,47.0 290.3,43.6 290.3,38.6 293.2,35.2 297.2,35.2 300.1,38.6z" fill="#4c86a0" fill-opacity="0.3" stroke="none"/>
<path d="M300.1,56.7 297.2,60.2 293.2,60.2 290.3,56.7 290.3,51.8 293.2,48.3 297.2,48.3 300.1,51.8z" fill="#4c86a0" fill-opacity="0.3" stroke="none"/>
<path d="M293.1,38.1 290.2,41.6 286.2,41.6 283.3,38.1 283.3,33.2 286.2,29.7 290.2,29.7 293.1,33.2zM290.3,38.2 286.1,38.2 286.1,33.1 290.3,33.1zM290.3,38.2 293.1,38.1M290.3,38.2 290.2,41.6M286.1,38.2 286.2,41.6M286.1,38.2 283.3,38.1M286.1,33.1 283.3,33.2M286.1,33.1 286.2,29.7M290.3,33.1 290.2,29.7M290.3,33.1 293.1,33.2M293.1,51.6 290.2,55.1 286.2,55.1 283.3,51.6 283.3,46.7 286.2,43.2 290.2,43.2 293.1,46.7zM290.3,51.7 286.1,51.7 286.1,46.6 290.3,46.6zM290.3,51.7 293.1,51.6M290.3,51.7 290.2,55.1M286.1,51.7 286.2,55.1M286.1,51.7 283.3,51.6M286.1,46.6 283.3,46.7M286.1,46.6 286.2,43.2M290.3,46.6 290.2,43.2M290.3,46.6 293.1,46.7M300.1,43.6 297.2,47.0 293.2,47.0 290.3,43.6 290.3,38.6 293.2,35.2 297.2,35.2 300.1,38.6zM297.3,43.7 293.1,43.7 293.1,38.5 297.3,38.5zM297.3,43.7 300.1,43.6M297.3,43.7 297.2,47.0M293.1,43.7 293.2,47.0M293.1,43.7 290.3,43.6M293.1,38.5 290.3,38.6M293.1,38.5 293.2,35.2M297.3,38.5 297.2,35.2M297.3,38.5 300.1,38.6M300.1,56.7 297.2,60.2 293.2,60.2 290.3,56.7 290.3,51.8 293.2,48.3 297.2,48.3 300.1,51.8zM297.3,56.8 293.1,56.8 293.1,51.7 297.3,51.7zM297.3,56.8 300.1,56.7M297.3,56.8 297.2,60.2M293.1,56.8 293.2,60.2M293.1,56.8 290.3,56.7M293.1,51.7 290.3,51.8M293.1,51.7 293.2,48.3M297.3,51.7 297.2,48.3M297.3,51.7 300.1,51.8" fill="none" stroke="#4c86a0" stroke-width="0.75"/>
<path d="M292.1,37.6 289.8,40.4 286.6,40.4 284.3,37.6 284.3,33.7 286.6,30.9 289.8,30.9 292.1,33.7zM292.1,51.1 289.8,53.9 286.6,53.9 284.3,51.1 284.3,47.2 286.6,44.4 289.8,44.4 292.1,47.2zM299.1,43.1 296.8,45.8 293.6,45.8 291.3,43.1 291.3,39.1 293.6,36.4 296.8,36.4 299.1,39.1zM299.1,56.2 296.8,59.0 293.6,59.0 291.3,56.2 291.3,52.3 293.6,49.5 296.8,49.5 299.1,52.3z" fill="none" stroke="#4c86a0" stroke-width="0.6000000000000001"/>
<path d="M284.3,56.8 292.1,56.8 292.1,60.0 284.3,60.0zM284.3,58.4 292.1,58.4M291.3,29.9 299.1,29.9 299.1,33.1 291.3,33.1zM291.3,31.5 299.1,31.5" fill="none" stroke="#4c86a0" stroke-width="0.55"/>
<path d="M438.7,30.5Q455.0,34.0 471.4,30.5Q468.1,44.8 471.4,59.1Q455.0,56.2 438.7,59.1Q442.0,44.8 438.7,30.5z" fill="url(#hMOR)" stroke="#3f9a40" stroke-width="0.9"/>
<path d="M443.9,38.8a4.8,6.4 0 1,0 9.6,0a4.8,6.4 0 1,0 -9.6,0M457.1,39.7a3.7,4.8 0 1,0 7.4,0a3.7,4.8 0 1,0 -7.4,0M445.7,50.7a3.4,4.3 0 1,0 6.7,0a3.4,4.3 0 1,0 -6.7,0M455.1,51.0a5.4,6.2 0 1,0 10.7,0a5.4,6.2 0 1,0 -10.7,0" fill="none" stroke="#3f9a40" stroke-width="1.3"/>
<path d="M444.9,38.8a3.8,5.4 0 1,0 7.6,0a3.8,5.4 0 1,0 -7.6,0M458.1,39.7a2.7,3.8 0 1,0 5.4,0a2.7,3.8 0 1,0 -5.4,0M446.7,50.7a2.4,3.3 0 1,0 4.7,0a2.4,3.3 0 1,0 -4.7,0M456.1,51.0a4.4,5.2 0 1,0 8.7,0a4.4,5.2 0 1,0 -8.7,0" fill="#fff" stroke="#3f9a40" stroke-width="0.6"/>
<path d="M441.4,33.7a0.9,1.0 0 1,0 1.8,0a0.9,1.0 0 1,0 -1.8,0M454.1,32.7a0.9,1.0 0 1,0 1.8,0a0.9,1.0 0 1,0 -1.8,0M466.8,33.7a0.9,1.0 0 1,0 1.8,0a0.9,1.0 0 1,0 -1.8,0M441.4,44.8a0.9,1.0 0 1,0 1.8,0a0.9,1.0 0 1,0 -1.8,0M454.1,44.8a0.9,1.0 0 1,0 1.8,0a0.9,1.0 0 1,0 -1.8,0M466.8,44.8a0.9,1.0 0 1,0 1.8,0a0.9,1.0 0 1,0 -1.8,0M441.4,55.9a0.9,1.0 0 1,0 1.8,0a0.9,1.0 0 1,0 -1.8,0M454.1,56.9a0.9,1.0 0 1,0 1.8,0a0.9,1.0 0 1,0 -1.8,0M466.8,55.9a0.9,1.0 0 1,0 1.8,0a0.9,1.0 0 1,0 -1.8,0" fill="#fff" stroke="#3f9a40" stroke-width="0.4"/>
<path d="M646.2,32.2 643.2,35.2 639.1,35.2 636.1,32.2 636.1,28.0 639.1,25.0 643.2,25.0 646.2,28.0z" fill="#9a50c0" fill-opacity="0.3" stroke="none"/>
<path d="M637.3,36.2 634.4,39.2 630.2,39.2 627.3,36.2 627.3,32.0 630.2,29.0 634.4,29.0 637.3,32.0z" fill="#9a50c0" fill-opacity="0.3" stroke="none"/>
<path d="M655.0,36.8 652.1,39.8 647.9,39.8 645.0,36.8 645.0,32.6 647.9,29.6 652.1,29.6 655.0,32.6z" fill="#9a50c0" fill-opacity="0.3" stroke="none"/>
<path d="M645.3,41.1 642.4,44.1 638.2,44.1 635.2,41.1 635.2,36.9 638.2,33.9 642.4,33.9 645.3,36.9z" fill="#9a50c0" fill-opacity="0.3" stroke="none"/>
<path d="M637.3,47.5 634.4,50.5 630.2,50.5 627.3,47.5 627.3,43.3 630.2,40.3 634.4,40.3 637.3,43.3z" fill="#9a50c0" fill-opacity="0.3" stroke="none"/>
<path d="M655.0,47.5 652.1,50.5 647.9,50.5 645.0,47.5 645.0,43.3 647.9,40.3 652.1,40.3 655.0,43.3z" fill="#9a50c0" fill-opacity="0.3" stroke="none"/>
<path d="M645.3,51.8 642.4,54.8 638.2,54.8 635.2,51.8 635.2,47.6 638.2,44.6 642.4,44.6 645.3,47.6z" fill="#9a50c0" fill-opacity="0.3" stroke="none"/>
<path d="M646.2,32.2 643.2,35.2 639.1,35.2 636.1,32.2 636.1,28.0 639.1,25.0 643.2,25.0 646.2,28.0zM643.3,32.3 639.0,32.3 639.0,27.9 643.3,27.9zM643.3,32.3 646.2,32.2M643.3,32.3 643.2,35.2M639.0,32.3 639.1,35.2M639.0,32.3 636.1,32.2M639.0,27.9 636.1,28.0M639.0,27.9 639.1,25.0M643.3,27.9 643.2,25.0M643.3,27.9 646.2,28.0M637.3,36.2 634.4,39.2 630.2,39.2 627.3,36.2 627.3,32.0 630.2,29.0 634.4,29.0 637.3,32.0zM634.5,36.3 630.1,36.3 630.1,31.9 634.5,31.9zM634.5,36.3 637.3,36.2M634.5,36.3 634.4,39.2M630.1,36.3 630.2,39.2M630.1,36.3 627.3,36.2M630.1,31.9 627.3,32.0M630.1,31.9 630.2,29.0M634.5,31.9 634.4,29.0M634.5,31.9 637.3,32.0M655.0,36.8 652.1,39.8 647.9,39.8 645.0,36.8 645.0,32.6 647.9,29.6 652.1,29.6 655.0,32.6zM652.2,36.9 647.8,36.9 647.8,32.5 652.2,32.5zM652.2,36.9 655.0,36.8M652.2,36.9 652.1,39.8M647.8,36.9 647.9,39.8M647.8,36.9 645.0,36.8M647.8,32.5 645.0,32.6M647.8,32.5 647.9,29.6M652.2,32.5 652.1,29.6M652.2,32.5 655.0,32.6M645.3,41.1 642.4,44.1 638.2,44.1 635.2,41.1 635.2,36.9 638.2,33.9 642.4,33.9 645.3,36.9zM642.4,41.2 638.1,41.2 638.1,36.8 642.4,36.8zM642.4,41.2 645.3,41.1M642.4,41.2 642.4,44.1M638.1,41.2 638.2,44.1M638.1,41.2 635.2,41.1M638.1,36.8 635.2,36.9M638.1,36.8 638.2,33.9M642.4,36.8 642.4,33.9M642.4,36.8 645.3,36.9M637.3,47.5 634.4,50.5 630.2,50.5 627.3,47.5 627.3,43.3 630.2,40.3 634.4,40.3 637.3,43.3zM634.5,47.6 630.1,47.6 630.1,43.2 634.5,43.2zM634.5,47.6 637.3,47.5M634.5,47.6 634.4,50.5M630.1,47.6 630.2,50.5M630.1,47.6 627.3,47.5M630.1,43.2 627.3,43.3M630.1,43.2 630.2,40.3M634.5,43.2 634.4,40.3M634.5,43.2 637.3,43.3M655.0,47.5 652.1,50.5 647.9,50.5 645.0,47.5 645.0,43.3 647.9,40.3 652.1,40.3 655.0,43.3zM652.2,47.6 647.8,47.6 647.8,43.2 652.2,43.2zM652.2,47.6 655.0,47.5M652.2,47.6 652.1,50.5M647.8,47.6 647.9,50.5M647.8,47.6 645.0,47.5M647.8,43.2 645.0,43.3M647.8,43.2 647.9,40.3M652.2,43.2 652.1,40.3M652.2,43.2 655.0,43.3M645.3,51.8 642.4,54.8 638.2,54.8 635.2,51.8 635.2,47.6 638.2,44.6 642.4,44.6 645.3,47.6zM642.4,51.9 638.1,51.9 638.1,47.5 642.4,47.5zM642.4,51.9 645.3,51.8M642.4,51.9 642.4,54.8M638.1,51.9 638.2,54.8M638.1,51.9 635.2,51.8M638.1,47.5 635.2,47.6M638.1,47.5 638.2,44.6M642.4,47.5 642.4,44.6M642.4,47.5 645.3,47.6" fill="none" stroke="#9a50c0" stroke-width="0.6875"/>
<path d="M645.2,31.8 642.8,34.2 639.5,34.2 637.1,31.8 637.1,28.4 639.5,26.0 642.8,26.0 645.2,28.4zM636.3,35.8 634.0,38.2 630.6,38.2 628.3,35.8 628.3,32.4 630.6,30.0 634.0,30.0 636.3,32.4zM654.0,36.4 651.7,38.8 648.3,38.8 646.0,36.4 646.0,33.0 648.3,30.6 651.7,30.6 654.0,33.0zM644.3,40.7 641.9,43.1 638.6,43.1 636.2,40.7 636.2,37.3 638.6,34.9 641.9,34.9 644.3,37.3zM636.3,47.1 634.0,49.5 630.6,49.5 628.3,47.1 628.3,43.7 630.6,41.3 634.0,41.3 636.3,43.7zM654.0,47.1 651.7,49.5 648.3,49.5 646.0,47.1 646.0,43.7 648.3,41.3 651.7,41.3 654.0,43.7zM644.3,51.4 641.9,53.8 638.6,53.8 636.2,51.4 636.2,48.0 638.6,45.6 641.9,45.6 644.3,48.0z" fill="none" stroke="#9a50c0" stroke-width="0.55"/>
<path d="M638.9,30.1a2.2,2.0 0 1,0 4.4,0a2.2,2.0 0 1,0 -4.4,0M630.1,34.1a2.2,2.0 0 1,0 4.4,0a2.2,2.0 0 1,0 -4.4,0M647.8,34.7a2.2,2.0 0 1,0 4.4,0a2.2,2.0 0 1,0 -4.4,0M638.1,39.0a2.2,2.0 0 1,0 4.4,0a2.2,2.0 0 1,0 -4.4,0M630.1,45.4a2.2,2.0 0 1,0 4.4,0a2.2,2.0 0 1,0 -4.4,0M647.8,45.4a2.2,2.0 0 1,0 4.4,0a2.2,2.0 0 1,0 -4.4,0M638.1,49.7a2.2,2.0 0 1,0 4.4,0a2.2,2.0 0 1,0 -4.4,0" fill="#fff" stroke="#9a50c0" stroke-width="0.35"/>
<rect x="2.2" y="184.7" width="223.9" height="347.2" rx="14" ry="14" fill="none" stroke="#2c4555" stroke-width="1.3" stroke-dasharray="5.2,3.4"/>
<rect x="230.1" y="184.7" width="224.5" height="347.2" rx="14" ry="14" fill="none" stroke="#2c4555" stroke-width="1.3" stroke-dasharray="5.2,3.4"/>
<rect x="460.1" y="184.7" width="222.9" height="347.2" rx="14" ry="14" fill="none" stroke="#2c4555" stroke-width="1.3" stroke-dasharray="5.2,3.4"/>
<text x="32.00" y="204.90" font-size="18.5" font-weight="bold" fill="#000" text-anchor="start" >b</text>
<rect x="43.50" y="294.00" width="20.6" height="49.40" fill="#92c9ea"/>
<rect x="84.50" y="308.90" width="20.6" height="34.50" fill="#92c9ea"/>
<rect x="125.40" y="311.60" width="20.6" height="31.80" fill="#92c9ea"/>
<rect x="166.60" y="265.00" width="20.6" height="78.40" fill="#92c9ea"/>
<path d="M54.1,268.6 49.0,273.4 41.7,273.4 36.5,268.6 36.5,261.8 41.7,257.0 49.0,257.0 54.1,261.8z" fill="#c8703c" fill-opacity="0.2" stroke="none"/>
<path d="M72.4,268.6 67.2,273.4 59.9,273.4 54.8,268.6 54.8,261.8 59.9,257.0 67.2,257.0 72.4,261.8z" fill="#c8703c" fill-opacity="0.2" stroke="none"/>
<path d="M54.1,285.6 49.0,290.4 41.7,290.4 36.5,285.6 36.5,278.8 41.7,274.0 49.0,274.0 54.1,278.8z" fill="#c8703c" fill-opacity="0.2" stroke="none"/>
<path d="M72.4,285.6 67.2,290.4 59.9,290.4 54.8,285.6 54.8,278.8 59.9,274.0 67.2,274.0 72.4,278.8z" fill="#c8703c" fill-opacity="0.2" stroke="none"/>
<path d="M51.2,259.8 57.7,259.8 57.7,266.3 51.2,266.3zM52.7,261.3 56.2,261.3 56.2,264.9 52.7,264.9zM51.2,281.1 57.7,281.1 57.7,287.6 51.2,287.6zM52.7,282.5 56.2,282.5 56.2,286.1 52.7,286.1zM39.8,270.5 46.3,270.5 46.3,276.9 39.8,276.9zM41.2,271.9 44.8,271.9 44.8,275.5 41.2,275.5zM62.6,270.5 69.1,270.5 69.1,276.9 62.6,276.9zM64.1,271.9 67.7,271.9 67.7,275.5 64.1,275.5z" fill="none" stroke="#c8703c" stroke-width="0.5"/>
<path d="M54.1,268.6 49.0,273.4 41.7,273.4 36.5,268.6 36.5,261.8 41.7,257.0 49.0,257.0 54.1,261.8zM49.1,268.7 41.5,268.7 41.5,261.7 49.1,261.7zM49.1,268.7 54.1,268.6M49.1,268.7 49.0,273.4M41.5,268.7 41.7,273.4M41.5,268.7 36.5,268.6M41.5,261.7 36.5,261.8M41.5,261.7 41.7,257.0M49.1,261.7 49.0,257.0M49.1,261.7 54.1,261.8M72.4,268.6 67.2,273.4 59.9,273.4 54.8,268.6 54.8,261.8 59.9,257.0 67.2,257.0 72.4,261.8zM67.4,268.7 59.8,268.7 59.8,261.7 67.4,261.7zM67.4,268.7 72.4,268.6M67.4,268.7 67.2,273.4M59.8,268.7 59.9,273.4M59.8,268.7 54.8,268.6M59.8,261.7 54.8,261.8M59.8,261.7 59.9,257.0M67.4,261.7 67.2,257.0M67.4,261.7 72.4,261.8M54.1,285.6 49.0,290.4 41.7,290.4 36.5,285.6 36.5,278.8 41.7,274.0 49.0,274.0 54.1,278.8zM49.1,285.7 41.5,285.7 41.5,278.7 49.1,278.7zM49.1,285.7 54.1,285.6M49.1,285.7 49.0,290.4M41.5,285.7 41.7,290.4M41.5,285.7 36.5,285.6M41.5,278.7 36.5,278.8M41.5,278.7 41.7,274.0M49.1,278.7 49.0,274.0M49.1,278.7 54.1,278.8M72.4,285.6 67.2,290.4 59.9,290.4 54.8,285.6 54.8,278.8 59.9,274.0 67.2,274.0 72.4,278.8zM67.4,285.7 59.8,285.7 59.8,278.7 67.4,278.7zM67.4,285.7 72.4,285.6M67.4,285.7 67.2,290.4M59.8,285.7 59.9,290.4M59.8,285.7 54.8,285.6M59.8,278.7 54.8,278.8M59.8,278.7 59.9,274.0M67.4,278.7 67.2,274.0M67.4,278.7 72.4,278.8" fill="none" stroke="#c8703c" stroke-width="0.72"/>
<path d="M52.3,267.9 48.2,271.7 42.4,271.7 38.3,267.9 38.3,262.5 42.4,258.7 48.2,258.7 52.3,262.5zM70.6,267.9 66.5,271.7 60.7,271.7 56.6,267.9 56.6,262.5 60.7,258.7 66.5,258.7 70.6,262.5zM52.3,284.9 48.2,288.7 42.4,288.7 38.3,284.9 38.3,279.5 42.4,275.7 48.2,275.7 52.3,279.5zM70.6,284.9 66.5,288.7 60.7,288.7 56.6,284.9 56.6,279.5 60.7,275.7 66.5,275.7 70.6,279.5z" fill="none" stroke="#c8703c" stroke-width="0.576"/>
<polygon points="58.8,275.4 56.3,277.8 52.6,277.8 50.1,275.4 50.1,272.0 52.6,269.6 56.3,269.6 58.8,272.0" fill="#fff" stroke="#c8703c" stroke-width="0.84"/>
<path d="M95.6,278.6 92.0,282.8 86.8,282.8 83.1,278.6 83.1,272.8 86.8,268.7 92.0,268.7 95.6,272.8z" fill="#4c86a0" fill-opacity="0.2" stroke="none"/>
<path d="M95.6,294.7 92.0,298.8 86.8,298.8 83.1,294.7 83.1,288.8 86.8,284.7 92.0,284.7 95.6,288.8z" fill="#4c86a0" fill-opacity="0.2" stroke="none"/>
<path d="M104.7,285.1 101.0,289.3 95.8,289.3 92.2,285.1 92.2,279.3 95.8,275.2 101.0,275.2 104.7,279.3z" fill="#4c86a0" fill-opacity="0.2" stroke="none"/>
<path d="M104.7,300.8 101.0,304.9 95.8,304.9 92.2,300.8 92.2,295.0 95.8,290.8 101.0,290.8 104.7,295.0z" fill="#4c86a0" fill-opacity="0.2" stroke="none"/>
<path d="M95.6,278.6 92.0,282.8 86.8,282.8 83.1,278.6 83.1,272.8 86.8,268.7 92.0,268.7 95.6,272.8zM92.1,278.8 86.7,278.8 86.7,272.7 92.1,272.7zM92.1,278.8 95.6,278.6M92.1,278.8 92.0,282.8M86.7,278.8 86.8,282.8M86.7,278.8 83.1,278.6M86.7,272.7 83.1,272.8M86.7,272.7 86.8,268.7M92.1,272.7 92.0,268.7M92.1,272.7 95.6,272.8M95.6,294.7 92.0,298.8 86.8,298.8 83.1,294.7 83.1,288.8 86.8,284.7 92.0,284.7 95.6,288.8zM92.1,294.8 86.7,294.8 86.7,288.7 92.1,288.7zM92.1,294.8 95.6,294.7M92.1,294.8 92.0,298.8M86.7,294.8 86.8,298.8M86.7,294.8 83.1,294.7M86.7,288.7 83.1,288.8M86.7,288.7 86.8,284.7M92.1,288.7 92.0,284.7M92.1,288.7 95.6,288.8M104.7,285.1 101.0,289.3 95.8,289.3 92.2,285.1 92.2,279.3 95.8,275.2 101.0,275.2 104.7,279.3zM101.1,285.3 95.7,285.3 95.7,279.2 101.1,279.2zM101.1,285.3 104.7,285.1M101.1,285.3 101.0,289.3M95.7,285.3 95.8,289.3M95.7,285.3 92.2,285.1M95.7,279.2 92.2,279.3M95.7,279.2 95.8,275.2M101.1,279.2 101.0,275.2M101.1,279.2 104.7,279.3M104.7,300.8 101.0,304.9 95.8,304.9 92.2,300.8 92.2,295.0 95.8,290.8 101.0,290.8 104.7,295.0zM101.1,300.9 95.7,300.9 95.7,294.8 101.1,294.8zM101.1,300.9 104.7,300.8M101.1,300.9 101.0,304.9M95.7,300.9 95.8,304.9M95.7,300.9 92.2,300.8M95.7,294.8 92.2,295.0M95.7,294.8 95.8,290.8M101.1,294.8 101.0,290.8M101.1,294.8 104.7,295.0" fill="none" stroke="#4c86a0" stroke-width="0.72"/>
<path d="M94.4,278.1 91.5,281.4 87.3,281.4 84.4,278.1 84.4,273.4 87.3,270.1 91.5,270.1 94.4,273.4zM94.4,294.1 91.5,297.4 87.3,297.4 84.4,294.1 84.4,289.4 87.3,286.1 91.5,286.1 94.4,289.4zM103.4,284.6 100.5,287.9 96.3,287.9 93.4,284.6 93.4,279.9 96.3,276.6 100.5,276.6 103.4,279.9zM103.4,300.2 100.5,303.5 96.3,303.5 93.4,300.2 93.4,295.5 96.3,292.2 100.5,292.2 103.4,295.5z" fill="none" stroke="#4c86a0" stroke-width="0.576"/>
<path d="M84.4,300.9 94.4,300.9 94.4,304.8 84.4,304.8zM84.4,302.8 94.4,302.8M93.4,268.8 103.4,268.8 103.4,272.7 93.4,272.7zM93.4,270.8 103.4,270.8" fill="none" stroke="#4c86a0" stroke-width="0.55"/>
<path d="M116.8,275.3Q135.2,279.3 153.7,275.3Q150.0,291.7 153.7,308.1Q135.2,304.8 116.8,308.1Q120.5,291.7 116.8,275.3z" fill="url(#hMOR)" stroke="#3f9a40" stroke-width="0.9"/>
<path d="M122.7,284.8a5.3,7.2 0 1,0 10.6,0a5.3,7.2 0 1,0 -10.6,0M137.7,285.9a4.1,5.4 0 1,0 8.2,0a4.1,5.4 0 1,0 -8.2,0M124.8,298.4a3.7,4.8 0 1,0 7.3,0a3.7,4.8 0 1,0 -7.3,0M135.5,298.8a5.9,7.0 0 1,0 11.9,0a5.9,7.0 0 1,0 -11.9,0" fill="none" stroke="#3f9a40" stroke-width="1.3"/>
<path d="M123.7,284.8a4.3,6.2 0 1,0 8.6,0a4.3,6.2 0 1,0 -8.6,0M138.7,285.9a3.1,4.4 0 1,0 6.2,0a3.1,4.4 0 1,0 -6.2,0M125.8,298.4a2.7,3.8 0 1,0 5.3,0a2.7,3.8 0 1,0 -5.3,0M136.5,298.8a4.9,6.0 0 1,0 9.9,0a4.9,6.0 0 1,0 -9.9,0" fill="#fff" stroke="#3f9a40" stroke-width="0.6"/>
<path d="M119.8,279.0a1.0,1.1 0 1,0 2.1,0a1.0,1.1 0 1,0 -2.1,0M134.2,277.9a1.0,1.1 0 1,0 2.1,0a1.0,1.1 0 1,0 -2.1,0M148.6,279.0a1.0,1.1 0 1,0 2.1,0a1.0,1.1 0 1,0 -2.1,0M119.8,291.7a1.0,1.1 0 1,0 2.1,0a1.0,1.1 0 1,0 -2.1,0M134.2,291.7a1.0,1.1 0 1,0 2.1,0a1.0,1.1 0 1,0 -2.1,0M148.6,291.7a1.0,1.1 0 1,0 2.1,0a1.0,1.1 0 1,0 -2.1,0M119.8,304.4a1.0,1.1 0 1,0 2.1,0a1.0,1.1 0 1,0 -2.1,0M134.2,305.5a1.0,1.1 0 1,0 2.1,0a1.0,1.1 0 1,0 -2.1,0M148.6,304.4a1.0,1.1 0 1,0 2.1,0a1.0,1.1 0 1,0 -2.1,0" fill="#fff" stroke="#3f9a40" stroke-width="0.4"/>
<path d="M182.8,235.0 179.0,238.7 173.8,238.7 170.0,235.0 170.0,229.8 173.8,226.1 179.0,226.1 182.8,229.8z" fill="#9a50c0" fill-opacity="0.2" stroke="none"/>
<path d="M171.6,239.9 167.9,243.6 162.6,243.6 158.9,239.9 158.9,234.7 162.6,231.0 167.9,231.0 171.6,234.7z" fill="#9a50c0" fill-opacity="0.2" stroke="none"/>
<path d="M193.9,240.7 190.2,244.4 184.9,244.4 181.2,240.7 181.2,235.5 184.9,231.8 190.2,231.8 193.9,235.5z" fill="#9a50c0" fill-opacity="0.2" stroke="none"/>
<path d="M181.6,246.0 177.9,249.7 172.7,249.7 168.9,246.0 168.9,240.8 172.7,237.1 177.9,237.1 181.6,240.8z" fill="#9a50c0" fill-opacity="0.2" stroke="none"/>
<path d="M171.6,253.9 167.9,257.6 162.6,257.6 158.9,253.9 158.9,248.7 162.6,245.0 167.9,245.0 171.6,248.7z" fill="#9a50c0" fill-opacity="0.2" stroke="none"/>
<path d="M193.9,253.9 190.2,257.6 184.9,257.6 181.2,253.9 181.2,248.7 184.9,245.0 190.2,245.0 193.9,248.7z" fill="#9a50c0" fill-opacity="0.2" stroke="none"/>
<path d="M181.6,259.2 177.9,262.9 172.7,262.9 168.9,259.2 168.9,254.0 172.7,250.3 177.9,250.3 181.6,254.0z" fill="#9a50c0" fill-opacity="0.2" stroke="none"/>
<path d="M182.8,235.0 179.0,238.7 173.8,238.7 170.0,235.0 170.0,229.8 173.8,226.1 179.0,226.1 182.8,229.8zM179.2,235.1 173.6,235.1 173.6,229.7 179.2,229.7zM179.2,235.1 182.8,235.0M179.2,235.1 179.0,238.7M173.6,235.1 173.8,238.7M173.6,235.1 170.0,235.0M173.6,229.7 170.0,229.8M173.6,229.7 173.8,226.1M179.2,229.7 179.0,226.1M179.2,229.7 182.8,229.8M171.6,239.9 167.9,243.6 162.6,243.6 158.9,239.9 158.9,234.7 162.6,231.0 167.9,231.0 171.6,234.7zM168.0,240.0 162.5,240.0 162.5,234.6 168.0,234.6zM168.0,240.0 171.6,239.9M168.0,240.0 167.9,243.6M162.5,240.0 162.6,243.6M162.5,240.0 158.9,239.9M162.5,234.6 158.9,234.7M162.5,234.6 162.6,231.0M168.0,234.6 167.9,231.0M168.0,234.6 171.6,234.7M193.9,240.7 190.2,244.4 184.9,244.4 181.2,240.7 181.2,235.5 184.9,231.8 190.2,231.8 193.9,235.5zM190.3,240.8 184.8,240.8 184.8,235.4 190.3,235.4zM190.3,240.8 193.9,240.7M190.3,240.8 190.2,244.4M184.8,240.8 184.9,244.4M184.8,240.8 181.2,240.7M184.8,235.4 181.2,235.5M184.8,235.4 184.9,231.8M190.3,235.4 190.2,231.8M190.3,235.4 193.9,235.5M181.6,246.0 177.9,249.7 172.7,249.7 168.9,246.0 168.9,240.8 172.7,237.1 177.9,237.1 181.6,240.8zM178.0,246.1 172.5,246.1 172.5,240.6 178.0,240.6zM178.0,246.1 181.6,246.0M178.0,246.1 177.9,249.7M172.5,246.1 172.7,249.7M172.5,246.1 168.9,246.0M172.5,240.6 168.9,240.8M172.5,240.6 172.7,237.1M178.0,240.6 177.9,237.1M178.0,240.6 181.6,240.8M171.6,253.9 167.9,257.6 162.6,257.6 158.9,253.9 158.9,248.7 162.6,245.0 167.9,245.0 171.6,248.7zM168.0,254.0 162.5,254.0 162.5,248.6 168.0,248.6zM168.0,254.0 171.6,253.9M168.0,254.0 167.9,257.6M162.5,254.0 162.6,257.6M162.5,254.0 158.9,253.9M162.5,248.6 158.9,248.7M162.5,248.6 162.6,245.0M168.0,248.6 167.9,245.0M168.0,248.6 171.6,248.7M193.9,253.9 190.2,257.6 184.9,257.6 181.2,253.9 181.2,248.7 184.9,245.0 190.2,245.0 193.9,248.7zM190.3,254.0 184.8,254.0 184.8,248.6 190.3,248.6zM190.3,254.0 193.9,253.9M190.3,254.0 190.2,257.6M184.8,254.0 184.9,257.6M184.8,254.0 181.2,253.9M184.8,248.6 181.2,248.7M184.8,248.6 184.9,245.0M190.3,248.6 190.2,245.0M190.3,248.6 193.9,248.7M181.6,259.2 177.9,262.9 172.7,262.9 168.9,259.2 168.9,254.0 172.7,250.3 177.9,250.3 181.6,254.0zM178.0,259.3 172.5,259.3 172.5,253.9 178.0,253.9zM178.0,259.3 181.6,259.2M178.0,259.3 177.9,262.9M172.5,259.3 172.7,262.9M172.5,259.3 168.9,259.2M172.5,253.9 168.9,254.0M172.5,253.9 172.7,250.3M178.0,253.9 177.9,250.3M178.0,253.9 181.6,254.0" fill="none" stroke="#9a50c0" stroke-width="0.66"/>
<path d="M181.5,234.5 178.5,237.4 174.3,237.4 171.3,234.5 171.3,230.3 174.3,227.4 178.5,227.4 181.5,230.3zM170.3,239.4 167.3,242.3 163.1,242.3 160.2,239.4 160.2,235.2 163.1,232.3 167.3,232.3 170.3,235.2zM192.6,240.2 189.7,243.1 185.5,243.1 182.5,240.2 182.5,236.0 185.5,233.0 189.7,233.0 192.6,236.0zM180.4,245.4 177.4,248.4 173.2,248.4 170.2,245.4 170.2,241.3 173.2,238.3 177.4,238.3 180.4,241.3zM170.3,253.4 167.3,256.3 163.1,256.3 160.2,253.4 160.2,249.2 163.1,246.3 167.3,246.3 170.3,249.2zM192.6,253.4 189.7,256.3 185.5,256.3 182.5,253.4 182.5,249.2 185.5,246.3 189.7,246.3 192.6,249.2zM180.4,258.7 177.4,261.6 173.2,261.6 170.2,258.7 170.2,254.5 173.2,251.6 177.4,251.6 180.4,254.5z" fill="none" stroke="#9a50c0" stroke-width="0.528"/>
<path d="M173.6,232.4a2.8,2.5 0 1,0 5.6,0a2.8,2.5 0 1,0 -5.6,0M162.5,237.3a2.8,2.5 0 1,0 5.6,0a2.8,2.5 0 1,0 -5.6,0M184.8,238.1a2.8,2.5 0 1,0 5.6,0a2.8,2.5 0 1,0 -5.6,0M172.5,243.4a2.8,2.5 0 1,0 5.6,0a2.8,2.5 0 1,0 -5.6,0M162.5,251.3a2.8,2.5 0 1,0 5.6,0a2.8,2.5 0 1,0 -5.6,0M184.8,251.3a2.8,2.5 0 1,0 5.6,0a2.8,2.5 0 1,0 -5.6,0M172.5,256.6a2.8,2.5 0 1,0 5.6,0a2.8,2.5 0 1,0 -5.6,0" fill="#fff" stroke="#9a50c0" stroke-width="0.35"/>
<polygon points="53.80,311.30 54.71,313.15 56.75,313.44 55.27,314.88 55.62,316.91 53.80,315.95 51.98,316.91 52.33,314.88 50.85,313.44 52.89,313.15" fill="#bb5c2a" stroke="#bb5c2a" stroke-width="0.60" stroke-linejoin="round"/>
<ellipse cx="53.80" cy="314.60" rx="0.99" ry="0.68" fill="#fff" opacity="0.9"/>
<polygon points="94.80,323.70 95.71,325.55 97.75,325.84 96.27,327.28 96.62,329.31 94.80,328.35 92.98,329.31 93.33,327.28 91.85,325.84 93.89,325.55" fill="#bb5c2a" stroke="#bb5c2a" stroke-width="0.60" stroke-linejoin="round"/>
<ellipse cx="94.80" cy="327.00" rx="0.99" ry="0.68" fill="#fff" opacity="0.9"/>
<polygon points="135.60,317.90 136.51,319.75 138.55,320.04 137.07,321.48 137.42,323.51 135.60,322.55 133.78,323.51 134.13,321.48 132.65,320.04 134.69,319.75" fill="#bb5c2a" stroke="#bb5c2a" stroke-width="0.60" stroke-linejoin="round"/>
<ellipse cx="135.60" cy="321.20" rx="0.99" ry="0.68" fill="#fff" opacity="0.9"/>
<polygon points="176.70,264.60 177.61,266.45 179.65,266.74 178.17,268.18 178.52,270.21 176.70,269.25 174.88,270.21 175.23,268.18 173.75,266.74 175.79,266.45" fill="#bb5c2a" stroke="#bb5c2a" stroke-width="0.60" stroke-linejoin="round"/>
<ellipse cx="176.70" cy="267.90" rx="0.99" ry="0.68" fill="#fff" opacity="0.9"/>
<rect x="36.2" y="214.90" width="20.6" height="10" fill="#92c9ea"/>
<text x="58.50" y="222.90" font-size="7.9" font-weight="bold" fill="#111" textLength="120.9" lengthAdjust="spacingAndGlyphs">H<tspan font-size="5.2" dy="1.6">2</tspan><tspan dy="-1.6">O retained after 300 </tspan><tspan font-size="5.2" dy="-2.6">o</tspan><tspan dy="2.6">C activation</tspan></text>
<polygon points="46.90,228.00 47.78,229.79 49.75,230.07 48.33,231.46 48.66,233.43 46.90,232.50 45.14,233.43 45.47,231.46 44.05,230.07 46.02,229.79" fill="#bb5c2a" stroke="#bb5c2a" stroke-width="0.60" stroke-linejoin="round"/>
<ellipse cx="46.90" cy="231.20" rx="0.96" ry="0.66" fill="#fff" opacity="0.9"/>
<text x="58.50" y="233.50" font-size="7.9" font-weight="bold" fill="#111" textLength="86.1" lengthAdjust="spacingAndGlyphs">Released NO of NO<tspan font-size="5.2" dy="1.6">2</tspan><tspan dy="-1.6"> input</tspan></text>
<line x1="31.00" y1="343.40" x2="33.20" y2="343.40" stroke="#000" stroke-width="1" />
<text x="29.60" y="346.10" font-size="7.6" font-weight="bold" fill="#111" text-anchor="end" >0.0</text>
<line x1="31.00" y1="299.40" x2="33.20" y2="299.40" stroke="#000" stroke-width="1" />
<text x="29.60" y="302.10" font-size="7.6" font-weight="bold" fill="#111" text-anchor="end" >0.5</text>
<line x1="31.00" y1="255.40" x2="33.20" y2="255.40" stroke="#000" stroke-width="1" />
<text x="29.60" y="258.10" font-size="7.6" font-weight="bold" fill="#111" text-anchor="end" >1.0</text>
<line x1="31.00" y1="211.40" x2="33.20" y2="211.40" stroke="#000" stroke-width="1" />
<text x="29.60" y="214.10" font-size="7.6" font-weight="bold" fill="#111" text-anchor="end" >1.5</text>
<line x1="31.80" y1="321.40" x2="33.20" y2="321.40" stroke="#000" stroke-width="0.9" />
<line x1="31.80" y1="277.40" x2="33.20" y2="277.40" stroke="#000" stroke-width="0.9" />
<line x1="31.80" y1="233.40" x2="33.20" y2="233.40" stroke="#000" stroke-width="0.9" />
<line x1="196.80" y1="331.70" x2="199.00" y2="331.70" stroke="#bb5c2a" stroke-width="1" />
<text x="201.00" y="334.40" font-size="7.6" font-weight="bold" fill="#bb5c2a" text-anchor="start" >0</text>
<line x1="196.80" y1="304.25" x2="199.00" y2="304.25" stroke="#bb5c2a" stroke-width="1" />
<text x="201.00" y="306.95" font-size="7.6" font-weight="bold" fill="#bb5c2a" text-anchor="start" >5</text>
<line x1="196.80" y1="276.80" x2="199.00" y2="276.80" stroke="#bb5c2a" stroke-width="1" />
<text x="201.00" y="279.50" font-size="7.6" font-weight="bold" fill="#bb5c2a" text-anchor="start" >10</text>
<line x1="196.80" y1="249.35" x2="199.00" y2="249.35" stroke="#bb5c2a" stroke-width="1" />
<text x="201.00" y="252.05" font-size="7.6" font-weight="bold" fill="#bb5c2a" text-anchor="start" >15</text>
<line x1="196.80" y1="221.90" x2="199.00" y2="221.90" stroke="#bb5c2a" stroke-width="1" />
<text x="201.00" y="224.60" font-size="7.6" font-weight="bold" fill="#bb5c2a" text-anchor="start" >20</text>
<line x1="196.80" y1="317.97" x2="198.20" y2="317.97" stroke="#bb5c2a" stroke-width="0.9" />
<line x1="196.80" y1="290.52" x2="198.20" y2="290.52" stroke="#bb5c2a" stroke-width="0.9" />
<line x1="196.80" y1="263.07" x2="198.20" y2="263.07" stroke="#bb5c2a" stroke-width="0.9" />
<line x1="196.80" y1="235.62" x2="198.20" y2="235.62" stroke="#bb5c2a" stroke-width="0.9" />
<line x1="53.80" y1="343.40" x2="53.80" y2="345.40" stroke="#000" stroke-width="1" />
<line x1="94.80" y1="343.40" x2="94.80" y2="345.40" stroke="#000" stroke-width="1" />
<line x1="135.70" y1="343.40" x2="135.70" y2="345.40" stroke="#000" stroke-width="1" />
<line x1="176.90" y1="343.40" x2="176.90" y2="345.40" stroke="#000" stroke-width="1" />
<polyline points="196.8,211.3 33.2,211.3 33.2,343.4 196.8,343.4" fill="none" stroke="#000" stroke-width="1.3"/>
<line x1="196.80" y1="210.70" x2="196.80" y2="344.00" stroke="#bb5c2a" stroke-width="1.3" />
<text transform="translate(45.30,354.6) rotate(8.5)" font-size="8.2" font-weight="bold" fill="#111" textLength="34.2" lengthAdjust="spacingAndGlyphs">Na<tspan font-style="italic">-LTA-6</tspan></text>
<text transform="translate(85.10,354.6) rotate(8.5)" font-size="8.2" font-weight="bold" fill="#111" textLength="35.9" lengthAdjust="spacingAndGlyphs">Na<tspan font-style="italic">-CHA-6</tspan></text>
<text transform="translate(124.20,354.6) rotate(8.5)" font-size="8.2" font-weight="bold" fill="#111" textLength="38.9" lengthAdjust="spacingAndGlyphs">Na<tspan font-style="italic">-MOR-6</tspan></text>
<text transform="translate(167.30,354.6) rotate(8.5)" font-size="8.2" font-weight="bold" fill="#111" textLength="35.3" lengthAdjust="spacingAndGlyphs">Na<tspan font-style="italic">-FAU-6</tspan></text>
<text transform="translate(12.60,277.60) rotate(-90)" font-size="8.3" font-weight="bold" fill="#111" text-anchor="middle" textLength="168" lengthAdjust="spacingAndGlyphs">H<tspan font-size="5.4" dy="1.7">2</tspan><tspan dy="-1.7">O Retained after 300 </tspan><tspan font-size="5.4" dy="-2.7">o</tspan><tspan dy="2.7">C Activation (wt%)</tspan></text>
<text transform="translate(215.30,278.35) rotate(90)" font-size="8.3" font-weight="bold" fill="#bb5c2a" text-anchor="middle" textLength="115" lengthAdjust="spacingAndGlyphs">Released NO of NO<tspan font-size="5.4" dy="1.7">2</tspan><tspan dy="-1.7"> Input (%)</tspan></text>
<text x="262.00" y="204.90" font-size="18.5" font-weight="bold" fill="#000" text-anchor="start" textLength="8.80" lengthAdjust="spacingAndGlyphs" >c</text>
<rect x="273.00" y="313.90" width="20.6" height="29.30" fill="#e8888d"/>
<rect x="313.90" y="308.10" width="20.6" height="35.10" fill="#e8888d"/>
<rect x="354.50" y="274.50" width="20.6" height="68.70" fill="#e8888d"/>
<rect x="395.40" y="293.80" width="20.6" height="49.40" fill="#e8888d"/>
<path d="M282.1,287.0 277.2,291.7 270.2,291.7 265.4,287.0 265.4,280.3 270.2,275.6 277.2,275.6 282.1,280.3z" fill="#c8703c" fill-opacity="0.2" stroke="none"/>
<path d="M299.4,287.0 294.6,291.7 287.6,291.7 282.7,287.0 282.7,280.3 287.6,275.6 294.6,275.6 299.4,280.3z" fill="#c8703c" fill-opacity="0.2" stroke="none"/>
<path d="M282.1,303.8 277.2,308.5 270.2,308.5 265.4,303.8 265.4,297.1 270.2,292.4 277.2,292.4 282.1,297.1z" fill="#c8703c" fill-opacity="0.2" stroke="none"/>
<path d="M299.4,303.8 294.6,308.5 287.6,308.5 282.7,303.8 282.7,297.1 287.6,292.4 294.6,292.4 299.4,297.1z" fill="#c8703c" fill-opacity="0.2" stroke="none"/>
<path d="M279.3,278.5 285.5,278.5 285.5,284.7 279.3,284.7zM280.7,279.9 284.1,279.9 284.1,283.3 280.7,283.3zM279.3,299.4 285.5,299.4 285.5,305.6 279.3,305.6zM280.7,300.8 284.1,300.8 284.1,304.2 280.7,304.2zM268.5,289.0 274.6,289.0 274.6,295.1 268.5,295.1zM269.8,290.4 273.2,290.4 273.2,293.7 269.8,293.7zM290.2,289.0 296.3,289.0 296.3,295.1 290.2,295.1zM291.6,290.4 295.0,290.4 295.0,293.7 291.6,293.7z" fill="none" stroke="#c8703c" stroke-width="0.5"/>
<path d="M282.1,287.0 277.2,291.7 270.2,291.7 265.4,287.0 265.4,280.3 270.2,275.6 277.2,275.6 282.1,280.3zM277.3,287.2 270.1,287.2 270.1,280.2 277.3,280.2zM277.3,287.2 282.1,287.0M277.3,287.2 277.2,291.7M270.1,287.2 270.2,291.7M270.1,287.2 265.4,287.0M270.1,280.2 265.4,280.3M270.1,280.2 270.2,275.6M277.3,280.2 277.2,275.6M277.3,280.2 282.1,280.3M299.4,287.0 294.6,291.7 287.6,291.7 282.7,287.0 282.7,280.3 287.6,275.6 294.6,275.6 299.4,280.3zM294.7,287.2 287.5,287.2 287.5,280.2 294.7,280.2zM294.7,287.2 299.4,287.0M294.7,287.2 294.6,291.7M287.5,287.2 287.6,291.7M287.5,287.2 282.7,287.0M287.5,280.2 282.7,280.3M287.5,280.2 287.6,275.6M294.7,280.2 294.6,275.6M294.7,280.2 299.4,280.3M282.1,303.8 277.2,308.5 270.2,308.5 265.4,303.8 265.4,297.1 270.2,292.4 277.2,292.4 282.1,297.1zM277.3,303.9 270.1,303.9 270.1,296.9 277.3,296.9zM277.3,303.9 282.1,303.8M277.3,303.9 277.2,308.5M270.1,303.9 270.2,308.5M270.1,303.9 265.4,303.8M270.1,296.9 265.4,297.1M270.1,296.9 270.2,292.4M277.3,296.9 277.2,292.4M277.3,296.9 282.1,297.1M299.4,303.8 294.6,308.5 287.6,308.5 282.7,303.8 282.7,297.1 287.6,292.4 294.6,292.4 299.4,297.1zM294.7,303.9 287.5,303.9 287.5,296.9 294.7,296.9zM294.7,303.9 299.4,303.8M294.7,303.9 294.6,308.5M287.5,303.9 287.6,308.5M287.5,303.9 282.7,303.8M287.5,296.9 282.7,297.1M287.5,296.9 287.6,292.4M294.7,296.9 294.6,292.4M294.7,296.9 299.4,297.1" fill="none" stroke="#c8703c" stroke-width="0.72"/>
<path d="M280.4,286.3 276.5,290.1 270.9,290.1 267.0,286.3 267.0,281.0 270.9,277.2 276.5,277.2 280.4,281.0zM297.8,286.3 293.9,290.1 288.3,290.1 284.4,286.3 284.4,281.0 288.3,277.2 293.9,277.2 297.8,281.0zM280.4,303.1 276.5,306.9 270.9,306.9 267.0,303.1 267.0,297.8 270.9,294.0 276.5,294.0 280.4,297.8zM297.8,303.1 293.9,306.9 288.3,306.9 284.4,303.1 284.4,297.8 288.3,294.0 293.9,294.0 297.8,297.8z" fill="none" stroke="#c8703c" stroke-width="0.576"/>
<polygon points="286.6,293.7 284.1,296.1 280.7,296.1 278.2,293.7 278.2,290.4 280.7,288.0 284.1,288.0 286.6,290.4" fill="#fff" stroke="#c8703c" stroke-width="0.84"/>
<path d="M324.3,276.5 320.8,280.4 315.8,280.4 312.3,276.5 312.3,270.9 315.8,267.0 320.8,267.0 324.3,270.9z" fill="#4c86a0" fill-opacity="0.2" stroke="none"/>
<path d="M324.3,291.7 320.8,295.6 315.8,295.6 312.3,291.7 312.3,286.1 315.8,282.2 320.8,282.2 324.3,286.1z" fill="#4c86a0" fill-opacity="0.2" stroke="none"/>
<path d="M333.0,282.6 329.5,286.5 324.5,286.5 321.0,282.6 321.0,277.1 324.5,273.2 329.5,273.2 333.0,277.1z" fill="#4c86a0" fill-opacity="0.2" stroke="none"/>
<path d="M333.0,297.5 329.5,301.4 324.5,301.4 321.0,297.5 321.0,291.9 324.5,288.0 329.5,288.0 333.0,291.9z" fill="#4c86a0" fill-opacity="0.2" stroke="none"/>
<path d="M324.3,276.5 320.8,280.4 315.8,280.4 312.3,276.5 312.3,270.9 315.8,267.0 320.8,267.0 324.3,270.9zM320.9,276.6 315.7,276.6 315.7,270.8 320.9,270.8zM320.9,276.6 324.3,276.5M320.9,276.6 320.8,280.4M315.7,276.6 315.8,280.4M315.7,276.6 312.3,276.5M315.7,270.8 312.3,270.9M315.7,270.8 315.8,267.0M320.9,270.8 320.8,267.0M320.9,270.8 324.3,270.9M324.3,291.7 320.8,295.6 315.8,295.6 312.3,291.7 312.3,286.1 315.8,282.2 320.8,282.2 324.3,286.1zM320.9,291.8 315.7,291.8 315.7,286.0 320.9,286.0zM320.9,291.8 324.3,291.7M320.9,291.8 320.8,295.6M315.7,291.8 315.8,295.6M315.7,291.8 312.3,291.7M315.7,286.0 312.3,286.1M315.7,286.0 315.8,282.2M320.9,286.0 320.8,282.2M320.9,286.0 324.3,286.1M333.0,282.6 329.5,286.5 324.5,286.5 321.0,282.6 321.0,277.1 324.5,273.2 329.5,273.2 333.0,277.1zM329.6,282.8 324.4,282.8 324.4,277.0 329.6,277.0zM329.6,282.8 333.0,282.6M329.6,282.8 329.5,286.5M324.4,282.8 324.5,286.5M324.4,282.8 321.0,282.6M324.4,277.0 321.0,277.1M324.4,277.0 324.5,273.2M329.6,277.0 329.5,273.2M329.6,277.0 333.0,277.1M333.0,297.5 329.5,301.4 324.5,301.4 321.0,297.5 321.0,291.9 324.5,288.0 329.5,288.0 333.0,291.9zM329.6,297.6 324.4,297.6 324.4,291.8 329.6,291.8zM329.6,297.6 333.0,297.5M329.6,297.6 329.5,301.4M324.4,297.6 324.5,301.4M324.4,297.6 321.0,297.5M324.4,291.8 321.0,291.9M324.4,291.8 324.5,288.0M329.6,291.8 329.5,288.0M329.6,291.8 333.0,291.9" fill="none" stroke="#4c86a0" stroke-width="0.72"/>
<path d="M323.1,275.9 320.3,279.1 316.3,279.1 313.5,275.9 313.5,271.5 316.3,268.4 320.3,268.4 323.1,271.5zM323.1,291.1 320.3,294.3 316.3,294.3 313.5,291.1 313.5,286.7 316.3,283.6 320.3,283.6 323.1,286.7zM331.8,282.1 329.0,285.2 325.0,285.2 322.2,282.1 322.2,277.6 325.0,274.5 329.0,274.5 331.8,277.6zM331.8,296.9 329.0,300.0 325.0,300.0 322.2,296.9 322.2,292.5 325.0,289.3 329.0,289.3 331.8,292.5z" fill="none" stroke="#4c86a0" stroke-width="0.576"/>
<path d="M313.5,297.6 323.1,297.6 323.1,301.2 313.5,301.2zM313.5,299.4 323.1,299.4M322.2,267.2 331.8,267.2 331.8,270.8 322.2,270.8zM322.2,269.0 331.8,269.0" fill="none" stroke="#4c86a0" stroke-width="0.55"/>
<path d="M343.9,238.5Q362.4,242.6 380.8,238.5Q377.2,255.0 380.8,271.6Q362.4,268.3 343.9,271.6Q347.6,255.0 343.9,238.5z" fill="url(#hMOR)" stroke="#3f9a40" stroke-width="0.9"/>
<path d="M349.9,248.1a5.3,7.2 0 1,0 10.6,0a5.3,7.2 0 1,0 -10.6,0M364.9,249.2a4.1,5.4 0 1,0 8.1,0a4.1,5.4 0 1,0 -8.1,0M352.0,261.8a3.7,4.9 0 1,0 7.3,0a3.7,4.9 0 1,0 -7.3,0M362.6,262.2a5.9,7.1 0 1,0 11.8,0a5.9,7.1 0 1,0 -11.8,0" fill="none" stroke="#3f9a40" stroke-width="1.3"/>
<path d="M350.9,248.1a4.3,6.2 0 1,0 8.6,0a4.3,6.2 0 1,0 -8.6,0M365.9,249.2a3.1,4.4 0 1,0 6.1,0a3.1,4.4 0 1,0 -6.1,0M353.0,261.8a2.7,3.9 0 1,0 5.3,0a2.7,3.9 0 1,0 -5.3,0M363.6,262.2a4.9,6.1 0 1,0 9.8,0a4.9,6.1 0 1,0 -9.8,0" fill="#fff" stroke="#3f9a40" stroke-width="0.6"/>
<path d="M347.0,242.2a1.0,1.1 0 1,0 2.1,0a1.0,1.1 0 1,0 -2.1,0M361.4,241.1a1.0,1.1 0 1,0 2.1,0a1.0,1.1 0 1,0 -2.1,0M375.7,242.2a1.0,1.1 0 1,0 2.1,0a1.0,1.1 0 1,0 -2.1,0M347.0,255.0a1.0,1.1 0 1,0 2.1,0a1.0,1.1 0 1,0 -2.1,0M361.4,255.0a1.0,1.1 0 1,0 2.1,0a1.0,1.1 0 1,0 -2.1,0M375.7,255.0a1.0,1.1 0 1,0 2.1,0a1.0,1.1 0 1,0 -2.1,0M347.0,267.9a1.0,1.1 0 1,0 2.1,0a1.0,1.1 0 1,0 -2.1,0M361.4,269.0a1.0,1.1 0 1,0 2.1,0a1.0,1.1 0 1,0 -2.1,0M375.7,267.9a1.0,1.1 0 1,0 2.1,0a1.0,1.1 0 1,0 -2.1,0" fill="#fff" stroke="#3f9a40" stroke-width="0.4"/>
<path d="M409.9,254.7 406.4,258.2 401.5,258.2 398.0,254.7 398.0,249.7 401.5,246.2 406.4,246.2 409.9,249.7z" fill="#9a50c0" fill-opacity="0.2" stroke="none"/>
<path d="M399.4,259.4 396.0,262.9 391.0,262.9 387.5,259.4 387.5,254.4 391.0,250.9 396.0,250.9 399.4,254.4z" fill="#9a50c0" fill-opacity="0.2" stroke="none"/>
<path d="M420.4,260.1 416.9,263.6 411.9,263.6 408.5,260.1 408.5,255.1 411.9,251.6 416.9,251.6 420.4,255.1z" fill="#9a50c0" fill-opacity="0.2" stroke="none"/>
<path d="M408.9,265.2 405.4,268.7 400.4,268.7 396.9,265.2 396.9,260.2 400.4,256.7 405.4,256.7 408.9,260.2z" fill="#9a50c0" fill-opacity="0.2" stroke="none"/>
<path d="M399.4,272.7 396.0,276.3 391.0,276.3 387.5,272.7 387.5,267.8 391.0,264.2 396.0,264.2 399.4,267.8z" fill="#9a50c0" fill-opacity="0.2" stroke="none"/>
<path d="M420.4,272.7 416.9,276.3 411.9,276.3 408.5,272.7 408.5,267.8 411.9,264.2 416.9,264.2 420.4,267.8z" fill="#9a50c0" fill-opacity="0.2" stroke="none"/>
<path d="M408.9,277.8 405.4,281.3 400.4,281.3 396.9,277.8 396.9,272.8 400.4,269.3 405.4,269.3 408.9,272.8z" fill="#9a50c0" fill-opacity="0.2" stroke="none"/>
<path d="M409.9,254.7 406.4,258.2 401.5,258.2 398.0,254.7 398.0,249.7 401.5,246.2 406.4,246.2 409.9,249.7zM406.5,254.8 401.4,254.8 401.4,249.6 406.5,249.6zM406.5,254.8 409.9,254.7M406.5,254.8 406.4,258.2M401.4,254.8 401.5,258.2M401.4,254.8 398.0,254.7M401.4,249.6 398.0,249.7M401.4,249.6 401.5,246.2M406.5,249.6 406.4,246.2M406.5,249.6 409.9,249.7M399.4,259.4 396.0,262.9 391.0,262.9 387.5,259.4 387.5,254.4 391.0,250.9 396.0,250.9 399.4,254.4zM396.1,259.5 390.9,259.5 390.9,254.3 396.1,254.3zM396.1,259.5 399.4,259.4M396.1,259.5 396.0,262.9M390.9,259.5 391.0,262.9M390.9,259.5 387.5,259.4M390.9,254.3 387.5,254.4M390.9,254.3 391.0,250.9M396.1,254.3 396.0,250.9M396.1,254.3 399.4,254.4M420.4,260.1 416.9,263.6 411.9,263.6 408.5,260.1 408.5,255.1 411.9,251.6 416.9,251.6 420.4,255.1zM417.0,260.2 411.8,260.2 411.8,255.0 417.0,255.0zM417.0,260.2 420.4,260.1M417.0,260.2 416.9,263.6M411.8,260.2 411.9,263.6M411.8,260.2 408.5,260.1M411.8,255.0 408.5,255.1M411.8,255.0 411.9,251.6M417.0,255.0 416.9,251.6M417.0,255.0 420.4,255.1M408.9,265.2 405.4,268.7 400.4,268.7 396.9,265.2 396.9,260.2 400.4,256.7 405.4,256.7 408.9,260.2zM405.5,265.3 400.3,265.3 400.3,260.1 405.5,260.1zM405.5,265.3 408.9,265.2M405.5,265.3 405.4,268.7M400.3,265.3 400.4,268.7M400.3,265.3 396.9,265.2M400.3,260.1 396.9,260.2M400.3,260.1 400.4,256.7M405.5,260.1 405.4,256.7M405.5,260.1 408.9,260.2M399.4,272.7 396.0,276.3 391.0,276.3 387.5,272.7 387.5,267.8 391.0,264.2 396.0,264.2 399.4,267.8zM396.1,272.8 390.9,272.8 390.9,267.6 396.1,267.6zM396.1,272.8 399.4,272.7M396.1,272.8 396.0,276.3M390.9,272.8 391.0,276.3M390.9,272.8 387.5,272.7M390.9,267.6 387.5,267.8M390.9,267.6 391.0,264.2M396.1,267.6 396.0,264.2M396.1,267.6 399.4,267.8M420.4,272.7 416.9,276.3 411.9,276.3 408.5,272.7 408.5,267.8 411.9,264.2 416.9,264.2 420.4,267.8zM417.0,272.8 411.8,272.8 411.8,267.6 417.0,267.6zM417.0,272.8 420.4,272.7M417.0,272.8 416.9,276.3M411.8,272.8 411.9,276.3M411.8,272.8 408.5,272.7M411.8,267.6 408.5,267.8M411.8,267.6 411.9,264.2M417.0,267.6 416.9,264.2M417.0,267.6 420.4,267.8M408.9,277.8 405.4,281.3 400.4,281.3 396.9,277.8 396.9,272.8 400.4,269.3 405.4,269.3 408.9,272.8zM405.5,277.9 400.3,277.9 400.3,272.7 405.5,272.7zM405.5,277.9 408.9,277.8M405.5,277.9 405.4,281.3M400.3,277.9 400.4,281.3M400.3,277.9 396.9,277.8M400.3,272.7 396.9,272.8M400.3,272.7 400.4,269.3M405.5,272.7 405.4,269.3M405.5,272.7 408.9,272.8" fill="none" stroke="#9a50c0" stroke-width="0.66"/>
<path d="M408.7,254.2 405.9,257.0 402.0,257.0 399.2,254.2 399.2,250.2 402.0,247.4 405.9,247.4 408.7,250.2zM398.3,258.9 395.5,261.7 391.5,261.7 388.7,258.9 388.7,254.9 391.5,252.1 395.5,252.1 398.3,254.9zM419.2,259.6 416.4,262.4 412.4,262.4 409.6,259.6 409.6,255.6 412.4,252.8 416.4,252.8 419.2,255.6zM407.7,264.7 404.9,267.5 400.9,267.5 398.1,264.7 398.1,260.7 400.9,257.9 404.9,257.9 407.7,260.7zM398.3,272.2 395.5,275.1 391.5,275.1 388.7,272.2 388.7,268.3 391.5,265.4 395.5,265.4 398.3,268.3zM419.2,272.2 416.4,275.1 412.4,275.1 409.6,272.2 409.6,268.3 412.4,265.4 416.4,265.4 419.2,268.3zM407.7,277.3 404.9,280.1 400.9,280.1 398.1,277.3 398.1,273.3 400.9,270.5 404.9,270.5 407.7,273.3z" fill="none" stroke="#9a50c0" stroke-width="0.528"/>
<path d="M401.3,252.2a2.6,2.3 0 1,0 5.2,0a2.6,2.3 0 1,0 -5.2,0M390.9,256.9a2.6,2.3 0 1,0 5.2,0a2.6,2.3 0 1,0 -5.2,0M411.8,257.6a2.6,2.3 0 1,0 5.2,0a2.6,2.3 0 1,0 -5.2,0M400.3,262.7a2.6,2.3 0 1,0 5.2,0a2.6,2.3 0 1,0 -5.2,0M390.9,270.2a2.6,2.3 0 1,0 5.2,0a2.6,2.3 0 1,0 -5.2,0M411.8,270.2a2.6,2.3 0 1,0 5.2,0a2.6,2.3 0 1,0 -5.2,0M400.3,275.3a2.6,2.3 0 1,0 5.2,0a2.6,2.3 0 1,0 -5.2,0" fill="#fff" stroke="#9a50c0" stroke-width="0.35"/>
<polygon points="282.60,328.70 283.51,330.55 285.55,330.84 284.07,332.28 284.42,334.31 282.60,333.35 280.78,334.31 281.13,332.28 279.65,330.84 281.69,330.55" fill="#bb5c2a" stroke="#bb5c2a" stroke-width="0.60" stroke-linejoin="round"/>
<ellipse cx="282.60" cy="332.00" rx="0.99" ry="0.68" fill="#fff" opacity="0.9"/>
<polygon points="323.80,316.00 324.71,317.85 326.75,318.14 325.27,319.58 325.62,321.61 323.80,320.65 321.98,321.61 322.33,319.58 320.85,318.14 322.89,317.85" fill="#bb5c2a" stroke="#bb5c2a" stroke-width="0.60" stroke-linejoin="round"/>
<ellipse cx="323.80" cy="319.30" rx="0.99" ry="0.68" fill="#fff" opacity="0.9"/>
<polygon points="365.00,274.80 365.91,276.65 367.95,276.94 366.47,278.38 366.82,280.41 365.00,279.45 363.18,280.41 363.53,278.38 362.05,276.94 364.09,276.65" fill="#bb5c2a" stroke="#bb5c2a" stroke-width="0.60" stroke-linejoin="round"/>
<ellipse cx="365.00" cy="278.10" rx="0.99" ry="0.68" fill="#fff" opacity="0.9"/>
<polygon points="405.80,282.40 406.71,284.25 408.75,284.54 407.27,285.98 407.62,288.01 405.80,287.05 403.98,288.01 404.33,285.98 402.85,284.54 404.89,284.25" fill="#bb5c2a" stroke="#bb5c2a" stroke-width="0.60" stroke-linejoin="round"/>
<ellipse cx="405.80" cy="285.70" rx="0.99" ry="0.68" fill="#fff" opacity="0.9"/>
<rect x="265.2" y="215.20" width="20.6" height="10" fill="#e8888d"/>
<text x="287.50" y="223.20" font-size="7.9" font-weight="bold" fill="#111" textLength="120.9" lengthAdjust="spacingAndGlyphs">H<tspan font-size="5.2" dy="1.6">2</tspan><tspan dy="-1.6">O retained after 300 </tspan><tspan font-size="5.2" dy="-2.6">o</tspan><tspan dy="2.6">C activation</tspan></text>
<polygon points="275.90,228.30 276.78,230.09 278.75,230.37 277.33,231.76 277.66,233.73 275.90,232.80 274.14,233.73 274.47,231.76 273.05,230.37 275.02,230.09" fill="#bb5c2a" stroke="#bb5c2a" stroke-width="0.60" stroke-linejoin="round"/>
<ellipse cx="275.90" cy="231.50" rx="0.96" ry="0.66" fill="#fff" opacity="0.9"/>
<text x="287.50" y="233.80" font-size="7.9" font-weight="bold" fill="#111" textLength="86.1" lengthAdjust="spacingAndGlyphs">Released NO of NO<tspan font-size="5.2" dy="1.6">2</tspan><tspan dy="-1.6"> input</tspan></text>
<line x1="260.00" y1="343.20" x2="262.20" y2="343.20" stroke="#000" stroke-width="1" />
<text x="258.60" y="345.90" font-size="7.6" font-weight="bold" fill="#111" text-anchor="end" >0</text>
<line x1="260.00" y1="305.43" x2="262.20" y2="305.43" stroke="#000" stroke-width="1" />
<text x="258.60" y="308.13" font-size="7.6" font-weight="bold" fill="#111" text-anchor="end" >1</text>
<line x1="260.00" y1="267.67" x2="262.20" y2="267.67" stroke="#000" stroke-width="1" />
<text x="258.60" y="270.37" font-size="7.6" font-weight="bold" fill="#111" text-anchor="end" >2</text>
<line x1="260.00" y1="229.90" x2="262.20" y2="229.90" stroke="#000" stroke-width="1" />
<text x="258.60" y="232.60" font-size="7.6" font-weight="bold" fill="#111" text-anchor="end" >3</text>
<line x1="260.80" y1="324.32" x2="262.20" y2="324.32" stroke="#000" stroke-width="0.9" />
<line x1="260.80" y1="286.55" x2="262.20" y2="286.55" stroke="#000" stroke-width="0.9" />
<line x1="260.80" y1="248.78" x2="262.20" y2="248.78" stroke="#000" stroke-width="0.9" />
<line x1="426.40" y1="333.40" x2="428.60" y2="333.40" stroke="#bb5c2a" stroke-width="1" />
<text x="430.60" y="336.10" font-size="7.6" font-weight="bold" fill="#bb5c2a" text-anchor="start" >0</text>
<line x1="426.40" y1="294.87" x2="428.60" y2="294.87" stroke="#bb5c2a" stroke-width="1" />
<text x="430.60" y="297.57" font-size="7.6" font-weight="bold" fill="#bb5c2a" text-anchor="start" >1</text>
<line x1="426.40" y1="256.33" x2="428.60" y2="256.33" stroke="#bb5c2a" stroke-width="1" />
<text x="430.60" y="259.03" font-size="7.6" font-weight="bold" fill="#bb5c2a" text-anchor="start" >2</text>
<line x1="426.40" y1="217.80" x2="428.60" y2="217.80" stroke="#bb5c2a" stroke-width="1" />
<text x="430.60" y="220.50" font-size="7.6" font-weight="bold" fill="#bb5c2a" text-anchor="start" >3</text>
<line x1="426.40" y1="314.13" x2="427.80" y2="314.13" stroke="#bb5c2a" stroke-width="0.9" />
<line x1="426.40" y1="275.60" x2="427.80" y2="275.60" stroke="#bb5c2a" stroke-width="0.9" />
<line x1="426.40" y1="237.07" x2="427.80" y2="237.07" stroke="#bb5c2a" stroke-width="0.9" />
<line x1="283.30" y1="343.20" x2="283.30" y2="345.20" stroke="#000" stroke-width="1" />
<line x1="324.20" y1="343.20" x2="324.20" y2="345.20" stroke="#000" stroke-width="1" />
<line x1="364.80" y1="343.20" x2="364.80" y2="345.20" stroke="#000" stroke-width="1" />
<line x1="405.70" y1="343.20" x2="405.70" y2="345.20" stroke="#000" stroke-width="1" />
<polyline points="426.4,211.6 262.2,211.6 262.2,343.2 426.4,343.2" fill="none" stroke="#000" stroke-width="1.3"/>
<line x1="426.40" y1="211.00" x2="426.40" y2="343.80" stroke="#bb5c2a" stroke-width="1.3" />
<text transform="translate(273.80,354.6) rotate(8.5)" font-size="8.2" font-weight="bold" fill="#111" textLength="32.8" lengthAdjust="spacingAndGlyphs">Ca<tspan font-style="italic">-LTA-6</tspan></text>
<text transform="translate(312.90,354.6) rotate(8.5)" font-size="8.2" font-weight="bold" fill="#111" textLength="35.1" lengthAdjust="spacingAndGlyphs">Ca<tspan font-style="italic">-CHA-6</tspan></text>
<text transform="translate(352.60,354.6) rotate(8.5)" font-size="8.2" font-weight="bold" fill="#111" textLength="38.1" lengthAdjust="spacingAndGlyphs">Ca<tspan font-style="italic">-MOR-6</tspan></text>
<text transform="translate(394.80,354.6) rotate(8.5)" font-size="8.2" font-weight="bold" fill="#111" textLength="35.1" lengthAdjust="spacingAndGlyphs">Ca<tspan font-style="italic">-FAU-6</tspan></text>
<text transform="translate(249.10,277.00) rotate(-90)" font-size="8.3" font-weight="bold" fill="#111" text-anchor="middle" textLength="168" lengthAdjust="spacingAndGlyphs">H<tspan font-size="5.4" dy="1.7">2</tspan><tspan dy="-1.7">O Retained after 300 </tspan><tspan font-size="5.4" dy="-2.7">o</tspan><tspan dy="2.7">C Activation (wt%)</tspan></text>
<text transform="translate(444.90,278.40) rotate(90)" font-size="8.3" font-weight="bold" fill="#bb5c2a" text-anchor="middle" textLength="115" lengthAdjust="spacingAndGlyphs">Released NO of NO<tspan font-size="5.4" dy="1.7">2</tspan><tspan dy="-1.7"> Input (%)</tspan></text>
<text x="489.90" y="204.90" font-size="18.5" font-weight="bold" fill="#000" text-anchor="start" >d</text>
<rect x="500.10" y="289.00" width="20.6" height="53.70" fill="#eebb80"/>
<rect x="541.20" y="280.90" width="20.6" height="61.80" fill="#eebb80"/>
<rect x="581.70" y="275.80" width="20.6" height="66.90" fill="#eebb80"/>
<rect x="622.60" y="274.50" width="20.6" height="68.20" fill="#eebb80"/>
<path d="M510.7,263.7 505.7,268.6 498.5,268.6 493.5,263.7 493.5,256.8 498.5,251.9 505.7,251.9 510.7,256.8z" fill="#c8703c" fill-opacity="0.2" stroke="none"/>
<path d="M528.6,263.7 523.6,268.6 516.4,268.6 511.4,263.7 511.4,256.8 516.4,251.9 523.6,251.9 528.6,256.8z" fill="#c8703c" fill-opacity="0.2" stroke="none"/>
<path d="M510.7,281.1 505.7,286.0 498.5,286.0 493.5,281.1 493.5,274.2 498.5,269.3 505.7,269.3 510.7,274.2z" fill="#c8703c" fill-opacity="0.2" stroke="none"/>
<path d="M528.6,281.1 523.6,286.0 516.4,286.0 511.4,281.1 511.4,274.2 516.4,269.3 523.6,269.3 528.6,274.2z" fill="#c8703c" fill-opacity="0.2" stroke="none"/>
<path d="M507.9,254.9 514.2,254.9 514.2,261.2 507.9,261.2zM509.3,256.3 512.8,256.3 512.8,259.8 509.3,259.8zM507.9,276.7 514.2,276.7 514.2,283.0 507.9,283.0zM509.3,278.1 512.8,278.1 512.8,281.6 509.3,281.6zM496.7,265.8 503.0,265.8 503.0,272.1 496.7,272.1zM498.1,267.2 501.6,267.2 501.6,270.7 498.1,270.7zM519.1,265.8 525.4,265.8 525.4,272.1 519.1,272.1zM520.5,267.2 524.0,267.2 524.0,270.7 520.5,270.7z" fill="none" stroke="#c8703c" stroke-width="0.5"/>
<path d="M510.7,263.7 505.7,268.6 498.5,268.6 493.5,263.7 493.5,256.8 498.5,251.9 505.7,251.9 510.7,256.8zM505.8,263.9 498.4,263.9 498.4,256.6 505.8,256.6zM505.8,263.9 510.7,263.7M505.8,263.9 505.7,268.6M498.4,263.9 498.5,268.6M498.4,263.9 493.5,263.7M498.4,256.6 493.5,256.8M498.4,256.6 498.5,251.9M505.8,256.6 505.7,251.9M505.8,256.6 510.7,256.8M528.6,263.7 523.6,268.6 516.4,268.6 511.4,263.7 511.4,256.8 516.4,251.9 523.6,251.9 528.6,256.8zM523.7,263.9 516.3,263.9 516.3,256.6 523.7,256.6zM523.7,263.9 528.6,263.7M523.7,263.9 523.6,268.6M516.3,263.9 516.4,268.6M516.3,263.9 511.4,263.7M516.3,256.6 511.4,256.8M516.3,256.6 516.4,251.9M523.7,256.6 523.6,251.9M523.7,256.6 528.6,256.8M510.7,281.1 505.7,286.0 498.5,286.0 493.5,281.1 493.5,274.2 498.5,269.3 505.7,269.3 510.7,274.2zM505.8,281.3 498.4,281.3 498.4,274.0 505.8,274.0zM505.8,281.3 510.7,281.1M505.8,281.3 505.7,286.0M498.4,281.3 498.5,286.0M498.4,281.3 493.5,281.1M498.4,274.0 493.5,274.2M498.4,274.0 498.5,269.3M505.8,274.0 505.7,269.3M505.8,274.0 510.7,274.2M528.6,281.1 523.6,286.0 516.4,286.0 511.4,281.1 511.4,274.2 516.4,269.3 523.6,269.3 528.6,274.2zM523.7,281.3 516.3,281.3 516.3,274.0 523.7,274.0zM523.7,281.3 528.6,281.1M523.7,281.3 523.6,286.0M516.3,281.3 516.4,286.0M516.3,281.3 511.4,281.1M516.3,274.0 511.4,274.2M516.3,274.0 516.4,269.3M523.7,274.0 523.6,269.3M523.7,274.0 528.6,274.2" fill="none" stroke="#c8703c" stroke-width="0.72"/>
<path d="M509.0,263.0 505.0,266.9 499.2,266.9 495.2,263.0 495.2,257.5 499.2,253.5 505.0,253.5 509.0,257.5zM526.9,263.0 522.9,266.9 517.1,266.9 513.1,263.0 513.1,257.5 517.1,253.5 522.9,253.5 526.9,257.5zM509.0,280.4 505.0,284.4 499.2,284.4 495.2,280.4 495.2,274.9 499.2,271.0 505.0,271.0 509.0,274.9zM526.9,280.4 522.9,284.4 517.1,284.4 513.1,280.4 513.1,274.9 517.1,271.0 522.9,271.0 526.9,274.9z" fill="none" stroke="#c8703c" stroke-width="0.576"/>
<polygon points="515.4,270.7 512.8,273.1 509.3,273.1 506.7,270.7 506.7,267.2 509.3,264.8 512.8,264.8 515.4,267.2" fill="#fff" stroke="#c8703c" stroke-width="0.84"/>
<path d="M552.7,249.3 549.1,253.2 544.1,253.2 540.6,249.3 540.6,243.9 544.1,240.1 549.1,240.1 552.7,243.9z" fill="#4c86a0" fill-opacity="0.2" stroke="none"/>
<path d="M552.7,264.2 549.1,268.0 544.1,268.0 540.6,264.2 540.6,258.8 544.1,255.0 549.1,255.0 552.7,258.8z" fill="#4c86a0" fill-opacity="0.2" stroke="none"/>
<path d="M561.4,255.4 557.9,259.2 552.9,259.2 549.3,255.4 549.3,249.9 552.9,246.1 557.9,246.1 561.4,249.9z" fill="#4c86a0" fill-opacity="0.2" stroke="none"/>
<path d="M561.4,269.9 557.9,273.7 552.9,273.7 549.3,269.9 549.3,264.5 552.9,260.6 557.9,260.6 561.4,264.5z" fill="#4c86a0" fill-opacity="0.2" stroke="none"/>
<path d="M552.7,249.3 549.1,253.2 544.1,253.2 540.6,249.3 540.6,243.9 544.1,240.1 549.1,240.1 552.7,243.9zM549.3,249.5 544.0,249.5 544.0,243.8 549.3,243.8zM549.3,249.5 552.7,249.3M549.3,249.5 549.1,253.2M544.0,249.5 544.1,253.2M544.0,249.5 540.6,249.3M544.0,243.8 540.6,243.9M544.0,243.8 544.1,240.1M549.3,243.8 549.1,240.1M549.3,243.8 552.7,243.9M552.7,264.2 549.1,268.0 544.1,268.0 540.6,264.2 540.6,258.8 544.1,255.0 549.1,255.0 552.7,258.8zM549.3,264.3 544.0,264.3 544.0,258.7 549.3,258.7zM549.3,264.3 552.7,264.2M549.3,264.3 549.1,268.0M544.0,264.3 544.1,268.0M544.0,264.3 540.6,264.2M544.0,258.7 540.6,258.8M544.0,258.7 544.1,255.0M549.3,258.7 549.1,255.0M549.3,258.7 552.7,258.8M561.4,255.4 557.9,259.2 552.9,259.2 549.3,255.4 549.3,249.9 552.9,246.1 557.9,246.1 561.4,249.9zM558.0,255.5 552.7,255.5 552.7,249.8 558.0,249.8zM558.0,255.5 561.4,255.4M558.0,255.5 557.9,259.2M552.7,255.5 552.9,259.2M552.7,255.5 549.3,255.4M552.7,249.8 549.3,249.9M552.7,249.8 552.9,246.1M558.0,249.8 557.9,246.1M558.0,249.8 561.4,249.9M561.4,269.9 557.9,273.7 552.9,273.7 549.3,269.9 549.3,264.5 552.9,260.6 557.9,260.6 561.4,264.5zM558.0,270.0 552.7,270.0 552.7,264.3 558.0,264.3zM558.0,270.0 561.4,269.9M558.0,270.0 557.9,273.7M552.7,270.0 552.9,273.7M552.7,270.0 549.3,269.9M552.7,264.3 549.3,264.5M552.7,264.3 552.9,260.6M558.0,264.3 557.9,260.6M558.0,264.3 561.4,264.5" fill="none" stroke="#4c86a0" stroke-width="0.72"/>
<path d="M551.5,248.8 548.6,251.9 544.6,251.9 541.8,248.8 541.8,244.5 544.6,241.4 548.6,241.4 551.5,244.5zM551.5,263.7 548.6,266.7 544.6,266.7 541.8,263.7 541.8,259.3 544.6,256.3 548.6,256.3 551.5,259.3zM560.2,254.8 557.4,257.9 553.4,257.9 550.5,254.8 550.5,250.5 553.4,247.4 557.4,247.4 560.2,250.5zM560.2,269.3 557.4,272.4 553.4,272.4 550.5,269.3 550.5,265.0 553.4,261.9 557.4,261.9 560.2,265.0z" fill="none" stroke="#4c86a0" stroke-width="0.576"/>
<path d="M541.8,270.0 551.4,270.0 551.4,273.5 541.8,273.5zM541.8,271.8 551.4,271.8M550.6,240.3 560.2,240.3 560.2,243.8 550.6,243.8zM550.6,242.0 560.2,242.0" fill="none" stroke="#4c86a0" stroke-width="0.55"/>
<path d="M573.9,240.2Q592.6,244.1 611.4,240.2Q607.7,256.1 611.4,272.1Q592.6,268.9 573.9,272.1Q577.6,256.1 573.9,240.2z" fill="url(#hMOR)" stroke="#3f9a40" stroke-width="0.9"/>
<path d="M580.0,249.4a5.4,7.0 0 1,0 10.8,0a5.4,7.0 0 1,0 -10.8,0M595.2,250.5a4.1,5.3 0 1,0 8.3,0a4.1,5.3 0 1,0 -8.3,0M582.1,262.7a3.7,4.7 0 1,0 7.4,0a3.7,4.7 0 1,0 -7.4,0M592.9,263.1a6.0,6.9 0 1,0 12.0,0a6.0,6.9 0 1,0 -12.0,0" fill="none" stroke="#3f9a40" stroke-width="1.3"/>
<path d="M581.0,249.4a4.4,6.0 0 1,0 8.8,0a4.4,6.0 0 1,0 -8.8,0M596.2,250.5a3.1,4.3 0 1,0 6.3,0a3.1,4.3 0 1,0 -6.3,0M583.1,262.7a2.7,3.7 0 1,0 5.4,0a2.7,3.7 0 1,0 -5.4,0M593.9,263.1a5.0,5.9 0 1,0 10.0,0a5.0,5.9 0 1,0 -10.0,0" fill="#fff" stroke="#3f9a40" stroke-width="0.6"/>
<path d="M577.0,243.7a1.0,1.1 0 1,0 2.1,0a1.0,1.1 0 1,0 -2.1,0M591.6,242.7a1.0,1.1 0 1,0 2.1,0a1.0,1.1 0 1,0 -2.1,0M606.2,243.7a1.0,1.1 0 1,0 2.1,0a1.0,1.1 0 1,0 -2.1,0M577.0,256.1a1.0,1.1 0 1,0 2.1,0a1.0,1.1 0 1,0 -2.1,0M591.6,256.1a1.0,1.1 0 1,0 2.1,0a1.0,1.1 0 1,0 -2.1,0M606.2,256.1a1.0,1.1 0 1,0 2.1,0a1.0,1.1 0 1,0 -2.1,0M577.0,268.6a1.0,1.1 0 1,0 2.1,0a1.0,1.1 0 1,0 -2.1,0M591.6,269.6a1.0,1.1 0 1,0 2.1,0a1.0,1.1 0 1,0 -2.1,0M606.2,268.6a1.0,1.1 0 1,0 2.1,0a1.0,1.1 0 1,0 -2.1,0" fill="#fff" stroke="#3f9a40" stroke-width="0.4"/>
<path d="M639.1,246.9 635.6,250.3 630.5,250.3 627.0,246.9 627.0,242.2 630.5,238.9 635.6,238.9 639.1,242.2z" fill="#9a50c0" fill-opacity="0.2" stroke="none"/>
<path d="M628.5,251.4 624.9,254.7 619.9,254.7 616.3,251.4 616.3,246.7 619.9,243.3 624.9,243.3 628.5,246.7z" fill="#9a50c0" fill-opacity="0.2" stroke="none"/>
<path d="M649.8,252.1 646.2,255.4 641.2,255.4 637.6,252.1 637.6,247.4 641.2,244.0 646.2,244.0 649.8,247.4z" fill="#9a50c0" fill-opacity="0.2" stroke="none"/>
<path d="M638.1,256.9 634.5,260.2 629.5,260.2 625.9,256.9 625.9,252.2 629.5,248.8 634.5,248.8 638.1,252.2z" fill="#9a50c0" fill-opacity="0.2" stroke="none"/>
<path d="M628.5,264.1 624.9,267.4 619.9,267.4 616.3,264.1 616.3,259.4 619.9,256.0 624.9,256.0 628.5,259.4z" fill="#9a50c0" fill-opacity="0.2" stroke="none"/>
<path d="M649.8,264.1 646.2,267.4 641.2,267.4 637.6,264.1 637.6,259.4 641.2,256.0 646.2,256.0 649.8,259.4z" fill="#9a50c0" fill-opacity="0.2" stroke="none"/>
<path d="M638.1,268.9 634.5,272.2 629.5,272.2 625.9,268.9 625.9,264.2 629.5,260.8 634.5,260.8 638.1,264.2z" fill="#9a50c0" fill-opacity="0.2" stroke="none"/>
<path d="M639.1,246.9 635.6,250.3 630.5,250.3 627.0,246.9 627.0,242.2 630.5,238.9 635.6,238.9 639.1,242.2zM635.7,247.0 630.4,247.0 630.4,242.1 635.7,242.1zM635.7,247.0 639.1,246.9M635.7,247.0 635.6,250.3M630.4,247.0 630.5,250.3M630.4,247.0 627.0,246.9M630.4,242.1 627.0,242.2M630.4,242.1 630.5,238.9M635.7,242.1 635.6,238.9M635.7,242.1 639.1,242.2M628.5,251.4 624.9,254.7 619.9,254.7 616.3,251.4 616.3,246.7 619.9,243.3 624.9,243.3 628.5,246.7zM625.0,251.5 619.8,251.5 619.8,246.6 625.0,246.6zM625.0,251.5 628.5,251.4M625.0,251.5 624.9,254.7M619.8,251.5 619.9,254.7M619.8,251.5 616.3,251.4M619.8,246.6 616.3,246.7M619.8,246.6 619.9,243.3M625.0,246.6 624.9,243.3M625.0,246.6 628.5,246.7M649.8,252.1 646.2,255.4 641.2,255.4 637.6,252.1 637.6,247.4 641.2,244.0 646.2,244.0 649.8,247.4zM646.3,252.2 641.1,252.2 641.1,247.2 646.3,247.2zM646.3,252.2 649.8,252.1M646.3,252.2 646.2,255.4M641.1,252.2 641.2,255.4M641.1,252.2 637.6,252.1M641.1,247.2 637.6,247.4M641.1,247.2 641.2,244.0M646.3,247.2 646.2,244.0M646.3,247.2 649.8,247.4M638.1,256.9 634.5,260.2 629.5,260.2 625.9,256.9 625.9,252.2 629.5,248.8 634.5,248.8 638.1,252.2zM634.6,257.0 629.4,257.0 629.4,252.1 634.6,252.1zM634.6,257.0 638.1,256.9M634.6,257.0 634.5,260.2M629.4,257.0 629.5,260.2M629.4,257.0 625.9,256.9M629.4,252.1 625.9,252.2M629.4,252.1 629.5,248.8M634.6,252.1 634.5,248.8M634.6,252.1 638.1,252.2M628.5,264.1 624.9,267.4 619.9,267.4 616.3,264.1 616.3,259.4 619.9,256.0 624.9,256.0 628.5,259.4zM625.0,264.2 619.8,264.2 619.8,259.3 625.0,259.3zM625.0,264.2 628.5,264.1M625.0,264.2 624.9,267.4M619.8,264.2 619.9,267.4M619.8,264.2 616.3,264.1M619.8,259.3 616.3,259.4M619.8,259.3 619.9,256.0M625.0,259.3 624.9,256.0M625.0,259.3 628.5,259.4M649.8,264.1 646.2,267.4 641.2,267.4 637.6,264.1 637.6,259.4 641.2,256.0 646.2,256.0 649.8,259.4zM646.3,264.2 641.1,264.2 641.1,259.3 646.3,259.3zM646.3,264.2 649.8,264.1M646.3,264.2 646.2,267.4M641.1,264.2 641.2,267.4M641.1,264.2 637.6,264.1M641.1,259.3 637.6,259.4M641.1,259.3 641.2,256.0M646.3,259.3 646.2,256.0M646.3,259.3 649.8,259.4M638.1,268.9 634.5,272.2 629.5,272.2 625.9,268.9 625.9,264.2 629.5,260.8 634.5,260.8 638.1,264.2zM634.6,269.0 629.4,269.0 629.4,264.1 634.6,264.1zM634.6,269.0 638.1,268.9M634.6,269.0 634.5,272.2M629.4,269.0 629.5,272.2M629.4,269.0 625.9,268.9M629.4,264.1 625.9,264.2M629.4,264.1 629.5,260.8M634.6,264.1 634.5,260.8M634.6,264.1 638.1,264.2" fill="none" stroke="#9a50c0" stroke-width="0.66"/>
<path d="M637.9,246.5 635.1,249.1 631.0,249.1 628.2,246.5 628.2,242.7 631.0,240.0 635.1,240.0 637.9,242.7zM627.3,250.9 624.4,253.6 620.4,253.6 617.5,250.9 617.5,247.1 620.4,244.5 624.4,244.5 627.3,247.1zM648.6,251.6 645.7,254.3 641.7,254.3 638.8,251.6 638.8,247.8 641.7,245.2 645.7,245.2 648.6,247.8zM636.8,256.4 634.0,259.1 630.0,259.1 627.1,256.4 627.1,252.6 630.0,250.0 634.0,250.0 636.8,252.6zM627.3,263.6 624.4,266.3 620.4,266.3 617.5,263.6 617.5,259.8 620.4,257.2 624.4,257.2 627.3,259.8zM648.6,263.6 645.7,266.3 641.7,266.3 638.8,263.6 638.8,259.8 641.7,257.2 645.7,257.2 648.6,259.8zM636.8,268.4 634.0,271.1 630.0,271.1 627.1,268.4 627.1,264.6 630.0,262.0 634.0,262.0 636.8,264.6z" fill="none" stroke="#9a50c0" stroke-width="0.528"/>
<path d="M630.4,244.6a2.7,2.2 0 1,0 5.3,0a2.7,2.2 0 1,0 -5.3,0M619.7,249.0a2.7,2.2 0 1,0 5.3,0a2.7,2.2 0 1,0 -5.3,0M641.0,249.7a2.7,2.2 0 1,0 5.3,0a2.7,2.2 0 1,0 -5.3,0M629.3,254.5a2.7,2.2 0 1,0 5.3,0a2.7,2.2 0 1,0 -5.3,0M619.7,261.7a2.7,2.2 0 1,0 5.3,0a2.7,2.2 0 1,0 -5.3,0M641.0,261.7a2.7,2.2 0 1,0 5.3,0a2.7,2.2 0 1,0 -5.3,0M629.3,266.5a2.7,2.2 0 1,0 5.3,0a2.7,2.2 0 1,0 -5.3,0" fill="#fff" stroke="#9a50c0" stroke-width="0.35"/>
<polygon points="510.00,317.60 510.91,319.45 512.95,319.74 511.47,321.18 511.82,323.21 510.00,322.25 508.18,323.21 508.53,321.18 507.05,319.74 509.09,319.45" fill="#bb5c2a" stroke="#bb5c2a" stroke-width="0.60" stroke-linejoin="round"/>
<ellipse cx="510.00" cy="320.90" rx="0.99" ry="0.68" fill="#fff" opacity="0.9"/>
<polygon points="551.10,311.90 552.01,313.75 554.05,314.04 552.57,315.48 552.92,317.51 551.10,316.55 549.28,317.51 549.63,315.48 548.15,314.04 550.19,313.75" fill="#bb5c2a" stroke="#bb5c2a" stroke-width="0.60" stroke-linejoin="round"/>
<ellipse cx="551.10" cy="315.20" rx="0.99" ry="0.68" fill="#fff" opacity="0.9"/>
<polygon points="591.60,300.40 592.51,302.25 594.55,302.54 593.07,303.98 593.42,306.01 591.60,305.05 589.78,306.01 590.13,303.98 588.65,302.54 590.69,302.25" fill="#bb5c2a" stroke="#bb5c2a" stroke-width="0.60" stroke-linejoin="round"/>
<ellipse cx="591.60" cy="303.70" rx="0.99" ry="0.68" fill="#fff" opacity="0.9"/>
<polygon points="632.70,288.60 633.61,290.45 635.65,290.74 634.17,292.18 634.52,294.21 632.70,293.25 630.88,294.21 631.23,292.18 629.75,290.74 631.79,290.45" fill="#bb5c2a" stroke="#bb5c2a" stroke-width="0.60" stroke-linejoin="round"/>
<ellipse cx="632.70" cy="291.90" rx="0.99" ry="0.68" fill="#fff" opacity="0.9"/>
<rect x="492.8" y="215.20" width="20.6" height="10" fill="#eebb80"/>
<text x="515.10" y="223.20" font-size="7.9" font-weight="bold" fill="#111" textLength="120.9" lengthAdjust="spacingAndGlyphs">H<tspan font-size="5.2" dy="1.6">2</tspan><tspan dy="-1.6">O retained after 300 </tspan><tspan font-size="5.2" dy="-2.6">o</tspan><tspan dy="2.6">C activation</tspan></text>
<polygon points="503.50,228.30 504.38,230.09 506.35,230.37 504.93,231.76 505.26,233.73 503.50,232.80 501.74,233.73 502.07,231.76 500.65,230.37 502.62,230.09" fill="#bb5c2a" stroke="#bb5c2a" stroke-width="0.60" stroke-linejoin="round"/>
<ellipse cx="503.50" cy="231.50" rx="0.96" ry="0.66" fill="#fff" opacity="0.9"/>
<text x="515.10" y="233.80" font-size="7.9" font-weight="bold" fill="#111" textLength="86.1" lengthAdjust="spacingAndGlyphs">Released NO of NO<tspan font-size="5.2" dy="1.6">2</tspan><tspan dy="-1.6"> input</tspan></text>
<line x1="487.60" y1="342.70" x2="489.80" y2="342.70" stroke="#000" stroke-width="1" />
<text x="486.20" y="345.40" font-size="7.6" font-weight="bold" fill="#111" text-anchor="end" >0.0</text>
<line x1="487.60" y1="315.35" x2="489.80" y2="315.35" stroke="#000" stroke-width="1" />
<text x="486.20" y="318.05" font-size="7.6" font-weight="bold" fill="#111" text-anchor="end" >0.5</text>
<line x1="487.60" y1="288.00" x2="489.80" y2="288.00" stroke="#000" stroke-width="1" />
<text x="486.20" y="290.70" font-size="7.6" font-weight="bold" fill="#111" text-anchor="end" >1.0</text>
<line x1="487.60" y1="260.65" x2="489.80" y2="260.65" stroke="#000" stroke-width="1" />
<text x="486.20" y="263.35" font-size="7.6" font-weight="bold" fill="#111" text-anchor="end" >1.5</text>
<line x1="487.60" y1="233.30" x2="489.80" y2="233.30" stroke="#000" stroke-width="1" />
<text x="486.20" y="236.00" font-size="7.6" font-weight="bold" fill="#111" text-anchor="end" >2.0</text>
<line x1="488.40" y1="329.02" x2="489.80" y2="329.02" stroke="#000" stroke-width="0.9" />
<line x1="488.40" y1="301.68" x2="489.80" y2="301.68" stroke="#000" stroke-width="0.9" />
<line x1="488.40" y1="274.32" x2="489.80" y2="274.32" stroke="#000" stroke-width="0.9" />
<line x1="488.40" y1="246.98" x2="489.80" y2="246.98" stroke="#000" stroke-width="0.9" />
<line x1="488.40" y1="219.62" x2="489.80" y2="219.62" stroke="#000" stroke-width="0.9" />
<line x1="653.40" y1="321.00" x2="655.60" y2="321.00" stroke="#bb5c2a" stroke-width="1" />
<text x="657.60" y="323.70" font-size="7.6" font-weight="bold" fill="#bb5c2a" text-anchor="start" >0</text>
<line x1="653.40" y1="288.07" x2="655.60" y2="288.07" stroke="#bb5c2a" stroke-width="1" />
<text x="657.60" y="290.77" font-size="7.6" font-weight="bold" fill="#bb5c2a" text-anchor="start" >3</text>
<line x1="653.40" y1="255.13" x2="655.60" y2="255.13" stroke="#bb5c2a" stroke-width="1" />
<text x="657.60" y="257.83" font-size="7.6" font-weight="bold" fill="#bb5c2a" text-anchor="start" >6</text>
<line x1="653.40" y1="222.20" x2="655.60" y2="222.20" stroke="#bb5c2a" stroke-width="1" />
<text x="657.60" y="224.90" font-size="7.6" font-weight="bold" fill="#bb5c2a" text-anchor="start" >9</text>
<line x1="653.40" y1="337.47" x2="654.80" y2="337.47" stroke="#bb5c2a" stroke-width="0.9" />
<line x1="653.40" y1="304.53" x2="654.80" y2="304.53" stroke="#bb5c2a" stroke-width="0.9" />
<line x1="653.40" y1="271.60" x2="654.80" y2="271.60" stroke="#bb5c2a" stroke-width="0.9" />
<line x1="653.40" y1="238.67" x2="654.80" y2="238.67" stroke="#bb5c2a" stroke-width="0.9" />
<line x1="510.40" y1="342.70" x2="510.40" y2="344.70" stroke="#000" stroke-width="1" />
<line x1="551.50" y1="342.70" x2="551.50" y2="344.70" stroke="#000" stroke-width="1" />
<line x1="592.00" y1="342.70" x2="592.00" y2="344.70" stroke="#000" stroke-width="1" />
<line x1="632.90" y1="342.70" x2="632.90" y2="344.70" stroke="#000" stroke-width="1" />
<polyline points="653.4,211.6 489.8,211.6 489.8,342.7 653.4,342.7" fill="none" stroke="#000" stroke-width="1.3"/>
<line x1="653.40" y1="211.00" x2="653.40" y2="343.30" stroke="#bb5c2a" stroke-width="1.3" />
<text transform="translate(500.40,354.6) rotate(8.5)" font-size="8.2" font-weight="bold" fill="#111" textLength="36.4" lengthAdjust="spacingAndGlyphs">Mn<tspan font-style="italic">-LTA-6</tspan></text>
<text transform="translate(540.90,354.6) rotate(8.5)" font-size="8.2" font-weight="bold" fill="#111" textLength="37.6" lengthAdjust="spacingAndGlyphs">Mn<tspan font-style="italic">-CHA-6</tspan></text>
<text transform="translate(579.80,354.6) rotate(8.5)" font-size="8.2" font-weight="bold" fill="#111" textLength="40.9" lengthAdjust="spacingAndGlyphs">Mn<tspan font-style="italic">-MOR-6</tspan></text>
<text transform="translate(622.80,354.6) rotate(8.5)" font-size="8.2" font-weight="bold" fill="#111" textLength="36.8" lengthAdjust="spacingAndGlyphs">Mn<tspan font-style="italic">-FAU-6</tspan></text>
<text transform="translate(469.90,277.00) rotate(-90)" font-size="8.3" font-weight="bold" fill="#111" text-anchor="middle" textLength="168" lengthAdjust="spacingAndGlyphs">H<tspan font-size="5.4" dy="1.7">2</tspan><tspan dy="-1.7">O Retained after 300 </tspan><tspan font-size="5.4" dy="-2.7">o</tspan><tspan dy="2.7">C Activation (wt%)</tspan></text>
<text transform="translate(671.90,278.15) rotate(90)" font-size="8.3" font-weight="bold" fill="#bb5c2a" text-anchor="middle" textLength="115" lengthAdjust="spacingAndGlyphs">Released NO of NO<tspan font-size="5.4" dy="1.7">2</tspan><tspan dy="-1.7"> Input (%)</tspan></text>
<polyline points="44.70,486.55 70.48,435.65 126.72,435.65 155.08,379.10 182.97,379.10" stroke="#bb5c2a" stroke-width="1.1" fill="none" stroke-linejoin="round" />
<path d="M44.60,428.30 C45.17,427.18 46.88,423.65 48.00,421.60 C49.12,419.55 50.55,417.68 51.30,416.00 C52.05,414.32 51.93,413.75 52.50,411.50 C53.07,409.25 53.77,404.57 54.70,402.50 C55.63,400.43 56.97,400.03 58.10,399.10 C59.23,398.17 60.57,398.02 61.50,396.90 C62.43,395.78 62.77,393.90 63.70,392.40 C64.63,390.90 65.98,388.85 67.10,387.90 C68.22,386.95 68.25,386.97 70.40,386.70 C72.55,386.43 78.03,386.33 80.00,386.30 C81.97,386.27 81.36,386.47 82.20,386.50 C83.03,386.53 84.07,386.50 85.01,386.50 C85.95,386.50 86.88,386.50 87.82,386.50 C88.76,386.50 89.70,386.50 90.63,386.50 C91.57,386.50 92.51,386.50 93.44,386.50 C94.38,386.50 95.32,386.50 96.26,386.50 C97.19,386.50 98.13,386.50 99.07,386.50 C100.01,386.50 100.94,386.50 101.88,386.50 C102.82,386.50 103.76,386.50 104.69,386.50 C105.63,386.50 106.57,386.50 107.51,386.50 C108.44,386.50 109.38,386.50 110.32,386.50 C111.26,386.50 112.19,386.50 113.13,386.50 C114.07,386.50 115.01,386.50 115.94,386.50 C116.88,386.50 117.82,386.50 118.75,386.50 C119.69,386.50 120.63,386.50 121.57,386.50 C122.50,386.50 123.44,386.50 124.38,386.50 C125.32,386.50 126.25,386.46 127.19,386.50 C128.13,386.54 129.07,386.59 130.00,386.77 C130.94,386.94 131.88,387.29 132.82,387.52 C133.75,387.75 134.69,387.97 135.63,388.15 C136.57,388.32 137.50,388.46 138.44,388.56 C139.38,388.65 140.31,388.70 141.25,388.70 C142.19,388.70 143.13,388.65 144.06,388.56 C145.00,388.46 145.94,388.32 146.88,388.15 C147.81,387.97 148.75,387.75 149.69,387.52 C150.63,387.29 151.56,386.94 152.50,386.77 C153.44,386.59 154.38,386.54 155.31,386.50 C156.25,386.46 157.19,386.50 158.13,386.50 C159.06,386.50 160.00,386.50 160.94,386.50 C161.88,386.50 162.81,386.50 163.75,386.50 C164.69,386.50 165.62,386.50 166.56,386.50 C167.50,386.50 168.44,386.50 169.37,386.50 C170.31,386.50 171.25,386.50 172.19,386.50 C173.12,386.50 174.06,386.50 175.00,386.50 C175.94,386.50 176.87,386.50 177.81,386.50 C178.75,386.50 179.69,386.50 180.62,386.50 C181.56,386.50 182.97,386.50 183.44,386.50" fill="none" stroke="#f0a040" stroke-width="1.05" stroke-linejoin="round"/>
<path d="M44.60,438.00 C45.08,438.82 46.57,442.83 47.50,442.90 C48.43,442.97 49.37,441.40 50.20,438.40 C51.03,435.40 51.57,429.02 52.50,424.90 C53.43,420.78 54.68,417.07 55.80,413.70 C56.92,410.33 58.07,407.50 59.20,404.70 C60.33,401.90 61.47,399.33 62.60,396.90 C63.73,394.47 64.88,391.80 66.00,390.10 C67.12,388.40 66.97,387.33 69.30,386.70 C71.63,386.07 77.85,386.33 80.00,386.30 C82.15,386.27 81.36,386.47 82.20,386.50 C83.03,386.53 84.07,386.50 85.01,386.50 C85.95,386.50 86.88,386.50 87.82,386.50 C88.76,386.50 89.70,386.50 90.63,386.50 C91.57,386.50 92.51,386.50 93.44,386.50 C94.38,386.50 95.32,386.50 96.26,386.50 C97.19,386.50 98.13,386.50 99.07,386.50 C100.01,386.50 100.94,386.50 101.88,386.50 C102.82,386.50 103.76,386.50 104.69,386.50 C105.63,386.50 106.57,386.50 107.51,386.50 C108.44,386.50 109.38,386.50 110.32,386.50 C111.26,386.50 112.19,386.50 113.13,386.50 C114.07,386.50 115.01,386.50 115.94,386.50 C116.88,386.50 117.82,386.50 118.75,386.50 C119.69,386.50 120.63,386.50 121.57,386.50 C122.50,386.50 123.44,386.50 124.38,386.50 C125.32,386.50 126.25,386.47 127.19,386.50 C128.13,386.53 129.07,386.56 130.00,386.68 C130.94,386.80 131.88,387.04 132.82,387.20 C133.75,387.35 134.69,387.51 135.63,387.62 C136.57,387.74 137.50,387.84 138.44,387.90 C139.38,387.97 140.31,388.00 141.25,388.00 C142.19,388.00 143.13,387.97 144.06,387.90 C145.00,387.84 145.94,387.74 146.88,387.62 C147.81,387.51 148.75,387.35 149.69,387.20 C150.63,387.04 151.56,386.80 152.50,386.68 C153.44,386.56 154.38,386.53 155.31,386.50 C156.25,386.47 157.19,386.50 158.13,386.50 C159.06,386.50 160.00,386.50 160.94,386.50 C161.88,386.50 162.81,386.50 163.75,386.50 C164.69,386.50 165.62,386.50 166.56,386.50 C167.50,386.50 168.44,386.50 169.37,386.50 C170.31,386.50 171.25,386.50 172.19,386.50 C173.12,386.50 174.06,386.50 175.00,386.50 C175.94,386.50 176.87,386.50 177.81,386.50 C178.75,386.50 179.69,386.50 180.62,386.50 C181.56,386.50 182.97,386.50 183.44,386.50" fill="none" stroke="#5ab0e8" stroke-width="1.05" stroke-linejoin="round"/>
<path d="M44.60,430.60 C45.17,438.65 46.88,476.10 48.00,478.90 C49.12,481.70 50.55,456.77 51.30,447.40 C52.05,438.03 51.93,430.18 52.50,422.70 C53.07,415.22 53.95,407.37 54.70,402.50 C55.45,397.63 56.07,395.83 57.00,393.50 C57.93,391.17 59.18,389.55 60.30,388.50 C61.42,387.45 61.25,387.55 63.70,387.20 C66.15,386.85 72.78,386.52 75.00,386.40 C77.22,386.28 76.23,386.48 77.04,386.50 C77.85,386.52 78.92,386.50 79.85,386.50 C80.79,386.50 81.73,386.50 82.66,386.50 C83.60,386.50 84.54,386.50 85.48,386.50 C86.41,386.50 87.35,386.50 88.29,386.50 C89.23,386.50 90.16,386.50 91.10,386.50 C92.04,386.50 92.98,386.50 93.91,386.50 C94.85,386.50 95.79,386.50 96.73,386.50 C97.66,386.50 98.60,386.50 99.54,386.50 C100.48,386.50 101.41,386.50 102.35,386.50 C103.29,386.50 104.22,386.50 105.16,386.50 C106.10,386.50 107.04,386.50 107.97,386.50 C108.91,386.50 109.85,386.50 110.79,386.50 C111.72,386.50 112.66,386.50 113.60,386.50 C114.54,386.50 115.47,386.50 116.41,386.50 C117.35,386.50 118.29,386.50 119.22,386.50 C120.16,386.50 121.10,386.50 122.04,386.50 C122.97,386.50 123.91,386.50 124.85,386.50 C125.79,386.50 126.72,386.47 127.66,386.50 C128.60,386.53 129.53,386.59 130.47,386.68 C131.41,386.77 132.35,386.92 133.28,387.02 C134.22,387.12 135.16,387.21 136.10,387.29 C137.03,387.36 137.97,387.42 138.91,387.45 C139.85,387.49 140.78,387.51 141.72,387.50 C142.66,387.49 143.60,387.46 144.53,387.41 C145.47,387.36 146.41,387.29 147.35,387.21 C148.28,387.12 149.22,387.02 150.16,386.91 C151.09,386.80 152.03,386.63 152.97,386.56 C153.91,386.49 154.84,386.51 155.78,386.50 C156.72,386.49 157.66,386.50 158.59,386.50 C159.53,386.50 160.47,386.50 161.41,386.50 C162.34,386.50 163.28,386.50 164.22,386.50 C165.16,386.50 166.09,386.50 167.03,386.50 C167.97,386.50 168.91,386.50 169.84,386.50 C170.78,386.50 171.72,386.50 172.66,386.50 C173.59,386.50 174.53,386.50 175.47,386.50 C176.40,386.50 177.34,386.50 178.28,386.50 C179.22,386.50 180.15,386.50 181.09,386.50 C182.03,386.50 183.44,386.50 183.90,386.50" fill="none" stroke="#e8505b" stroke-width="1.05" stroke-linejoin="round"/>
<path d="M44.60,437.30 C45.17,444.23 46.98,476.08 48.00,478.90 C49.02,481.72 49.95,462.82 50.70,454.20 C51.45,445.58 51.83,435.07 52.50,427.20 C53.17,419.33 53.77,412.25 54.70,407.00 C55.63,401.75 56.78,398.63 58.10,395.70 C59.42,392.77 60.92,390.82 62.60,389.40 C64.28,387.98 65.30,387.70 68.20,387.20 C71.10,386.70 77.67,386.52 80.00,386.40 C82.33,386.28 81.36,386.48 82.20,386.50 C83.03,386.52 84.07,386.50 85.01,386.50 C85.95,386.50 86.88,386.50 87.82,386.50 C88.76,386.50 89.70,386.50 90.63,386.50 C91.57,386.50 92.51,386.50 93.44,386.50 C94.38,386.50 95.32,386.50 96.26,386.50 C97.19,386.50 98.13,386.50 99.07,386.50 C100.01,386.50 100.94,386.50 101.88,386.50 C102.82,386.50 103.76,386.50 104.69,386.50 C105.63,386.50 106.57,386.50 107.51,386.50 C108.44,386.50 109.38,386.50 110.32,386.50 C111.26,386.50 112.19,386.50 113.13,386.50 C114.07,386.50 115.01,386.50 115.94,386.50 C116.88,386.50 117.82,386.50 118.75,386.50 C119.69,386.50 120.63,386.50 121.57,386.50 C122.50,386.50 123.44,386.50 124.38,386.50 C125.32,386.50 126.25,386.47 127.19,386.50 C128.13,386.53 129.07,386.56 130.00,386.67 C130.94,386.78 131.88,387.00 132.82,387.15 C133.75,387.30 134.69,387.44 135.63,387.55 C136.57,387.66 137.50,387.75 138.44,387.81 C139.38,387.87 140.31,387.90 141.25,387.90 C142.19,387.90 143.13,387.87 144.06,387.81 C145.00,387.75 145.94,387.66 146.88,387.55 C147.81,387.44 148.75,387.30 149.69,387.15 C150.63,387.00 151.56,386.78 152.50,386.67 C153.44,386.56 154.38,386.53 155.31,386.50 C156.25,386.47 157.19,386.50 158.13,386.50 C159.06,386.50 160.00,386.50 160.94,386.50 C161.88,386.50 162.81,386.50 163.75,386.50 C164.69,386.50 165.62,386.50 166.56,386.50 C167.50,386.50 168.44,386.50 169.37,386.50 C170.31,386.50 171.25,386.50 172.19,386.50 C173.12,386.50 174.06,386.50 175.00,386.50 C175.94,386.50 176.87,386.50 177.81,386.50 C178.75,386.50 179.69,386.50 180.62,386.50 C181.56,386.50 182.97,386.50 183.44,386.50" fill="none" stroke="#9a5ad8" stroke-width="1.05" stroke-linejoin="round"/>
<text x="37.10" y="380.40" font-size="7.2" font-weight="bold" fill="#111" text-anchor="start" textLength="37.00" lengthAdjust="spacingAndGlyphs" >DTG curves</text>
<line x1="71.10" y1="396.00" x2="90.90" y2="396.00" stroke="#e8505b" stroke-width="1.0" />
<text x="93.10" y="398.70" font-size="7.8" font-weight="bold" fill="#111" text-anchor="start" textLength="31.55" lengthAdjust="spacingAndGlyphs" >Na-LTA-6</text>
<line x1="71.10" y1="405.60" x2="90.90" y2="405.60" stroke="#5ab0e8" stroke-width="1.0" />
<text x="93.10" y="408.30" font-size="7.8" font-weight="bold" fill="#111" text-anchor="start" textLength="33.13" lengthAdjust="spacingAndGlyphs" >Na-CHA-6</text>
<line x1="71.10" y1="415.30" x2="90.90" y2="415.30" stroke="#f0a040" stroke-width="1.0" />
<text x="93.10" y="418.00" font-size="7.8" font-weight="bold" fill="#111" text-anchor="start" textLength="34.31" lengthAdjust="spacingAndGlyphs" >Na-MOR-6</text>
<line x1="71.10" y1="425.00" x2="90.90" y2="425.00" stroke="#9a5ad8" stroke-width="1.0" />
<text x="93.10" y="427.70" font-size="7.8" font-weight="bold" fill="#111" text-anchor="start" textLength="32.34" lengthAdjust="spacingAndGlyphs" >Na-FAU-6</text>
<line x1="31.20" y1="386.20" x2="33.40" y2="386.20" stroke="#000" stroke-width="1" />
<text x="29.80" y="388.90" font-size="7.6" font-weight="bold" fill="#111" text-anchor="end" >0.0</text>
<line x1="31.20" y1="419.40" x2="33.40" y2="419.40" stroke="#000" stroke-width="1" />
<text x="29.80" y="422.10" font-size="7.6" font-weight="bold" fill="#111" text-anchor="end" >-0.5</text>
<line x1="31.20" y1="452.60" x2="33.40" y2="452.60" stroke="#000" stroke-width="1" />
<text x="29.80" y="455.30" font-size="7.6" font-weight="bold" fill="#111" text-anchor="end" >-1.0</text>
<line x1="31.20" y1="485.80" x2="33.40" y2="485.80" stroke="#000" stroke-width="1" />
<text x="29.80" y="488.50" font-size="7.6" font-weight="bold" fill="#111" text-anchor="end" >-1.5</text>
<line x1="32.00" y1="402.80" x2="33.40" y2="402.80" stroke="#000" stroke-width="0.9" />
<line x1="32.00" y1="436.00" x2="33.40" y2="436.00" stroke="#000" stroke-width="0.9" />
<line x1="32.00" y1="469.20" x2="33.40" y2="469.20" stroke="#000" stroke-width="0.9" />
<line x1="197.00" y1="492.20" x2="199.20" y2="492.20" stroke="#bb5c2a" stroke-width="1" />
<text x="201.20" y="494.90" font-size="7.6" font-weight="bold" fill="#bb5c2a" text-anchor="start" >0</text>
<line x1="197.00" y1="473.35" x2="199.20" y2="473.35" stroke="#bb5c2a" stroke-width="1" />
<text x="201.20" y="476.05" font-size="7.6" font-weight="bold" fill="#bb5c2a" text-anchor="start" >100</text>
<line x1="197.00" y1="454.50" x2="199.20" y2="454.50" stroke="#bb5c2a" stroke-width="1" />
<text x="201.20" y="457.20" font-size="7.6" font-weight="bold" fill="#bb5c2a" text-anchor="start" >200</text>
<line x1="197.00" y1="435.65" x2="199.20" y2="435.65" stroke="#bb5c2a" stroke-width="1" />
<text x="201.20" y="438.35" font-size="7.6" font-weight="bold" fill="#bb5c2a" text-anchor="start" >300</text>
<line x1="197.00" y1="416.80" x2="199.20" y2="416.80" stroke="#bb5c2a" stroke-width="1" />
<text x="201.20" y="419.50" font-size="7.6" font-weight="bold" fill="#bb5c2a" text-anchor="start" >400</text>
<line x1="197.00" y1="397.95" x2="199.20" y2="397.95" stroke="#bb5c2a" stroke-width="1" />
<text x="201.20" y="400.65" font-size="7.6" font-weight="bold" fill="#bb5c2a" text-anchor="start" >500</text>
<line x1="197.00" y1="379.10" x2="199.20" y2="379.10" stroke="#bb5c2a" stroke-width="1" />
<text x="201.20" y="381.80" font-size="7.6" font-weight="bold" fill="#bb5c2a" text-anchor="start" >600</text>
<line x1="197.00" y1="482.77" x2="198.40" y2="482.77" stroke="#bb5c2a" stroke-width="0.9" />
<line x1="197.00" y1="463.93" x2="198.40" y2="463.93" stroke="#bb5c2a" stroke-width="0.9" />
<line x1="197.00" y1="445.07" x2="198.40" y2="445.07" stroke="#bb5c2a" stroke-width="0.9" />
<line x1="197.00" y1="426.23" x2="198.40" y2="426.23" stroke="#bb5c2a" stroke-width="0.9" />
<line x1="197.00" y1="407.38" x2="198.40" y2="407.38" stroke="#bb5c2a" stroke-width="0.9" />
<line x1="197.00" y1="388.52" x2="198.40" y2="388.52" stroke="#bb5c2a" stroke-width="0.9" />
<line x1="44.70" y1="502.00" x2="44.70" y2="504.20" stroke="#000" stroke-width="1" />
<text x="44.70" y="512.40" font-size="7.6" font-weight="bold" fill="#111" text-anchor="middle" >0</text>
<line x1="68.14" y1="502.00" x2="68.14" y2="504.20" stroke="#000" stroke-width="1" />
<text x="68.14" y="512.40" font-size="7.6" font-weight="bold" fill="#111" text-anchor="middle" >50</text>
<line x1="91.57" y1="502.00" x2="91.57" y2="504.20" stroke="#000" stroke-width="1" />
<text x="91.57" y="512.40" font-size="7.6" font-weight="bold" fill="#111" text-anchor="middle" >100</text>
<line x1="115.01" y1="502.00" x2="115.01" y2="504.20" stroke="#000" stroke-width="1" />
<text x="115.01" y="512.40" font-size="7.6" font-weight="bold" fill="#111" text-anchor="middle" >150</text>
<line x1="138.44" y1="502.00" x2="138.44" y2="504.20" stroke="#000" stroke-width="1" />
<text x="138.44" y="512.40" font-size="7.6" font-weight="bold" fill="#111" text-anchor="middle" >200</text>
<line x1="161.88" y1="502.00" x2="161.88" y2="504.20" stroke="#000" stroke-width="1" />
<text x="161.88" y="512.40" font-size="7.6" font-weight="bold" fill="#111" text-anchor="middle" >250</text>
<line x1="185.31" y1="502.00" x2="185.31" y2="504.20" stroke="#000" stroke-width="1" />
<text x="185.31" y="512.40" font-size="7.6" font-weight="bold" fill="#111" text-anchor="middle" >300</text>
<line x1="56.42" y1="502.00" x2="56.42" y2="503.40" stroke="#000" stroke-width="0.9" />
<line x1="79.85" y1="502.00" x2="79.85" y2="503.40" stroke="#000" stroke-width="0.9" />
<line x1="103.29" y1="502.00" x2="103.29" y2="503.40" stroke="#000" stroke-width="0.9" />
<line x1="126.72" y1="502.00" x2="126.72" y2="503.40" stroke="#000" stroke-width="0.9" />
<line x1="150.16" y1="502.00" x2="150.16" y2="503.40" stroke="#000" stroke-width="0.9" />
<line x1="173.59" y1="502.00" x2="173.59" y2="503.40" stroke="#000" stroke-width="0.9" />
<text x="115.40" y="524.50" font-size="8.4" font-weight="bold" fill="#111" text-anchor="middle" textLength="41.20" lengthAdjust="spacingAndGlyphs" >Time (min)</text>
<polyline points="197.0,369.8 33.4,369.8 33.4,502.0 197.0,502.0" fill="none" stroke="#000" stroke-width="1.3"/>
<line x1="197.00" y1="369.20" x2="197.00" y2="502.60" stroke="#bb5c2a" stroke-width="1.3" />
<text transform="translate(13.40,435.90) rotate(-90)" font-size="8.4" font-weight="bold" fill="#111" text-anchor="middle" textLength="24.5" lengthAdjust="spacingAndGlyphs">dm/dt</text>
<text transform="translate(217.20,433.40) rotate(90)" font-size="8.6" font-weight="bold" fill="#bb5c2a" text-anchor="middle" textLength="70" lengthAdjust="spacingAndGlyphs">Temperature (<tspan font-size="5.6" dy="-2.8">o</tspan><tspan dy="2.8">C)</tspan></text>
<rect x="111.0" y="439.8" width="57.10" height="43.60" fill="#fff" stroke="none"/>
<polyline points="111.00,478.00 120.90,478.00 144.50,444.70 166.58,444.70" fill="none" stroke="#bb5c2a" stroke-width="1"/>
<path d="M111.00,447.00 C112.17,447.00 116.42,447.13 118.00,447.00 C119.58,446.87 119.67,445.95 120.50,446.20 C121.33,446.45 122.13,447.45 123.00,448.50 C123.87,449.55 124.53,452.08 125.70,452.50 C126.87,452.92 128.70,450.88 130.00,451.00 C131.30,451.12 132.45,452.02 133.50,453.20 C134.55,454.38 135.60,456.12 136.30,458.10 C137.00,460.08 137.23,463.00 137.70,465.10 C138.17,467.20 138.63,470.93 139.10,470.70 C139.57,470.47 139.92,466.27 140.50,463.70 C141.08,461.13 141.55,457.52 142.60,455.30 C143.65,453.08 144.70,451.45 146.80,450.40 C148.90,449.35 151.92,449.35 155.20,449.00 C158.48,448.65 164.62,448.42 166.50,448.30" fill="none" stroke="#5ab0e8" stroke-width="0.9"/>
<path d="M111.00,447.50 C112.17,447.50 116.42,447.75 118.00,447.50 C119.58,447.25 119.45,445.63 120.50,446.00 C121.55,446.37 123.08,448.27 124.30,449.70 C125.52,451.13 126.82,453.08 127.80,454.60 C128.78,456.12 129.37,458.57 130.20,458.80 C131.03,459.03 131.90,456.00 132.80,456.00 C133.70,456.00 134.67,458.57 135.60,458.80 C136.53,459.03 137.47,458.10 138.40,457.40 C139.33,456.70 139.80,455.77 141.20,454.60 C142.60,453.43 142.58,451.45 146.80,450.40 C151.02,449.35 163.22,448.65 166.50,448.30" fill="none" stroke="#f0a040" stroke-width="0.9"/>
<path d="M111.00,447.50 C112.17,447.50 116.42,447.78 118.00,447.50 C119.58,447.22 119.45,444.97 120.50,445.80 C121.55,446.63 123.20,450.10 124.30,452.50 C125.40,454.90 126.05,457.92 127.10,460.20 C128.15,462.48 129.53,465.62 130.60,466.20 C131.67,466.78 132.43,464.58 133.50,463.70 C134.57,462.82 135.72,461.83 137.00,460.90 C138.28,459.97 139.80,459.50 141.20,458.10 C142.60,456.70 143.77,453.78 145.40,452.50 C147.03,451.22 147.48,450.98 151.00,450.40 C154.52,449.82 163.92,449.23 166.50,449.00" fill="none" stroke="#e8505b" stroke-width="0.9"/>
<path d="M111.00,448.00 C112.17,448.00 116.33,448.08 118.00,448.00 C119.67,447.92 120.07,446.28 121.00,447.50 C121.93,448.72 122.82,451.43 123.60,455.30 C124.38,459.17 125.00,467.20 125.70,470.70 C126.40,474.20 127.08,475.25 127.80,476.30 C128.52,477.35 129.17,477.70 130.00,477.00 C130.83,476.30 132.10,473.38 132.80,472.10 C133.50,470.82 133.50,470.00 134.20,469.30 C134.90,468.60 136.07,468.37 137.00,467.90 C137.93,467.43 138.87,467.67 139.80,466.50 C140.73,465.33 141.67,462.30 142.60,460.90 C143.53,459.50 144.47,459.38 145.40,458.10 C146.33,456.82 146.57,454.37 148.20,453.20 C149.83,452.03 152.15,451.68 155.20,451.10 C158.25,450.52 164.62,449.93 166.50,449.70" fill="none" stroke="#9a5ad8" stroke-width="0.9"/>
<line x1="109.20" y1="447.10" x2="111.00" y2="447.10" stroke="#000" stroke-width="0.9" />
<text x="108.40" y="449.30" font-size="6.2" font-weight="bold" fill="#111" text-anchor="end" >0.00</text>
<line x1="109.20" y1="461.60" x2="111.00" y2="461.60" stroke="#000" stroke-width="0.9" />
<text x="108.40" y="463.80" font-size="6.2" font-weight="bold" fill="#111" text-anchor="end" >-0.01</text>
<line x1="109.20" y1="476.10" x2="111.00" y2="476.10" stroke="#000" stroke-width="0.9" />
<text x="108.40" y="478.30" font-size="6.2" font-weight="bold" fill="#111" text-anchor="end" >-0.02</text>
<line x1="168.10" y1="478.00" x2="169.90" y2="478.00" stroke="#bb5c2a" stroke-width="0.9" />
<text x="170.90" y="480.20" font-size="6.2" font-weight="bold" fill="#bb5c2a" text-anchor="start" >300</text>
<line x1="168.10" y1="466.90" x2="169.90" y2="466.90" stroke="#bb5c2a" stroke-width="0.9" />
<text x="170.90" y="469.10" font-size="6.2" font-weight="bold" fill="#bb5c2a" text-anchor="start" >400</text>
<line x1="168.10" y1="455.80" x2="169.90" y2="455.80" stroke="#bb5c2a" stroke-width="0.9" />
<text x="170.90" y="458.00" font-size="6.2" font-weight="bold" fill="#bb5c2a" text-anchor="start" >500</text>
<line x1="168.10" y1="444.70" x2="169.90" y2="444.70" stroke="#bb5c2a" stroke-width="0.9" />
<text x="170.90" y="446.90" font-size="6.2" font-weight="bold" fill="#bb5c2a" text-anchor="start" >600</text>
<line x1="111.00" y1="483.40" x2="111.00" y2="485.20" stroke="#000" stroke-width="0.9" />
<text x="111.00" y="491.60" font-size="6.4" font-weight="bold" fill="#111" text-anchor="middle" >150</text>
<line x1="130.03" y1="483.40" x2="130.03" y2="485.20" stroke="#000" stroke-width="0.9" />
<text x="130.03" y="491.60" font-size="6.4" font-weight="bold" fill="#111" text-anchor="middle" >200</text>
<line x1="149.07" y1="483.40" x2="149.07" y2="485.20" stroke="#000" stroke-width="0.9" />
<text x="149.07" y="491.60" font-size="6.4" font-weight="bold" fill="#111" text-anchor="middle" >250</text>
<line x1="168.10" y1="483.40" x2="168.10" y2="485.20" stroke="#000" stroke-width="0.9" />
<text x="168.10" y="491.60" font-size="6.4" font-weight="bold" fill="#111" text-anchor="middle" >300</text>
<text x="139.55" y="498.80" font-size="7.6" font-weight="bold" fill="#111" text-anchor="middle" >Time (min)</text>
<polyline points="168.1,439.8 111.0,439.8 111.0,483.4 168.1,483.4" fill="none" stroke="#000" stroke-width="1"/>
<line x1="168.10" y1="439.30" x2="168.10" y2="483.90" stroke="#bb5c2a" stroke-width="1" />
<text transform="translate(92.10,462.20) rotate(-90)" font-size="7.4" font-weight="bold" fill="#111" text-anchor="middle" textLength="20.2" lengthAdjust="spacingAndGlyphs">dm/dt</text>
<text transform="translate(183.50,461.90) rotate(90)" font-size="7.3" font-weight="bold" fill="#bb5c2a" text-anchor="middle" textLength="54" lengthAdjust="spacingAndGlyphs">Temperature (<tspan font-size="4.6" dy="-2.3">o</tspan><tspan dy="2.3">C)</tspan></text>
<polyline points="273.40,485.88 299.03,435.31 354.95,435.31 383.14,379.12 410.87,379.12" stroke="#bb5c2a" stroke-width="1.1" fill="none" stroke-linejoin="round" />
<path d="M272.80,431.90 C273.33,431.25 275.03,429.08 276.00,428.00 C276.97,426.92 277.95,425.40 278.60,425.40 C279.25,425.40 279.47,428.67 279.90,428.00 C280.33,427.33 280.53,425.33 281.20,421.40 C281.87,417.47 282.80,408.98 283.90,404.40 C285.00,399.82 286.50,396.10 287.80,393.90 C289.10,391.70 290.17,391.65 291.70,391.20 C293.23,390.75 295.25,391.55 297.00,391.20 C298.75,390.85 300.03,389.53 302.20,389.10 C304.37,388.67 308.35,388.65 310.00,388.60 C311.65,388.55 311.27,388.77 312.08,388.80 C312.89,388.83 313.94,388.80 314.87,388.80 C315.81,388.80 316.74,388.80 317.67,388.80 C318.60,388.80 319.53,388.80 320.47,388.80 C321.40,388.80 322.33,388.80 323.26,388.80 C324.19,388.80 325.13,388.80 326.06,388.80 C326.99,388.80 327.92,388.80 328.85,388.80 C329.79,388.80 330.72,388.80 331.65,388.80 C332.58,388.80 333.51,388.80 334.45,388.80 C335.38,388.80 336.31,388.80 337.24,388.80 C338.17,388.80 339.11,388.80 340.04,388.80 C340.97,388.80 341.90,388.80 342.83,388.80 C343.77,388.80 344.70,388.80 345.63,388.80 C346.56,388.80 347.49,388.80 348.43,388.80 C349.36,388.80 350.29,388.80 351.22,388.80 C352.15,388.80 353.09,388.80 354.02,388.80 C354.95,388.80 355.88,388.69 356.81,388.80 C357.75,388.91 358.68,389.23 359.61,389.45 C360.54,389.68 361.47,389.95 362.41,390.16 C363.34,390.36 364.27,390.55 365.20,390.68 C366.13,390.82 367.07,390.92 368.00,390.96 C368.93,391.01 369.86,391.01 370.79,390.96 C371.73,390.92 372.66,390.82 373.59,390.68 C374.52,390.55 375.45,390.36 376.39,390.16 C377.32,389.95 378.25,389.68 379.18,389.45 C380.11,389.23 381.05,388.91 381.98,388.80 C382.91,388.69 383.84,388.80 384.77,388.80 C385.71,388.80 386.64,388.80 387.57,388.80 C388.50,388.80 389.43,388.80 390.37,388.80 C391.30,388.80 392.23,388.80 393.16,388.80 C394.09,388.80 395.03,388.80 395.96,388.80 C396.89,388.80 397.82,388.80 398.75,388.80 C399.69,388.80 400.62,388.80 401.55,388.80 C402.48,388.80 403.41,388.80 404.35,388.80 C405.28,388.80 406.21,388.80 407.14,388.80 C408.07,388.80 409.47,388.80 409.94,388.80" fill="none" stroke="#f0a040" stroke-width="1.05" stroke-linejoin="round"/>
<path d="M272.80,462.10 C273.12,459.03 273.95,449.60 274.70,443.70 C275.45,437.80 276.57,429.75 277.30,426.70 C278.03,423.65 278.45,424.08 279.10,425.40 C279.75,426.72 280.40,435.92 281.20,434.60 C282.00,433.28 282.80,422.53 283.90,417.50 C285.00,412.47 286.27,407.47 287.80,404.40 C289.33,401.33 291.35,400.85 293.10,399.10 C294.85,397.35 296.55,395.43 298.30,393.90 C300.05,392.37 301.32,390.78 303.60,389.90 C305.88,389.02 310.28,388.78 312.00,388.60 C313.72,388.42 313.15,388.77 313.94,388.80 C314.73,388.83 315.81,388.80 316.74,388.80 C317.67,388.80 318.60,388.80 319.53,388.80 C320.47,388.80 321.40,388.80 322.33,388.80 C323.26,388.80 324.19,388.80 325.13,388.80 C326.06,388.80 326.99,388.80 327.92,388.80 C328.85,388.80 329.79,388.80 330.72,388.80 C331.65,388.80 332.58,388.80 333.51,388.80 C334.45,388.80 335.38,388.80 336.31,388.80 C337.24,388.80 338.17,388.80 339.11,388.80 C340.04,388.80 340.97,388.80 341.90,388.80 C342.83,388.80 343.77,388.80 344.70,388.80 C345.63,388.80 346.56,388.80 347.49,388.80 C348.43,388.80 349.36,388.80 350.29,388.80 C351.22,388.80 352.15,388.80 353.09,388.80 C354.02,388.80 354.95,388.75 355.88,388.80 C356.81,388.85 357.75,388.94 358.68,389.07 C359.61,389.20 360.54,389.42 361.47,389.58 C362.41,389.73 363.34,389.87 364.27,389.98 C365.20,390.09 366.13,390.18 367.07,390.23 C368.00,390.28 368.93,390.31 369.86,390.30 C370.79,390.29 371.73,390.24 372.66,390.17 C373.59,390.10 374.52,389.99 375.45,389.86 C376.39,389.74 377.32,389.58 378.25,389.42 C379.18,389.25 380.11,388.99 381.05,388.89 C381.98,388.79 382.91,388.82 383.84,388.80 C384.77,388.78 385.71,388.80 386.64,388.80 C387.57,388.80 388.50,388.80 389.43,388.80 C390.37,388.80 391.30,388.80 392.23,388.80 C393.16,388.80 394.09,388.80 395.03,388.80 C395.96,388.80 396.89,388.80 397.82,388.80 C398.75,388.80 399.69,388.80 400.62,388.80 C401.55,388.80 402.48,388.80 403.41,388.80 C404.35,388.80 405.28,388.80 406.21,388.80 C407.14,388.80 408.07,388.80 409.01,388.80 C409.94,388.80 411.34,388.80 411.80,388.80" fill="none" stroke="#5ab0e8" stroke-width="1.05" stroke-linejoin="round"/>
<path d="M272.80,438.50 C273.12,441.57 273.82,450.78 274.70,456.90 C275.58,463.02 277.23,473.90 278.10,475.20 C278.97,476.50 279.15,472.13 279.90,464.70 C280.65,457.27 281.72,439.78 282.60,430.60 C283.48,421.42 284.12,415.28 285.20,409.60 C286.28,403.92 287.57,399.57 289.10,396.50 C290.63,393.43 292.43,392.38 294.40,391.20 C296.37,390.02 298.30,389.83 300.90,389.40 C303.50,388.97 308.14,388.70 310.00,388.60 C311.86,388.50 311.27,388.77 312.08,388.80 C312.89,388.83 313.94,388.80 314.87,388.80 C315.81,388.80 316.74,388.80 317.67,388.80 C318.60,388.80 319.53,388.80 320.47,388.80 C321.40,388.80 322.33,388.80 323.26,388.80 C324.19,388.80 325.13,388.80 326.06,388.80 C326.99,388.80 327.92,388.80 328.85,388.80 C329.79,388.80 330.72,388.80 331.65,388.80 C332.58,388.80 333.51,388.80 334.45,388.80 C335.38,388.80 336.31,388.80 337.24,388.80 C338.17,388.80 339.11,388.80 340.04,388.80 C340.97,388.80 341.90,388.80 342.83,388.80 C343.77,388.80 344.70,388.80 345.63,388.80 C346.56,388.80 347.49,388.80 348.43,388.80 C349.36,388.80 350.29,388.80 351.22,388.80 C352.15,388.80 353.09,388.80 354.02,388.80 C354.95,388.80 355.88,388.75 356.81,388.80 C357.75,388.85 358.68,388.99 359.61,389.10 C360.54,389.20 361.47,389.32 362.41,389.42 C363.34,389.51 364.27,389.59 365.20,389.66 C366.13,389.72 367.07,389.76 368.00,389.78 C368.93,389.80 369.86,389.80 370.79,389.78 C371.73,389.76 372.66,389.72 373.59,389.66 C374.52,389.59 375.45,389.51 376.39,389.42 C377.32,389.32 378.25,389.20 379.18,389.10 C380.11,388.99 381.05,388.85 381.98,388.80 C382.91,388.75 383.84,388.80 384.77,388.80 C385.71,388.80 386.64,388.80 387.57,388.80 C388.50,388.80 389.43,388.80 390.37,388.80 C391.30,388.80 392.23,388.80 393.16,388.80 C394.09,388.80 395.03,388.80 395.96,388.80 C396.89,388.80 397.82,388.80 398.75,388.80 C399.69,388.80 400.62,388.80 401.55,388.80 C402.48,388.80 403.41,388.80 404.35,388.80 C405.28,388.80 406.21,388.80 407.14,388.80 C408.07,388.80 409.47,388.80 409.94,388.80" fill="none" stroke="#e8505b" stroke-width="1.05" stroke-linejoin="round"/>
<path d="M272.80,442.40 C273.33,448.75 275.03,475.90 276.00,480.50 C276.97,485.10 277.73,477.00 278.60,470.00 C279.47,463.00 280.23,448.13 281.20,438.50 C282.17,428.87 283.17,418.98 284.40,412.20 C285.63,405.42 286.93,401.30 288.60,397.80 C290.27,394.30 292.35,392.60 294.40,391.20 C296.45,389.80 298.30,389.83 300.90,389.40 C303.50,388.97 308.14,388.70 310.00,388.60 C311.86,388.50 311.27,388.77 312.08,388.80 C312.89,388.83 313.94,388.80 314.87,388.80 C315.81,388.80 316.74,388.80 317.67,388.80 C318.60,388.80 319.53,388.80 320.47,388.80 C321.40,388.80 322.33,388.80 323.26,388.80 C324.19,388.80 325.13,388.80 326.06,388.80 C326.99,388.80 327.92,388.80 328.85,388.80 C329.79,388.80 330.72,388.80 331.65,388.80 C332.58,388.80 333.51,388.80 334.45,388.80 C335.38,388.80 336.31,388.80 337.24,388.80 C338.17,388.80 339.11,388.80 340.04,388.80 C340.97,388.80 341.90,388.80 342.83,388.80 C343.77,388.80 344.70,388.80 345.63,388.80 C346.56,388.80 347.49,388.80 348.43,388.80 C349.36,388.80 350.29,388.80 351.22,388.80 C352.15,388.80 353.09,388.80 354.02,388.80 C354.95,388.80 355.88,388.73 356.81,388.80 C357.75,388.87 358.68,389.07 359.61,389.22 C360.54,389.36 361.47,389.53 362.41,389.66 C363.34,389.79 364.27,389.91 365.20,390.00 C366.13,390.08 367.07,390.15 368.00,390.18 C368.93,390.21 369.86,390.21 370.79,390.18 C371.73,390.15 372.66,390.08 373.59,390.00 C374.52,389.91 375.45,389.79 376.39,389.66 C377.32,389.53 378.25,389.36 379.18,389.22 C380.11,389.07 381.05,388.87 381.98,388.80 C382.91,388.73 383.84,388.80 384.77,388.80 C385.71,388.80 386.64,388.80 387.57,388.80 C388.50,388.80 389.43,388.80 390.37,388.80 C391.30,388.80 392.23,388.80 393.16,388.80 C394.09,388.80 395.03,388.80 395.96,388.80 C396.89,388.80 397.82,388.80 398.75,388.80 C399.69,388.80 400.62,388.80 401.55,388.80 C402.48,388.80 403.41,388.80 404.35,388.80 C405.28,388.80 406.21,388.80 407.14,388.80 C408.07,388.80 409.47,388.80 409.94,388.80" fill="none" stroke="#9a5ad8" stroke-width="1.05" stroke-linejoin="round"/>
<text x="265.90" y="380.40" font-size="7.2" font-weight="bold" fill="#111" text-anchor="start" textLength="37.00" lengthAdjust="spacingAndGlyphs" >DTG curves</text>
<line x1="300.90" y1="398.20" x2="320.60" y2="398.20" stroke="#e8505b" stroke-width="1.0" />
<text x="322.70" y="400.90" font-size="7.8" font-weight="bold" fill="#111" text-anchor="start" textLength="31.55" lengthAdjust="spacingAndGlyphs" >Ca-LTA-6</text>
<line x1="300.90" y1="407.80" x2="320.60" y2="407.80" stroke="#5ab0e8" stroke-width="1.0" />
<text x="322.70" y="410.50" font-size="7.8" font-weight="bold" fill="#111" text-anchor="start" textLength="33.13" lengthAdjust="spacingAndGlyphs" >Ca-CHA-6</text>
<line x1="300.90" y1="417.50" x2="320.60" y2="417.50" stroke="#f0a040" stroke-width="1.0" />
<text x="322.70" y="420.20" font-size="7.8" font-weight="bold" fill="#111" text-anchor="start" textLength="34.31" lengthAdjust="spacingAndGlyphs" >Ca-MOR-6</text>
<line x1="300.90" y1="427.20" x2="320.60" y2="427.20" stroke="#9a5ad8" stroke-width="1.0" />
<text x="322.70" y="429.90" font-size="7.8" font-weight="bold" fill="#111" text-anchor="start" textLength="32.34" lengthAdjust="spacingAndGlyphs" >Ca-FAU-6</text>
<line x1="260.00" y1="388.50" x2="262.20" y2="388.50" stroke="#000" stroke-width="1" />
<text x="258.60" y="391.20" font-size="7.6" font-weight="bold" fill="#111" text-anchor="end" >0.0</text>
<line x1="260.00" y1="426.20" x2="262.20" y2="426.20" stroke="#000" stroke-width="1" />
<text x="258.60" y="428.90" font-size="7.6" font-weight="bold" fill="#111" text-anchor="end" >-0.5</text>
<line x1="260.00" y1="463.90" x2="262.20" y2="463.90" stroke="#000" stroke-width="1" />
<text x="258.60" y="466.60" font-size="7.6" font-weight="bold" fill="#111" text-anchor="end" >-1.0</text>
<line x1="260.00" y1="501.60" x2="262.20" y2="501.60" stroke="#000" stroke-width="1" />
<text x="258.60" y="504.30" font-size="7.6" font-weight="bold" fill="#111" text-anchor="end" >-1.5</text>
<line x1="260.80" y1="407.35" x2="262.20" y2="407.35" stroke="#000" stroke-width="0.9" />
<line x1="260.80" y1="445.05" x2="262.20" y2="445.05" stroke="#000" stroke-width="0.9" />
<line x1="260.80" y1="482.75" x2="262.20" y2="482.75" stroke="#000" stroke-width="0.9" />
<line x1="260.80" y1="369.65" x2="262.20" y2="369.65" stroke="#000" stroke-width="0.9" />
<line x1="425.50" y1="491.50" x2="427.70" y2="491.50" stroke="#bb5c2a" stroke-width="1" />
<text x="429.70" y="494.20" font-size="7.6" font-weight="bold" fill="#bb5c2a" text-anchor="start" >0</text>
<line x1="425.50" y1="472.77" x2="427.70" y2="472.77" stroke="#bb5c2a" stroke-width="1" />
<text x="429.70" y="475.47" font-size="7.6" font-weight="bold" fill="#bb5c2a" text-anchor="start" >100</text>
<line x1="425.50" y1="454.04" x2="427.70" y2="454.04" stroke="#bb5c2a" stroke-width="1" />
<text x="429.70" y="456.74" font-size="7.6" font-weight="bold" fill="#bb5c2a" text-anchor="start" >200</text>
<line x1="425.50" y1="435.31" x2="427.70" y2="435.31" stroke="#bb5c2a" stroke-width="1" />
<text x="429.70" y="438.01" font-size="7.6" font-weight="bold" fill="#bb5c2a" text-anchor="start" >300</text>
<line x1="425.50" y1="416.58" x2="427.70" y2="416.58" stroke="#bb5c2a" stroke-width="1" />
<text x="429.70" y="419.28" font-size="7.6" font-weight="bold" fill="#bb5c2a" text-anchor="start" >400</text>
<line x1="425.50" y1="397.85" x2="427.70" y2="397.85" stroke="#bb5c2a" stroke-width="1" />
<text x="429.70" y="400.55" font-size="7.6" font-weight="bold" fill="#bb5c2a" text-anchor="start" >500</text>
<line x1="425.50" y1="379.12" x2="427.70" y2="379.12" stroke="#bb5c2a" stroke-width="1" />
<text x="429.70" y="381.82" font-size="7.6" font-weight="bold" fill="#bb5c2a" text-anchor="start" >600</text>
<line x1="425.50" y1="482.13" x2="426.90" y2="482.13" stroke="#bb5c2a" stroke-width="0.9" />
<line x1="425.50" y1="463.40" x2="426.90" y2="463.40" stroke="#bb5c2a" stroke-width="0.9" />
<line x1="425.50" y1="444.68" x2="426.90" y2="444.68" stroke="#bb5c2a" stroke-width="0.9" />
<line x1="425.50" y1="425.94" x2="426.90" y2="425.94" stroke="#bb5c2a" stroke-width="0.9" />
<line x1="425.50" y1="407.22" x2="426.90" y2="407.22" stroke="#bb5c2a" stroke-width="0.9" />
<line x1="425.50" y1="388.49" x2="426.90" y2="388.49" stroke="#bb5c2a" stroke-width="0.9" />
<line x1="425.50" y1="369.75" x2="426.90" y2="369.75" stroke="#bb5c2a" stroke-width="0.9" />
<line x1="273.40" y1="501.70" x2="273.40" y2="503.90" stroke="#000" stroke-width="1" />
<text x="273.40" y="512.10" font-size="7.6" font-weight="bold" fill="#111" text-anchor="middle" >0</text>
<line x1="296.70" y1="501.70" x2="296.70" y2="503.90" stroke="#000" stroke-width="1" />
<text x="296.70" y="512.10" font-size="7.6" font-weight="bold" fill="#111" text-anchor="middle" >50</text>
<line x1="320.00" y1="501.70" x2="320.00" y2="503.90" stroke="#000" stroke-width="1" />
<text x="320.00" y="512.10" font-size="7.6" font-weight="bold" fill="#111" text-anchor="middle" >100</text>
<line x1="343.30" y1="501.70" x2="343.30" y2="503.90" stroke="#000" stroke-width="1" />
<text x="343.30" y="512.10" font-size="7.6" font-weight="bold" fill="#111" text-anchor="middle" >150</text>
<line x1="366.60" y1="501.70" x2="366.60" y2="503.90" stroke="#000" stroke-width="1" />
<text x="366.60" y="512.10" font-size="7.6" font-weight="bold" fill="#111" text-anchor="middle" >200</text>
<line x1="389.90" y1="501.70" x2="389.90" y2="503.90" stroke="#000" stroke-width="1" />
<text x="389.90" y="512.10" font-size="7.6" font-weight="bold" fill="#111" text-anchor="middle" >250</text>
<line x1="413.20" y1="501.70" x2="413.20" y2="503.90" stroke="#000" stroke-width="1" />
<text x="413.20" y="512.10" font-size="7.6" font-weight="bold" fill="#111" text-anchor="middle" >300</text>
<line x1="285.05" y1="501.70" x2="285.05" y2="503.10" stroke="#000" stroke-width="0.9" />
<line x1="308.35" y1="501.70" x2="308.35" y2="503.10" stroke="#000" stroke-width="0.9" />
<line x1="331.65" y1="501.70" x2="331.65" y2="503.10" stroke="#000" stroke-width="0.9" />
<line x1="354.95" y1="501.70" x2="354.95" y2="503.10" stroke="#000" stroke-width="0.9" />
<line x1="378.25" y1="501.70" x2="378.25" y2="503.10" stroke="#000" stroke-width="0.9" />
<line x1="401.55" y1="501.70" x2="401.55" y2="503.10" stroke="#000" stroke-width="0.9" />
<text x="344.00" y="524.50" font-size="8.4" font-weight="bold" fill="#111" text-anchor="middle" textLength="41.20" lengthAdjust="spacingAndGlyphs" >Time (min)</text>
<polyline points="425.5,369.6 262.2,369.6 262.2,501.7 425.5,501.7" fill="none" stroke="#000" stroke-width="1.3"/>
<line x1="425.50" y1="369.00" x2="425.50" y2="502.30" stroke="#bb5c2a" stroke-width="1.3" />
<text transform="translate(242.20,435.65) rotate(-90)" font-size="8.4" font-weight="bold" fill="#111" text-anchor="middle" textLength="24.5" lengthAdjust="spacingAndGlyphs">dm/dt</text>
<text transform="translate(445.70,435.50) rotate(90)" font-size="8.6" font-weight="bold" fill="#bb5c2a" text-anchor="middle" textLength="70" lengthAdjust="spacingAndGlyphs">Temperature (<tspan font-size="5.6" dy="-2.8">o</tspan><tspan dy="2.8">C)</tspan></text>
<rect x="340.7" y="439.0" width="57.30" height="44.60" fill="#fff" stroke="none"/>
<polyline points="340.70,478.20 350.63,478.20 374.32,444.60 396.47,444.60" fill="none" stroke="#bb5c2a" stroke-width="1"/>
<path d="M340.70,451.40 C342.17,451.37 347.57,450.52 349.50,451.20 C351.43,451.88 351.22,453.80 352.30,455.50 C353.38,457.20 354.90,460.42 356.00,461.40 C357.10,462.38 357.93,461.77 358.90,461.40 C359.87,461.03 360.83,459.68 361.80,459.20 C362.77,458.72 363.85,458.02 364.70,458.50 C365.55,458.98 366.17,461.25 366.90,462.10 C367.63,462.95 368.37,464.33 369.10,463.60 C369.83,462.87 370.20,459.40 371.30,457.70 C372.40,456.00 371.68,454.45 375.70,453.40 C379.72,452.35 392.12,451.73 395.40,451.40" fill="none" stroke="#5ab0e8" stroke-width="0.9"/>
<path d="M340.70,451.90 C342.17,451.85 347.57,450.87 349.50,451.60 C351.43,452.33 351.47,454.30 352.30,456.30 C353.13,458.30 353.77,460.68 354.50,463.60 C355.23,466.52 355.85,471.00 356.70,473.80 C357.55,476.60 358.62,479.67 359.60,480.40 C360.58,481.13 361.62,479.55 362.60,478.20 C363.58,476.85 364.53,474.25 365.50,472.30 C366.47,470.35 367.43,468.68 368.40,466.50 C369.37,464.32 370.33,461.03 371.30,459.20 C372.27,457.37 372.98,456.60 374.20,455.50 C375.42,454.40 375.07,453.25 378.60,452.60 C382.13,451.95 392.60,451.77 395.40,451.60" fill="none" stroke="#f0a040" stroke-width="0.9"/>
<path d="M340.70,451.40 C342.17,451.37 347.32,450.38 349.50,451.20 C351.68,452.02 352.60,454.97 353.80,456.30 C355.00,457.63 355.73,458.60 356.70,459.20 C357.67,459.80 358.50,460.15 359.60,459.90 C360.70,459.65 362.20,457.82 363.30,457.70 C364.40,457.58 365.35,459.07 366.20,459.20 C367.05,459.33 367.30,459.23 368.40,458.50 C369.50,457.77 371.33,455.78 372.80,454.80 C374.27,453.82 373.43,453.17 377.20,452.60 C380.97,452.03 392.37,451.60 395.40,451.40" fill="none" stroke="#e8505b" stroke-width="0.9"/>
<path d="M340.70,451.40 C342.17,451.37 347.32,450.02 349.50,451.20 C351.68,452.38 352.60,456.43 353.80,458.50 C355.00,460.57 355.73,462.38 356.70,463.60 C357.67,464.82 358.62,465.57 359.60,465.80 C360.58,466.03 361.75,465.25 362.60,465.00 C363.45,464.75 363.85,464.30 364.70,464.30 C365.55,464.30 366.83,465.12 367.70,465.00 C368.57,464.88 369.05,464.57 369.90,463.60 C370.75,462.63 371.83,460.67 372.80,459.20 C373.77,457.73 374.48,455.90 375.70,454.80 C376.92,453.70 376.82,453.17 380.10,452.60 C383.38,452.03 392.85,451.60 395.40,451.40" fill="none" stroke="#9a5ad8" stroke-width="0.9"/>
<line x1="338.90" y1="439.90" x2="340.70" y2="439.90" stroke="#000" stroke-width="0.9" />
<text x="338.10" y="442.10" font-size="6.2" font-weight="bold" fill="#111" text-anchor="end" >0.02</text>
<line x1="338.90" y1="450.40" x2="340.70" y2="450.40" stroke="#000" stroke-width="0.9" />
<text x="338.10" y="452.60" font-size="6.2" font-weight="bold" fill="#111" text-anchor="end" >0.00</text>
<line x1="338.90" y1="461.40" x2="340.70" y2="461.40" stroke="#000" stroke-width="0.9" />
<text x="338.10" y="463.60" font-size="6.2" font-weight="bold" fill="#111" text-anchor="end" >-0.02</text>
<line x1="338.90" y1="472.30" x2="340.70" y2="472.30" stroke="#000" stroke-width="0.9" />
<text x="338.10" y="474.50" font-size="6.2" font-weight="bold" fill="#111" text-anchor="end" >-0.04</text>
<line x1="338.90" y1="483.30" x2="340.70" y2="483.30" stroke="#000" stroke-width="0.9" />
<text x="338.10" y="485.50" font-size="6.2" font-weight="bold" fill="#111" text-anchor="end" >-0.06</text>
<line x1="398.00" y1="478.20" x2="399.80" y2="478.20" stroke="#bb5c2a" stroke-width="0.9" />
<text x="400.80" y="480.40" font-size="6.2" font-weight="bold" fill="#bb5c2a" text-anchor="start" >300</text>
<line x1="398.00" y1="467.00" x2="399.80" y2="467.00" stroke="#bb5c2a" stroke-width="0.9" />
<text x="400.80" y="469.20" font-size="6.2" font-weight="bold" fill="#bb5c2a" text-anchor="start" >400</text>
<line x1="398.00" y1="455.80" x2="399.80" y2="455.80" stroke="#bb5c2a" stroke-width="0.9" />
<text x="400.80" y="458.00" font-size="6.2" font-weight="bold" fill="#bb5c2a" text-anchor="start" >500</text>
<line x1="398.00" y1="444.60" x2="399.80" y2="444.60" stroke="#bb5c2a" stroke-width="0.9" />
<text x="400.80" y="446.80" font-size="6.2" font-weight="bold" fill="#bb5c2a" text-anchor="start" >600</text>
<line x1="340.70" y1="483.60" x2="340.70" y2="485.40" stroke="#000" stroke-width="0.9" />
<text x="340.70" y="491.80" font-size="6.4" font-weight="bold" fill="#111" text-anchor="middle" >150</text>
<line x1="359.80" y1="483.60" x2="359.80" y2="485.40" stroke="#000" stroke-width="0.9" />
<text x="359.80" y="491.80" font-size="6.4" font-weight="bold" fill="#111" text-anchor="middle" >200</text>
<line x1="378.90" y1="483.60" x2="378.90" y2="485.40" stroke="#000" stroke-width="0.9" />
<text x="378.90" y="491.80" font-size="6.4" font-weight="bold" fill="#111" text-anchor="middle" >250</text>
<line x1="398.00" y1="483.60" x2="398.00" y2="485.40" stroke="#000" stroke-width="0.9" />
<text x="398.00" y="491.80" font-size="6.4" font-weight="bold" fill="#111" text-anchor="middle" >300</text>
<text x="369.35" y="499.00" font-size="7.6" font-weight="bold" fill="#111" text-anchor="middle" >Time (min)</text>
<polyline points="398.0,439.0 340.7,439.0 340.7,483.6 398.0,483.6" fill="none" stroke="#000" stroke-width="1"/>
<line x1="398.00" y1="438.50" x2="398.00" y2="484.10" stroke="#bb5c2a" stroke-width="1" />
<text transform="translate(321.80,461.90) rotate(-90)" font-size="7.4" font-weight="bold" fill="#111" text-anchor="middle" textLength="20.2" lengthAdjust="spacingAndGlyphs">dm/dt</text>
<text transform="translate(413.40,461.60) rotate(90)" font-size="7.3" font-weight="bold" fill="#bb5c2a" text-anchor="middle" textLength="54" lengthAdjust="spacingAndGlyphs">Temperature (<tspan font-size="4.6" dy="-2.3">o</tspan><tspan dy="2.3">C)</tspan></text>
<polyline points="502.10,485.88 527.80,435.31 583.88,435.31 612.15,379.12 639.95,379.12" stroke="#bb5c2a" stroke-width="1.1" fill="none" stroke-linejoin="round" />
<path d="M502.10,429.30 C502.40,428.20 503.25,424.23 503.90,422.70 C504.55,421.17 505.22,420.32 506.00,420.10 C506.78,419.88 507.73,421.83 508.60,421.40 C509.47,420.97 510.32,419.68 511.20,417.50 C512.08,415.32 512.80,412.02 513.90,408.30 C515.00,404.58 516.50,398.05 517.80,395.20 C519.10,392.35 519.73,392.22 521.70,391.20 C523.67,390.18 526.55,389.53 529.60,389.10 C532.65,388.67 537.89,388.65 540.00,388.60 C542.11,388.55 541.44,388.77 542.29,388.80 C543.14,388.83 544.16,388.80 545.09,388.80 C546.03,388.80 546.96,388.80 547.90,388.80 C548.83,388.80 549.76,388.80 550.70,388.80 C551.63,388.80 552.57,388.80 553.50,388.80 C554.44,388.80 555.37,388.80 556.31,388.80 C557.24,388.80 558.18,388.80 559.11,388.80 C560.05,388.80 560.98,388.80 561.91,388.80 C562.85,388.80 563.78,388.80 564.72,388.80 C565.65,388.80 566.59,388.80 567.52,388.80 C568.46,388.80 569.39,388.80 570.33,388.80 C571.26,388.80 572.19,388.80 573.13,388.80 C574.06,388.80 575.00,388.80 575.93,388.80 C576.87,388.80 577.80,388.80 578.74,388.80 C579.67,388.80 580.61,388.80 581.54,388.80 C582.48,388.80 583.41,388.76 584.34,388.80 C585.28,388.84 586.21,388.89 587.15,389.07 C588.08,389.24 589.02,389.59 589.95,389.82 C590.89,390.05 591.82,390.27 592.76,390.45 C593.69,390.62 594.63,390.76 595.56,390.86 C596.49,390.95 597.43,391.00 598.36,391.00 C599.30,391.00 600.23,390.95 601.17,390.86 C602.10,390.76 603.04,390.62 603.97,390.45 C604.91,390.27 605.84,390.05 606.78,389.82 C607.71,389.59 608.64,389.24 609.58,389.07 C610.51,388.89 611.45,388.84 612.38,388.80 C613.32,388.76 614.25,388.80 615.19,388.80 C616.12,388.80 617.06,388.80 617.99,388.80 C618.93,388.80 619.86,388.80 620.79,388.80 C621.73,388.80 622.66,388.80 623.60,388.80 C624.53,388.80 625.47,388.80 626.40,388.80 C627.34,388.80 628.27,388.80 629.21,388.80 C630.14,388.80 631.07,388.80 632.01,388.80 C632.94,388.80 633.88,388.80 634.81,388.80 C635.75,388.80 636.68,388.80 637.62,388.80 C638.55,388.80 639.95,388.80 640.42,388.80" fill="none" stroke="#f0a040" stroke-width="1.05" stroke-linejoin="round"/>
<path d="M502.10,458.20 C502.53,455.78 503.83,448.08 504.70,443.70 C505.57,439.32 506.43,434.08 507.30,431.90 C508.17,429.72 509.15,430.15 509.90,430.60 C510.65,431.05 511.05,436.35 511.80,434.60 C512.55,432.85 513.40,425.13 514.40,420.10 C515.40,415.07 516.35,408.77 517.80,404.40 C519.25,400.03 521.13,396.32 523.10,393.90 C525.07,391.48 526.78,390.78 529.60,389.90 C532.42,389.02 537.89,388.78 540.00,388.60 C542.11,388.42 541.44,388.77 542.29,388.80 C543.14,388.83 544.16,388.80 545.09,388.80 C546.03,388.80 546.96,388.80 547.90,388.80 C548.83,388.80 549.76,388.80 550.70,388.80 C551.63,388.80 552.57,388.80 553.50,388.80 C554.44,388.80 555.37,388.80 556.31,388.80 C557.24,388.80 558.18,388.80 559.11,388.80 C560.05,388.80 560.98,388.80 561.91,388.80 C562.85,388.80 563.78,388.80 564.72,388.80 C565.65,388.80 566.59,388.80 567.52,388.80 C568.46,388.80 569.39,388.80 570.33,388.80 C571.26,388.80 572.19,388.80 573.13,388.80 C574.06,388.80 575.00,388.80 575.93,388.80 C576.87,388.80 577.80,388.80 578.74,388.80 C579.67,388.80 580.61,388.80 581.54,388.80 C582.48,388.80 583.41,388.77 584.34,388.80 C585.28,388.83 586.21,388.86 587.15,388.98 C588.08,389.10 589.02,389.34 589.95,389.50 C590.89,389.65 591.82,389.81 592.76,389.92 C593.69,390.04 594.63,390.14 595.56,390.20 C596.49,390.27 597.43,390.30 598.36,390.30 C599.30,390.30 600.23,390.27 601.17,390.20 C602.10,390.14 603.04,390.04 603.97,389.92 C604.91,389.81 605.84,389.65 606.78,389.50 C607.71,389.34 608.64,389.10 609.58,388.98 C610.51,388.86 611.45,388.83 612.38,388.80 C613.32,388.77 614.25,388.80 615.19,388.80 C616.12,388.80 617.06,388.80 617.99,388.80 C618.93,388.80 619.86,388.80 620.79,388.80 C621.73,388.80 622.66,388.80 623.60,388.80 C624.53,388.80 625.47,388.80 626.40,388.80 C627.34,388.80 628.27,388.80 629.21,388.80 C630.14,388.80 631.07,388.80 632.01,388.80 C632.94,388.80 633.88,388.80 634.81,388.80 C635.75,388.80 636.68,388.80 637.62,388.80 C638.55,388.80 639.95,388.80 640.42,388.80" fill="none" stroke="#5ab0e8" stroke-width="1.05" stroke-linejoin="round"/>
<path d="M502.10,443.70 C502.53,447.65 503.83,460.83 504.70,467.40 C505.57,473.97 506.43,483.55 507.30,483.10 C508.17,482.65 509.02,473.45 509.90,464.70 C510.78,455.95 511.72,440.65 512.60,430.60 C513.48,420.55 513.90,410.73 515.20,404.40 C516.50,398.07 518.43,395.02 520.40,392.60 C522.37,390.18 523.73,390.57 527.00,389.90 C530.27,389.23 537.45,388.78 540.00,388.60 C542.55,388.42 541.44,388.77 542.29,388.80 C543.14,388.83 544.16,388.80 545.09,388.80 C546.03,388.80 546.96,388.80 547.90,388.80 C548.83,388.80 549.76,388.80 550.70,388.80 C551.63,388.80 552.57,388.80 553.50,388.80 C554.44,388.80 555.37,388.80 556.31,388.80 C557.24,388.80 558.18,388.80 559.11,388.80 C560.05,388.80 560.98,388.80 561.91,388.80 C562.85,388.80 563.78,388.80 564.72,388.80 C565.65,388.80 566.59,388.80 567.52,388.80 C568.46,388.80 569.39,388.80 570.33,388.80 C571.26,388.80 572.19,388.80 573.13,388.80 C574.06,388.80 575.00,388.80 575.93,388.80 C576.87,388.80 577.80,388.80 578.74,388.80 C579.67,388.80 580.61,388.80 581.54,388.80 C582.48,388.80 583.41,388.78 584.34,388.80 C585.28,388.82 586.21,388.84 587.15,388.92 C588.08,389.00 589.02,389.16 589.95,389.26 C590.89,389.37 591.82,389.47 592.76,389.55 C593.69,389.63 594.63,389.69 595.56,389.74 C596.49,389.78 597.43,389.80 598.36,389.80 C599.30,389.80 600.23,389.78 601.17,389.74 C602.10,389.69 603.04,389.63 603.97,389.55 C604.91,389.47 605.84,389.37 606.78,389.26 C607.71,389.16 608.64,389.00 609.58,388.92 C610.51,388.84 611.45,388.82 612.38,388.80 C613.32,388.78 614.25,388.80 615.19,388.80 C616.12,388.80 617.06,388.80 617.99,388.80 C618.93,388.80 619.86,388.80 620.79,388.80 C621.73,388.80 622.66,388.80 623.60,388.80 C624.53,388.80 625.47,388.80 626.40,388.80 C627.34,388.80 628.27,388.80 629.21,388.80 C630.14,388.80 631.07,388.80 632.01,388.80 C632.94,388.80 633.88,388.80 634.81,388.80 C635.75,388.80 636.68,388.80 637.62,388.80 C638.55,388.80 639.95,388.80 640.42,388.80" fill="none" stroke="#e8505b" stroke-width="1.05" stroke-linejoin="round"/>
<path d="M502.10,446.40 C502.53,451.20 503.97,469.52 504.70,475.20 C505.43,480.88 505.63,484.87 506.50,480.50 C507.37,476.13 508.77,459.93 509.90,449.00 C511.03,438.07 511.98,423.65 513.30,414.90 C514.62,406.15 515.95,400.45 517.80,396.50 C519.65,392.55 521.53,392.45 524.40,391.20 C527.27,389.95 531.57,389.43 535.00,389.00 C538.43,388.57 543.01,388.63 545.00,388.60 C546.99,388.57 546.17,388.77 546.96,388.80 C547.75,388.83 548.83,388.80 549.76,388.80 C550.70,388.80 551.63,388.80 552.57,388.80 C553.50,388.80 554.44,388.80 555.37,388.80 C556.31,388.80 557.24,388.80 558.18,388.80 C559.11,388.80 560.05,388.80 560.98,388.80 C561.91,388.80 562.85,388.80 563.78,388.80 C564.72,388.80 565.65,388.80 566.59,388.80 C567.52,388.80 568.46,388.80 569.39,388.80 C570.33,388.80 571.26,388.80 572.20,388.80 C573.13,388.80 574.06,388.80 575.00,388.80 C575.93,388.80 576.87,388.80 577.80,388.80 C578.74,388.80 579.67,388.80 580.61,388.80 C581.54,388.80 582.48,388.80 583.41,388.80 C584.34,388.80 585.28,388.72 586.21,388.80 C587.15,388.88 588.08,389.14 589.02,389.30 C589.95,389.45 590.89,389.60 591.82,389.73 C592.76,389.85 593.69,389.96 594.63,390.04 C595.56,390.12 596.49,390.17 597.43,390.19 C598.36,390.21 599.30,390.20 600.23,390.16 C601.17,390.12 602.10,390.05 603.04,389.95 C603.97,389.86 604.91,389.73 605.84,389.60 C606.78,389.46 607.71,389.27 608.64,389.14 C609.58,389.00 610.51,388.86 611.45,388.80 C612.38,388.74 613.32,388.80 614.25,388.80 C615.19,388.80 616.12,388.80 617.06,388.80 C617.99,388.80 618.92,388.80 619.86,388.80 C620.79,388.80 621.73,388.80 622.66,388.80 C623.60,388.80 624.53,388.80 625.47,388.80 C626.40,388.80 627.34,388.80 628.27,388.80 C629.21,388.80 630.14,388.80 631.07,388.80 C632.01,388.80 632.94,388.80 633.88,388.80 C634.81,388.80 635.75,388.80 636.68,388.80 C637.62,388.80 639.02,388.80 639.49,388.80" fill="none" stroke="#9a5ad8" stroke-width="1.05" stroke-linejoin="round"/>
<text x="494.80" y="380.40" font-size="7.2" font-weight="bold" fill="#111" text-anchor="start" textLength="37.00" lengthAdjust="spacingAndGlyphs" >DTG curves</text>
<line x1="527.00" y1="397.80" x2="545.90" y2="397.80" stroke="#e8505b" stroke-width="1.0" />
<text x="548.50" y="400.50" font-size="7.8" font-weight="bold" fill="#111" text-anchor="start" textLength="32.72" lengthAdjust="spacingAndGlyphs" >Mn-LTA-6</text>
<line x1="527.00" y1="407.50" x2="545.90" y2="407.50" stroke="#5ab0e8" stroke-width="1.0" />
<text x="548.50" y="410.20" font-size="7.8" font-weight="bold" fill="#111" text-anchor="start" textLength="34.30" lengthAdjust="spacingAndGlyphs" >Mn-CHA-6</text>
<line x1="527.00" y1="417.50" x2="545.90" y2="417.50" stroke="#f0a040" stroke-width="1.0" />
<text x="548.50" y="420.20" font-size="7.8" font-weight="bold" fill="#111" text-anchor="start" textLength="35.48" lengthAdjust="spacingAndGlyphs" >Mn-MOR-6</text>
<line x1="527.00" y1="427.20" x2="545.90" y2="427.20" stroke="#9a5ad8" stroke-width="1.0" />
<text x="548.50" y="429.90" font-size="7.8" font-weight="bold" fill="#111" text-anchor="start" textLength="33.51" lengthAdjust="spacingAndGlyphs" >Mn-FAU-6</text>
<line x1="488.90" y1="388.50" x2="491.10" y2="388.50" stroke="#000" stroke-width="1" />
<text x="487.50" y="391.20" font-size="7.6" font-weight="bold" fill="#111" text-anchor="end" >0.0</text>
<line x1="488.90" y1="426.20" x2="491.10" y2="426.20" stroke="#000" stroke-width="1" />
<text x="487.50" y="428.90" font-size="7.6" font-weight="bold" fill="#111" text-anchor="end" >-0.5</text>
<line x1="488.90" y1="463.90" x2="491.10" y2="463.90" stroke="#000" stroke-width="1" />
<text x="487.50" y="466.60" font-size="7.6" font-weight="bold" fill="#111" text-anchor="end" >-1.0</text>
<line x1="488.90" y1="501.60" x2="491.10" y2="501.60" stroke="#000" stroke-width="1" />
<text x="487.50" y="504.30" font-size="7.6" font-weight="bold" fill="#111" text-anchor="end" >-1.5</text>
<line x1="489.70" y1="407.35" x2="491.10" y2="407.35" stroke="#000" stroke-width="0.9" />
<line x1="489.70" y1="445.05" x2="491.10" y2="445.05" stroke="#000" stroke-width="0.9" />
<line x1="489.70" y1="482.75" x2="491.10" y2="482.75" stroke="#000" stroke-width="0.9" />
<line x1="489.70" y1="369.65" x2="491.10" y2="369.65" stroke="#000" stroke-width="0.9" />
<line x1="653.90" y1="491.50" x2="656.10" y2="491.50" stroke="#bb5c2a" stroke-width="1" />
<text x="658.10" y="494.20" font-size="7.6" font-weight="bold" fill="#bb5c2a" text-anchor="start" >0</text>
<line x1="653.90" y1="472.77" x2="656.10" y2="472.77" stroke="#bb5c2a" stroke-width="1" />
<text x="658.10" y="475.47" font-size="7.6" font-weight="bold" fill="#bb5c2a" text-anchor="start" >100</text>
<line x1="653.90" y1="454.04" x2="656.10" y2="454.04" stroke="#bb5c2a" stroke-width="1" />
<text x="658.10" y="456.74" font-size="7.6" font-weight="bold" fill="#bb5c2a" text-anchor="start" >200</text>
<line x1="653.90" y1="435.31" x2="656.10" y2="435.31" stroke="#bb5c2a" stroke-width="1" />
<text x="658.10" y="438.01" font-size="7.6" font-weight="bold" fill="#bb5c2a" text-anchor="start" >300</text>
<line x1="653.90" y1="416.58" x2="656.10" y2="416.58" stroke="#bb5c2a" stroke-width="1" />
<text x="658.10" y="419.28" font-size="7.6" font-weight="bold" fill="#bb5c2a" text-anchor="start" >400</text>
<line x1="653.90" y1="397.85" x2="656.10" y2="397.85" stroke="#bb5c2a" stroke-width="1" />
<text x="658.10" y="400.55" font-size="7.6" font-weight="bold" fill="#bb5c2a" text-anchor="start" >500</text>
<line x1="653.90" y1="379.12" x2="656.10" y2="379.12" stroke="#bb5c2a" stroke-width="1" />
<text x="658.10" y="381.82" font-size="7.6" font-weight="bold" fill="#bb5c2a" text-anchor="start" >600</text>
<line x1="653.90" y1="482.13" x2="655.30" y2="482.13" stroke="#bb5c2a" stroke-width="0.9" />
<line x1="653.90" y1="463.40" x2="655.30" y2="463.40" stroke="#bb5c2a" stroke-width="0.9" />
<line x1="653.90" y1="444.68" x2="655.30" y2="444.68" stroke="#bb5c2a" stroke-width="0.9" />
<line x1="653.90" y1="425.94" x2="655.30" y2="425.94" stroke="#bb5c2a" stroke-width="0.9" />
<line x1="653.90" y1="407.22" x2="655.30" y2="407.22" stroke="#bb5c2a" stroke-width="0.9" />
<line x1="653.90" y1="388.49" x2="655.30" y2="388.49" stroke="#bb5c2a" stroke-width="0.9" />
<line x1="653.90" y1="369.75" x2="655.30" y2="369.75" stroke="#bb5c2a" stroke-width="0.9" />
<line x1="502.10" y1="501.70" x2="502.10" y2="503.90" stroke="#000" stroke-width="1" />
<text x="502.10" y="512.10" font-size="7.6" font-weight="bold" fill="#111" text-anchor="middle" >0</text>
<line x1="525.47" y1="501.70" x2="525.47" y2="503.90" stroke="#000" stroke-width="1" />
<text x="525.47" y="512.10" font-size="7.6" font-weight="bold" fill="#111" text-anchor="middle" >50</text>
<line x1="548.83" y1="501.70" x2="548.83" y2="503.90" stroke="#000" stroke-width="1" />
<text x="548.83" y="512.10" font-size="7.6" font-weight="bold" fill="#111" text-anchor="middle" >100</text>
<line x1="572.20" y1="501.70" x2="572.20" y2="503.90" stroke="#000" stroke-width="1" />
<text x="572.20" y="512.10" font-size="7.6" font-weight="bold" fill="#111" text-anchor="middle" >150</text>
<line x1="595.56" y1="501.70" x2="595.56" y2="503.90" stroke="#000" stroke-width="1" />
<text x="595.56" y="512.10" font-size="7.6" font-weight="bold" fill="#111" text-anchor="middle" >200</text>
<line x1="618.93" y1="501.70" x2="618.93" y2="503.90" stroke="#000" stroke-width="1" />
<text x="618.93" y="512.10" font-size="7.6" font-weight="bold" fill="#111" text-anchor="middle" >250</text>
<line x1="642.29" y1="501.70" x2="642.29" y2="503.90" stroke="#000" stroke-width="1" />
<text x="642.29" y="512.10" font-size="7.6" font-weight="bold" fill="#111" text-anchor="middle" >300</text>
<line x1="513.78" y1="501.70" x2="513.78" y2="503.10" stroke="#000" stroke-width="0.9" />
<line x1="537.15" y1="501.70" x2="537.15" y2="503.10" stroke="#000" stroke-width="0.9" />
<line x1="560.51" y1="501.70" x2="560.51" y2="503.10" stroke="#000" stroke-width="0.9" />
<line x1="583.88" y1="501.70" x2="583.88" y2="503.10" stroke="#000" stroke-width="0.9" />
<line x1="607.24" y1="501.70" x2="607.24" y2="503.10" stroke="#000" stroke-width="0.9" />
<line x1="630.61" y1="501.70" x2="630.61" y2="503.10" stroke="#000" stroke-width="0.9" />
<text x="572.00" y="524.50" font-size="8.4" font-weight="bold" fill="#111" text-anchor="middle" textLength="41.20" lengthAdjust="spacingAndGlyphs" >Time (min)</text>
<polyline points="653.9,369.6 491.1,369.6 491.1,501.7 653.9,501.7" fill="none" stroke="#000" stroke-width="1.3"/>
<line x1="653.90" y1="369.00" x2="653.90" y2="502.30" stroke="#bb5c2a" stroke-width="1.3" />
<text transform="translate(471.10,435.65) rotate(-90)" font-size="8.4" font-weight="bold" fill="#111" text-anchor="middle" textLength="24.5" lengthAdjust="spacingAndGlyphs">dm/dt</text>
<text transform="translate(674.10,436.00) rotate(90)" font-size="8.6" font-weight="bold" fill="#bb5c2a" text-anchor="middle" textLength="70" lengthAdjust="spacingAndGlyphs">Temperature (<tspan font-size="5.6" dy="-2.8">o</tspan><tspan dy="2.8">C)</tspan></text>
<rect x="568.5" y="439.0" width="56.90" height="43.60" fill="#fff" stroke="none"/>
<polyline points="568.50,477.00 578.36,477.00 601.88,444.20 623.88,444.20" fill="none" stroke="#bb5c2a" stroke-width="1"/>
<path d="M568.50,447.20 C570.08,447.13 575.93,445.53 578.00,446.80 C580.07,448.07 579.93,452.00 580.90,454.80 C581.87,457.60 582.95,462.02 583.80,463.60 C584.65,465.18 585.15,465.15 586.00,464.30 C586.85,463.45 588.17,459.78 588.90,458.50 C589.63,457.22 589.92,456.60 590.40,456.60 C590.88,456.60 591.20,457.22 591.80,458.50 C592.40,459.78 593.27,463.22 594.00,464.30 C594.73,465.38 595.47,465.85 596.20,465.00 C596.93,464.15 597.43,461.38 598.40,459.20 C599.37,457.02 597.75,453.85 602.00,451.90 C606.25,449.95 620.25,448.23 623.90,447.50" fill="none" stroke="#5ab0e8" stroke-width="0.9"/>
<path d="M568.50,447.20 C570.08,447.13 575.93,446.02 578.00,446.80 C580.07,447.58 580.05,450.08 580.90,451.90 C581.75,453.72 582.37,456.23 583.10,457.70 C583.83,459.17 584.45,460.33 585.30,460.70 C586.15,461.07 587.35,459.90 588.20,459.90 C589.05,459.90 589.55,460.33 590.40,460.70 C591.25,461.07 592.65,460.65 593.30,462.10 C593.95,463.55 593.93,466.72 594.30,469.40 C594.67,472.08 595.07,477.47 595.50,478.20 C595.93,478.93 596.42,476.00 596.90,473.80 C597.38,471.60 597.90,467.68 598.40,465.00 C598.90,462.32 599.17,459.88 599.90,457.70 C600.63,455.52 601.35,453.35 602.80,451.90 C604.25,450.45 605.08,449.73 608.60,449.00 C612.12,448.27 621.35,447.75 623.90,447.50" fill="none" stroke="#f0a040" stroke-width="0.9"/>
<path d="M568.50,447.20 C570.08,447.13 575.82,445.53 578.00,446.80 C580.18,448.07 580.52,452.73 581.60,454.80 C582.68,456.87 583.53,458.10 584.50,459.20 C585.47,460.30 586.42,461.15 587.40,461.40 C588.38,461.65 589.42,460.70 590.40,460.70 C591.38,460.70 592.33,461.77 593.30,461.40 C594.27,461.03 595.35,459.35 596.20,458.50 C597.05,457.65 597.55,457.15 598.40,456.30 C599.25,455.45 597.05,454.82 601.30,453.40 C605.55,451.98 620.13,448.73 623.90,447.80" fill="none" stroke="#e8505b" stroke-width="0.9"/>
<path d="M568.50,447.20 C570.08,447.13 575.93,445.77 578.00,446.80 C580.07,447.83 579.93,450.97 580.90,453.40 C581.87,455.83 582.83,459.47 583.80,461.40 C584.77,463.33 585.48,464.40 586.70,465.00 C587.92,465.60 589.88,464.63 591.10,465.00 C592.32,465.37 593.15,467.20 594.00,467.20 C594.85,467.20 595.47,466.08 596.20,465.00 C596.93,463.92 597.55,462.63 598.40,460.70 C599.25,458.77 600.08,455.35 601.30,453.40 C602.52,451.45 601.93,450.03 605.70,449.00 C609.47,447.97 620.87,447.50 623.90,447.20" fill="none" stroke="#9a5ad8" stroke-width="0.9"/>
<line x1="566.70" y1="445.80" x2="568.50" y2="445.80" stroke="#000" stroke-width="0.9" />
<text x="565.90" y="448.00" font-size="6.2" font-weight="bold" fill="#111" text-anchor="end" >0.00</text>
<line x1="566.70" y1="461.00" x2="568.50" y2="461.00" stroke="#000" stroke-width="0.9" />
<text x="565.90" y="463.20" font-size="6.2" font-weight="bold" fill="#111" text-anchor="end" >-0.02</text>
<line x1="566.70" y1="475.30" x2="568.50" y2="475.30" stroke="#000" stroke-width="0.9" />
<text x="565.90" y="477.50" font-size="6.2" font-weight="bold" fill="#111" text-anchor="end" >-0.04</text>
<line x1="625.40" y1="477.00" x2="627.20" y2="477.00" stroke="#bb5c2a" stroke-width="0.9" />
<text x="628.20" y="479.20" font-size="6.2" font-weight="bold" fill="#bb5c2a" text-anchor="start" >300</text>
<line x1="625.40" y1="466.07" x2="627.20" y2="466.07" stroke="#bb5c2a" stroke-width="0.9" />
<text x="628.20" y="468.27" font-size="6.2" font-weight="bold" fill="#bb5c2a" text-anchor="start" >400</text>
<line x1="625.40" y1="455.13" x2="627.20" y2="455.13" stroke="#bb5c2a" stroke-width="0.9" />
<text x="628.20" y="457.33" font-size="6.2" font-weight="bold" fill="#bb5c2a" text-anchor="start" >500</text>
<line x1="625.40" y1="444.20" x2="627.20" y2="444.20" stroke="#bb5c2a" stroke-width="0.9" />
<text x="628.20" y="446.40" font-size="6.2" font-weight="bold" fill="#bb5c2a" text-anchor="start" >600</text>
<line x1="568.50" y1="482.60" x2="568.50" y2="484.40" stroke="#000" stroke-width="0.9" />
<text x="568.50" y="490.80" font-size="6.4" font-weight="bold" fill="#111" text-anchor="middle" >150</text>
<line x1="587.47" y1="482.60" x2="587.47" y2="484.40" stroke="#000" stroke-width="0.9" />
<text x="587.47" y="490.80" font-size="6.4" font-weight="bold" fill="#111" text-anchor="middle" >200</text>
<line x1="606.43" y1="482.60" x2="606.43" y2="484.40" stroke="#000" stroke-width="0.9" />
<text x="606.43" y="490.80" font-size="6.4" font-weight="bold" fill="#111" text-anchor="middle" >250</text>
<line x1="625.40" y1="482.60" x2="625.40" y2="484.40" stroke="#000" stroke-width="0.9" />
<text x="625.40" y="490.80" font-size="6.4" font-weight="bold" fill="#111" text-anchor="middle" >300</text>
<text x="596.95" y="498.00" font-size="7.6" font-weight="bold" fill="#111" text-anchor="middle" >Time (min)</text>
<polyline points="625.4,439.0 568.5,439.0 568.5,482.6 625.4,482.6" fill="none" stroke="#000" stroke-width="1"/>
<line x1="625.40" y1="438.50" x2="625.40" y2="483.10" stroke="#bb5c2a" stroke-width="1" />
<text transform="translate(549.60,461.40) rotate(-90)" font-size="7.4" font-weight="bold" fill="#111" text-anchor="middle" textLength="20.2" lengthAdjust="spacingAndGlyphs">dm/dt</text>
<text transform="translate(640.80,461.10) rotate(90)" font-size="7.3" font-weight="bold" fill="#bb5c2a" text-anchor="middle" textLength="54" lengthAdjust="spacingAndGlyphs">Temperature (<tspan font-size="4.6" dy="-2.3">o</tspan><tspan dy="2.3">C)</tspan></text>
</svg></body></html>
